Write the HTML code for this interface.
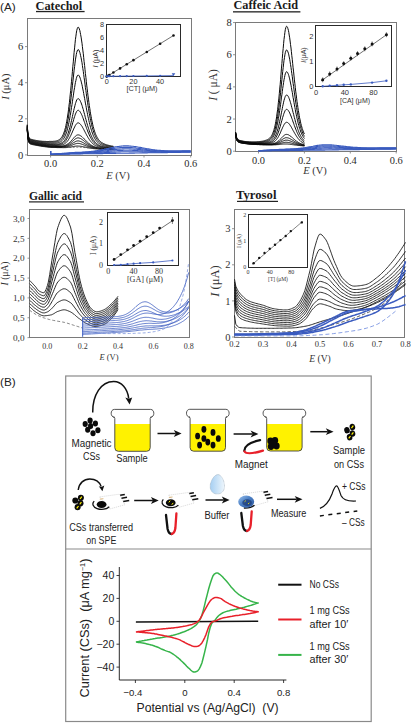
<!DOCTYPE html>
<html><head><meta charset="utf-8"><style>
html,body{margin:0;padding:0;background:#fff;}
body{width:411px;height:723px;overflow:hidden;}
svg{display:block;} text{white-space:pre;}
</style></head><body>
<svg width="411" height="723" viewBox="0 0 411 723">
<rect width="411" height="723" fill="#fff"/>
<text x="0" y="10.5" font-family="'Liberation Sans', sans-serif" font-size="11.8" text-anchor="start" font-weight="normal" font-style="normal" fill="#222" >(A)</text>
<rect x="27.5" y="18.5" width="164.0" height="137.0" fill="none" stroke="#7a7a7a" stroke-width="1"/>
<text x="35.5" y="9.5" font-family="'Liberation Serif', serif" font-size="12.4" text-anchor="start" font-weight="bold" font-style="normal" fill="#1a1a1a" textLength="46.7" lengthAdjust="spacingAndGlyphs">Catechol</text>
<rect x="36" y="10.9" width="48.6" height="1.3" fill="#222"/>
<text x="23.4" y="158.5" font-family="'Liberation Serif', serif" font-size="10.6" text-anchor="end" font-weight="normal" font-style="normal" fill="#2a2a2a" >0</text>
<line x1="25.0" y1="154.9" x2="27.5" y2="154.9" stroke="#7a7a7a" stroke-width="0.8"/>
<text x="23.4" y="122.4" font-family="'Liberation Serif', serif" font-size="10.6" text-anchor="end" font-weight="normal" font-style="normal" fill="#2a2a2a" >2</text>
<line x1="25.0" y1="118.80000000000001" x2="27.5" y2="118.80000000000001" stroke="#7a7a7a" stroke-width="0.8"/>
<text x="23.4" y="86.3" font-family="'Liberation Serif', serif" font-size="10.6" text-anchor="end" font-weight="normal" font-style="normal" fill="#2a2a2a" >4</text>
<line x1="25.0" y1="82.7" x2="27.5" y2="82.7" stroke="#7a7a7a" stroke-width="0.8"/>
<text x="23.4" y="50.199999999999996" font-family="'Liberation Serif', serif" font-size="10.6" text-anchor="end" font-weight="normal" font-style="normal" fill="#2a2a2a" >6</text>
<line x1="25.0" y1="46.599999999999994" x2="27.5" y2="46.599999999999994" stroke="#7a7a7a" stroke-width="0.8"/>
<text x="50.6" y="166.8" font-family="'Liberation Serif', serif" font-size="10.4" text-anchor="middle" font-weight="normal" font-style="normal" fill="#2a2a2a" >0.0</text>
<line x1="50.6" y1="155.5" x2="50.6" y2="157.5" stroke="#7a7a7a" stroke-width="0.8"/>
<text x="97.30000000000001" y="166.8" font-family="'Liberation Serif', serif" font-size="10.4" text-anchor="middle" font-weight="normal" font-style="normal" fill="#2a2a2a" >0.2</text>
<line x1="97.30000000000001" y1="155.5" x2="97.30000000000001" y2="157.5" stroke="#7a7a7a" stroke-width="0.8"/>
<text x="144.0" y="166.8" font-family="'Liberation Serif', serif" font-size="10.4" text-anchor="middle" font-weight="normal" font-style="normal" fill="#2a2a2a" >0.4</text>
<line x1="144.0" y1="155.5" x2="144.0" y2="157.5" stroke="#7a7a7a" stroke-width="0.8"/>
<text x="190.7" y="166.8" font-family="'Liberation Serif', serif" font-size="10.4" text-anchor="middle" font-weight="normal" font-style="normal" fill="#2a2a2a" >0.6</text>
<line x1="190.7" y1="155.5" x2="190.7" y2="157.5" stroke="#7a7a7a" stroke-width="0.8"/>
<text x="118" y="178.5" font-family="'Liberation Serif', serif" font-size="10.5" text-anchor="middle" font-weight="normal" font-style="normal" fill="#333" ><tspan font-style="italic">E</tspan> (V)</text>
<text x="0" y="0" font-family="'Liberation Serif', serif" font-size="10.5" text-anchor="middle" font-weight="normal" font-style="normal" fill="#333" transform="translate(9.4,86.6) rotate(-90)"><tspan font-style="italic">I</tspan> (μA)</text>
<path d="M27.2,124.6 L27.7,131.0 L28.1,134.5 L28.6,136.5 L29.0,137.6 L29.4,138.2 L29.9,138.6 L30.3,138.9 L30.7,139.1 L31.2,139.3 L31.6,139.4 L32.0,139.5 L32.5,139.7 L32.9,139.8 L33.3,139.9 L33.8,140.0 L34.2,140.1 L34.6,140.1 L35.1,140.2 L35.5,140.3 L35.9,140.4 L36.4,140.5 L36.8,140.5 L37.2,140.6 L37.7,140.7 L38.1,140.8 L38.5,140.8 L39.0,140.9 L39.4,140.9 L39.8,141.0 L40.3,141.0 L40.7,141.1 L41.1,141.1 L41.6,141.2 L42.0,141.2 L42.4,141.3 L42.9,141.3 L43.3,141.3 L43.7,141.4 L44.2,141.4 L44.6,141.4 L45.0,141.4 L45.5,141.4 L45.9,141.5 L46.4,141.5 L46.8,141.5 L47.2,141.5 L47.7,141.5 L48.1,141.5 L48.5,141.5 L49.0,141.5 L49.4,141.4 L49.8,141.4 L50.3,141.4 L50.7,141.4 L51.1,141.4 L51.6,141.4 L52.0,141.4 L52.4,141.4 L52.9,141.4 L53.3,141.3 L53.7,141.3 L54.2,141.3 L54.6,141.2 L55.0,141.1 L55.5,141.1 L55.9,141.0 L56.3,140.9 L56.8,140.8 L57.2,140.6 L57.6,140.5 L58.1,140.3 L58.5,140.1 L58.9,139.8 L59.4,139.5 L59.8,139.2 L60.2,138.9 L60.7,138.4 L61.1,137.9 L61.5,137.4 L62.0,136.8 L62.4,136.0 L62.8,135.2 L63.3,134.3 L63.7,133.2 L64.2,132.0 L64.6,130.7 L65.0,129.1 L65.5,127.5 L65.9,125.6 L66.3,123.5 L66.8,121.2 L67.2,118.7 L67.6,116.0 L68.1,113.0 L68.5,109.8 L68.9,106.4 L69.4,102.7 L69.8,98.8 L70.2,94.7 L70.7,90.4 L71.1,85.9 L71.5,81.3 L72.0,76.5 L72.4,71.7 L72.8,66.8 L73.3,61.9 L73.7,57.1 L74.1,52.4 L74.6,47.9 L75.0,43.7 L75.4,39.7 L75.9,36.2 L76.3,33.2 L76.7,30.7 L77.2,28.8 L77.6,27.6 L78.0,27.1 L78.5,27.3 L78.9,27.9 L79.3,28.9 L79.8,30.4 L80.2,32.3 L80.6,34.5 L81.1,37.1 L81.5,40.0 L82.0,43.2 L82.4,46.6 L82.8,50.1 L83.3,53.8 L83.7,57.7 L84.1,61.6 L84.6,65.5 L85.0,69.5 L85.4,73.5 L85.9,77.4 L86.3,81.3 L86.7,85.1 L87.2,88.8 L87.6,92.4 L88.0,95.9 L88.5,99.2 L88.9,102.5 L89.3,105.6 L89.8,108.5 L90.2,111.3 L90.6,113.9 L91.1,116.4 L91.5,118.7 L91.9,120.9 L92.4,123.0 L92.8,124.9 L93.2,126.6 L93.7,128.3 L94.1,129.8 L94.5,131.2 L95.0,132.4 L95.4,133.6 L95.8,134.7 L96.3,135.6 L96.7,136.5 L97.1,137.3 L97.6,138.1 L98.0,138.8 L98.4,139.4 L98.9,139.9 L99.3,140.4 L99.8,140.9 L100.2,141.3 L100.6,141.7 L101.1,142.1 L101.5,142.4 L101.9,142.7 L102.4,142.9 L102.8,143.2 L103.2,143.4 L103.7,143.6 L104.1,143.8 L104.5,144.0 L105.0,144.2 L105.4,144.4 L105.8,144.5 L106.3,144.7 L106.7,144.8 L107.1,144.9 L107.6,145.1 L108.0,145.2 L108.4,145.3 L108.9,145.4 L109.3,145.5 L109.7,145.6 L110.2,145.7 L110.6,145.8 L111.0,145.9 L111.5,146.0 L111.9,146.1 L112.3,146.1 L112.8,146.2 L113.2,146.3 L113.6,146.4" fill="none" stroke="#0a0a0a" stroke-width="1.0" stroke-linejoin="round" />
<path d="M27.2,125.2 L27.7,131.6 L28.1,135.1 L28.6,137.0 L29.0,138.2 L29.4,138.8 L29.9,139.2 L30.3,139.5 L30.7,139.7 L31.2,139.9 L31.6,140.0 L32.0,140.1 L32.5,140.2 L32.9,140.3 L33.3,140.4 L33.8,140.5 L34.2,140.6 L34.6,140.7 L35.1,140.8 L35.5,140.9 L35.9,141.0 L36.4,141.1 L36.8,141.1 L37.2,141.2 L37.7,141.3 L38.1,141.4 L38.5,141.4 L39.0,141.5 L39.4,141.5 L39.8,141.6 L40.3,141.7 L40.7,141.7 L41.1,141.8 L41.6,141.8 L42.0,141.9 L42.4,141.9 L42.9,142.0 L43.3,142.0 L43.7,142.0 L44.2,142.1 L44.6,142.1 L45.0,142.1 L45.5,142.1 L45.9,142.2 L46.4,142.2 L46.8,142.2 L47.2,142.2 L47.7,142.2 L48.1,142.2 L48.5,142.2 L49.0,142.2 L49.4,142.2 L49.8,142.2 L50.3,142.2 L50.7,142.2 L51.1,142.2 L51.6,142.2 L52.0,142.3 L52.4,142.2 L52.9,142.2 L53.3,142.2 L53.7,142.2 L54.2,142.2 L54.6,142.1 L55.0,142.1 L55.5,142.0 L55.9,142.0 L56.3,141.9 L56.8,141.8 L57.2,141.7 L57.6,141.6 L58.1,141.4 L58.5,141.3 L58.9,141.1 L59.4,140.9 L59.8,140.6 L60.2,140.3 L60.7,140.0 L61.1,139.6 L61.5,139.1 L62.0,138.6 L62.4,138.1 L62.8,137.4 L63.3,136.6 L63.7,135.8 L64.2,134.8 L64.6,133.7 L65.0,132.5 L65.5,131.1 L65.9,129.6 L66.3,127.9 L66.8,126.1 L67.2,124.0 L67.6,121.8 L68.1,119.4 L68.5,116.8 L68.9,114.0 L69.4,111.0 L69.8,107.9 L70.2,104.5 L70.7,101.0 L71.1,97.4 L71.5,93.6 L72.0,89.8 L72.4,85.8 L72.8,81.9 L73.3,77.9 L73.7,74.0 L74.1,70.2 L74.6,66.5 L75.0,63.1 L75.4,59.9 L75.9,57.0 L76.3,54.5 L76.7,52.5 L77.2,51.0 L77.6,50.0 L78.0,49.6 L78.5,49.7 L78.9,50.2 L79.3,51.1 L79.8,52.3 L80.2,53.8 L80.6,55.7 L81.1,57.8 L81.5,60.1 L82.0,62.7 L82.4,65.5 L82.8,68.4 L83.3,71.4 L83.7,74.5 L84.1,77.7 L84.6,80.9 L85.0,84.2 L85.4,87.4 L85.9,90.6 L86.3,93.7 L86.7,96.8 L87.2,99.9 L87.6,102.8 L88.0,105.6 L88.5,108.4 L88.9,111.0 L89.3,113.5 L89.8,115.9 L90.2,118.2 L90.6,120.3 L91.1,122.4 L91.5,124.3 L91.9,126.1 L92.4,127.7 L92.8,129.3 L93.2,130.7 L93.7,132.0 L94.1,133.3 L94.5,134.4 L95.0,135.4 L95.4,136.4 L95.8,137.3 L96.3,138.1 L96.7,138.8 L97.1,139.5 L97.6,140.1 L98.0,140.6 L98.4,141.1 L98.9,141.6 L99.3,142.0 L99.8,142.4 L100.2,142.7 L100.6,143.0 L101.1,143.3 L101.5,143.6 L101.9,143.8 L102.4,144.1 L102.8,144.3 L103.2,144.5 L103.7,144.6 L104.1,144.8 L104.5,144.9 L105.0,145.1 L105.4,145.2 L105.8,145.4 L106.3,145.5 L106.7,145.6 L107.1,145.7 L107.6,145.8 L108.0,145.9 L108.4,146.0 L108.9,146.1 L109.3,146.2 L109.7,146.3 L110.2,146.4 L110.6,146.4 L111.0,146.5 L111.5,146.6 L111.9,146.7 L112.3,146.7 L112.8,146.8 L113.2,146.9 L113.6,146.9" fill="none" stroke="#0a0a0a" stroke-width="1.0" stroke-linejoin="round" />
<path d="M27.2,125.8 L27.7,132.2 L28.1,135.7 L28.6,137.7 L29.0,138.8 L29.4,139.4 L29.9,139.8 L30.3,140.1 L30.7,140.3 L31.2,140.5 L31.6,140.6 L32.0,140.7 L32.5,140.8 L32.9,140.9 L33.3,141.0 L33.8,141.1 L34.2,141.2 L34.6,141.3 L35.1,141.4 L35.5,141.5 L35.9,141.6 L36.4,141.7 L36.8,141.8 L37.2,141.8 L37.7,141.9 L38.1,142.0 L38.5,142.1 L39.0,142.1 L39.4,142.2 L39.8,142.3 L40.3,142.3 L40.7,142.4 L41.1,142.4 L41.6,142.5 L42.0,142.6 L42.4,142.6 L42.9,142.7 L43.3,142.7 L43.7,142.7 L44.2,142.8 L44.6,142.8 L45.0,142.9 L45.5,142.9 L45.9,142.9 L46.4,143.0 L46.8,143.0 L47.2,143.0 L47.7,143.0 L48.1,143.1 L48.5,143.1 L49.0,143.1 L49.4,143.1 L49.8,143.1 L50.3,143.1 L50.7,143.1 L51.1,143.2 L51.6,143.2 L52.0,143.2 L52.4,143.2 L52.9,143.2 L53.3,143.2 L53.7,143.2 L54.2,143.2 L54.6,143.2 L55.0,143.2 L55.5,143.1 L55.9,143.1 L56.3,143.0 L56.8,143.0 L57.2,142.9 L57.6,142.8 L58.1,142.7 L58.5,142.6 L58.9,142.5 L59.4,142.3 L59.8,142.2 L60.2,142.0 L60.7,141.7 L61.1,141.4 L61.5,141.1 L62.0,140.7 L62.4,140.3 L62.8,139.8 L63.3,139.3 L63.7,138.6 L64.2,137.9 L64.6,137.1 L65.0,136.2 L65.5,135.2 L65.9,134.1 L66.3,132.9 L66.8,131.5 L67.2,130.0 L67.6,128.4 L68.1,126.6 L68.5,124.7 L68.9,122.6 L69.4,120.4 L69.8,118.1 L70.2,115.6 L70.7,113.0 L71.1,110.3 L71.5,107.5 L72.0,104.7 L72.4,101.8 L72.8,98.8 L73.3,95.9 L73.7,93.0 L74.1,90.2 L74.6,87.5 L75.0,84.9 L75.4,82.6 L75.9,80.5 L76.3,78.6 L76.7,77.2 L77.2,76.0 L77.6,75.3 L78.0,75.0 L78.5,75.1 L78.9,75.5 L79.3,76.1 L79.8,77.0 L80.2,78.2 L80.6,79.5 L81.1,81.1 L81.5,82.9 L82.0,84.8 L82.4,86.8 L82.8,89.0 L83.3,91.2 L83.7,93.5 L84.1,95.9 L84.6,98.3 L85.0,100.7 L85.4,103.1 L85.9,105.5 L86.3,107.8 L86.7,110.1 L87.2,112.4 L87.6,114.6 L88.0,116.7 L88.5,118.7 L88.9,120.7 L89.3,122.5 L89.8,124.3 L90.2,126.0 L90.6,127.6 L91.1,129.1 L91.5,130.5 L91.9,131.8 L92.4,133.1 L92.8,134.2 L93.2,135.3 L93.7,136.3 L94.1,137.2 L94.5,138.0 L95.0,138.8 L95.4,139.5 L95.8,140.2 L96.3,140.8 L96.7,141.3 L97.1,141.8 L97.6,142.3 L98.0,142.7 L98.4,143.1 L98.9,143.4 L99.3,143.7 L99.8,144.0 L100.2,144.3 L100.6,144.5 L101.1,144.7 L101.5,144.9 L101.9,145.1 L102.4,145.3 L102.8,145.5 L103.2,145.6 L103.7,145.7 L104.1,145.9 L104.5,146.0 L105.0,146.1 L105.4,146.2 L105.8,146.3 L106.3,146.4 L106.7,146.5 L107.1,146.6 L107.6,146.7 L108.0,146.7 L108.4,146.8 L108.9,146.9 L109.3,146.9 L109.7,147.0 L110.2,147.1 L110.6,147.1 L111.0,147.2 L111.5,147.3 L111.9,147.3 L112.3,147.4 L112.8,147.4 L113.2,147.5 L113.6,147.5" fill="none" stroke="#0a0a0a" stroke-width="1.0" stroke-linejoin="round" />
<path d="M27.2,126.4 L27.7,132.8 L28.1,136.3 L28.6,138.3 L29.0,139.4 L29.4,140.0 L29.9,140.4 L30.3,140.7 L30.7,140.9 L31.2,141.1 L31.6,141.2 L32.0,141.3 L32.5,141.4 L32.9,141.5 L33.3,141.6 L33.8,141.7 L34.2,141.8 L34.6,141.9 L35.1,142.0 L35.5,142.1 L35.9,142.2 L36.4,142.3 L36.8,142.4 L37.2,142.5 L37.7,142.5 L38.1,142.6 L38.5,142.7 L39.0,142.8 L39.4,142.8 L39.8,142.9 L40.3,143.0 L40.7,143.0 L41.1,143.1 L41.6,143.2 L42.0,143.2 L42.4,143.3 L42.9,143.3 L43.3,143.4 L43.7,143.4 L44.2,143.5 L44.6,143.5 L45.0,143.6 L45.5,143.6 L45.9,143.7 L46.4,143.7 L46.8,143.7 L47.2,143.8 L47.7,143.8 L48.1,143.8 L48.5,143.9 L49.0,143.9 L49.4,143.9 L49.8,143.9 L50.3,144.0 L50.7,144.0 L51.1,144.0 L51.6,144.1 L52.0,144.1 L52.4,144.1 L52.9,144.1 L53.3,144.1 L53.7,144.1 L54.2,144.2 L54.6,144.2 L55.0,144.2 L55.5,144.1 L55.9,144.1 L56.3,144.1 L56.8,144.1 L57.2,144.1 L57.6,144.0 L58.1,144.0 L58.5,143.9 L58.9,143.8 L59.4,143.7 L59.8,143.6 L60.2,143.5 L60.7,143.3 L61.1,143.2 L61.5,142.9 L62.0,142.7 L62.4,142.4 L62.8,142.1 L63.3,141.7 L63.7,141.3 L64.2,140.9 L64.6,140.3 L65.0,139.7 L65.5,139.1 L65.9,138.3 L66.3,137.5 L66.8,136.6 L67.2,135.6 L67.6,134.5 L68.1,133.3 L68.5,132.0 L68.9,130.6 L69.4,129.1 L69.8,127.5 L70.2,125.9 L70.7,124.2 L71.1,122.3 L71.5,120.5 L72.0,118.5 L72.4,116.6 L72.8,114.6 L73.3,112.6 L73.7,110.7 L74.1,108.8 L74.6,107.0 L75.0,105.3 L75.4,103.7 L75.9,102.3 L76.3,101.0 L76.7,100.0 L77.2,99.3 L77.6,98.8 L78.0,98.6 L78.5,98.7 L78.9,98.9 L79.3,99.4 L79.8,100.0 L80.2,100.8 L80.6,101.7 L81.1,102.8 L81.5,104.0 L82.0,105.3 L82.4,106.7 L82.8,108.1 L83.3,109.6 L83.7,111.2 L84.1,112.8 L84.6,114.4 L85.0,116.1 L85.4,117.7 L85.9,119.3 L86.3,120.9 L86.7,122.5 L87.2,124.0 L87.6,125.5 L88.0,126.9 L88.5,128.3 L88.9,129.6 L89.3,130.9 L89.8,132.1 L90.2,133.2 L90.6,134.3 L91.1,135.3 L91.5,136.3 L91.9,137.2 L92.4,138.1 L92.8,138.8 L93.2,139.6 L93.7,140.2 L94.1,140.9 L94.5,141.4 L95.0,142.0 L95.4,142.5 L95.8,142.9 L96.3,143.3 L96.7,143.7 L97.1,144.0 L97.6,144.3 L98.0,144.6 L98.4,144.9 L98.9,145.1 L99.3,145.4 L99.8,145.6 L100.2,145.7 L100.6,145.9 L101.1,146.1 L101.5,146.2 L101.9,146.3 L102.4,146.5 L102.8,146.6 L103.2,146.7 L103.7,146.8 L104.1,146.9 L104.5,146.9 L105.0,147.0 L105.4,147.1 L105.8,147.2 L106.3,147.2 L106.7,147.3 L107.1,147.4 L107.6,147.4 L108.0,147.5 L108.4,147.6 L108.9,147.6 L109.3,147.7 L109.7,147.7 L110.2,147.8 L110.6,147.8 L111.0,147.9 L111.5,147.9 L111.9,147.9 L112.3,148.0 L112.8,148.0 L113.2,148.1 L113.6,148.1" fill="none" stroke="#0a0a0a" stroke-width="1.0" stroke-linejoin="round" />
<path d="M27.2,126.9 L27.7,133.3 L28.1,136.8 L28.6,138.8 L29.0,139.9 L29.4,140.5 L29.9,140.9 L30.3,141.2 L30.7,141.4 L31.2,141.5 L31.6,141.7 L32.0,141.8 L32.5,141.9 L32.9,142.0 L33.3,142.1 L33.8,142.2 L34.2,142.3 L34.6,142.4 L35.1,142.5 L35.5,142.6 L35.9,142.7 L36.4,142.8 L36.8,142.9 L37.2,142.9 L37.7,143.0 L38.1,143.1 L38.5,143.2 L39.0,143.3 L39.4,143.3 L39.8,143.4 L40.3,143.5 L40.7,143.5 L41.1,143.6 L41.6,143.7 L42.0,143.7 L42.4,143.8 L42.9,143.8 L43.3,143.9 L43.7,144.0 L44.2,144.0 L44.6,144.1 L45.0,144.1 L45.5,144.2 L45.9,144.2 L46.4,144.2 L46.8,144.3 L47.2,144.3 L47.7,144.4 L48.1,144.4 L48.5,144.4 L49.0,144.5 L49.4,144.5 L49.8,144.5 L50.3,144.6 L50.7,144.6 L51.1,144.6 L51.6,144.7 L52.0,144.7 L52.4,144.7 L52.9,144.7 L53.3,144.7 L53.7,144.8 L54.2,144.8 L54.6,144.8 L55.0,144.8 L55.5,144.8 L55.9,144.8 L56.3,144.8 L56.8,144.8 L57.2,144.7 L57.6,144.7 L58.1,144.7 L58.5,144.6 L58.9,144.6 L59.4,144.5 L59.8,144.4 L60.2,144.3 L60.7,144.2 L61.1,144.1 L61.5,144.0 L62.0,143.8 L62.4,143.6 L62.8,143.3 L63.3,143.1 L63.7,142.7 L64.2,142.4 L64.6,142.0 L65.0,141.5 L65.5,141.0 L65.9,140.5 L66.3,139.8 L66.8,139.1 L67.2,138.4 L67.6,137.6 L68.1,136.6 L68.5,135.7 L68.9,134.6 L69.4,133.5 L69.8,132.3 L70.2,131.0 L70.7,129.7 L71.1,128.3 L71.5,126.9 L72.0,125.4 L72.4,124.0 L72.8,122.5 L73.3,121.0 L73.7,119.5 L74.1,118.0 L74.6,116.6 L75.0,115.3 L75.4,114.1 L75.9,113.1 L76.3,112.1 L76.7,111.4 L77.2,110.8 L77.6,110.4 L78.0,110.3 L78.5,110.3 L78.9,110.5 L79.3,110.9 L79.8,111.4 L80.2,112.0 L80.6,112.7 L81.1,113.5 L81.5,114.4 L82.0,115.4 L82.4,116.5 L82.8,117.6 L83.3,118.8 L83.7,120.0 L84.1,121.2 L84.6,122.5 L85.0,123.7 L85.4,124.9 L85.9,126.2 L86.3,127.4 L86.7,128.6 L87.2,129.8 L87.6,130.9 L88.0,132.0 L88.5,133.1 L88.9,134.1 L89.3,135.0 L89.8,136.0 L90.2,136.9 L90.6,137.7 L91.1,138.5 L91.5,139.2 L91.9,139.9 L92.4,140.6 L92.8,141.2 L93.2,141.7 L93.7,142.2 L94.1,142.7 L94.5,143.2 L95.0,143.6 L95.4,144.0 L95.8,144.3 L96.3,144.6 L96.7,144.9 L97.1,145.2 L97.6,145.4 L98.0,145.6 L98.4,145.8 L98.9,146.0 L99.3,146.2 L99.8,146.4 L100.2,146.5 L100.6,146.6 L101.1,146.8 L101.5,146.9 L101.9,147.0 L102.4,147.1 L102.8,147.2 L103.2,147.2 L103.7,147.3 L104.1,147.4 L104.5,147.5 L105.0,147.5 L105.4,147.6 L105.8,147.7 L106.3,147.7 L106.7,147.8 L107.1,147.8 L107.6,147.9 L108.0,147.9 L108.4,148.0 L108.9,148.0 L109.3,148.1 L109.7,148.1 L110.2,148.1 L110.6,148.2 L111.0,148.2 L111.5,148.3 L111.9,148.3 L112.3,148.3 L112.8,148.4 L113.2,148.4 L113.6,148.4" fill="none" stroke="#0a0a0a" stroke-width="1.0" stroke-linejoin="round" />
<path d="M27.2,127.5 L27.7,133.9 L28.1,137.4 L28.6,139.3 L29.0,140.4 L29.4,141.0 L29.9,141.4 L30.3,141.7 L30.7,141.9 L31.2,142.0 L31.6,142.2 L32.0,142.3 L32.5,142.4 L32.9,142.5 L33.3,142.6 L33.8,142.7 L34.2,142.8 L34.6,142.9 L35.1,143.0 L35.5,143.1 L35.9,143.2 L36.4,143.3 L36.8,143.4 L37.2,143.4 L37.7,143.5 L38.1,143.6 L38.5,143.7 L39.0,143.8 L39.4,143.8 L39.8,143.9 L40.3,144.0 L40.7,144.0 L41.1,144.1 L41.6,144.2 L42.0,144.2 L42.4,144.3 L42.9,144.4 L43.3,144.4 L43.7,144.5 L44.2,144.5 L44.6,144.6 L45.0,144.7 L45.5,144.7 L45.9,144.8 L46.4,144.8 L46.8,144.9 L47.2,144.9 L47.7,144.9 L48.1,145.0 L48.5,145.0 L49.0,145.1 L49.4,145.1 L49.8,145.1 L50.3,145.2 L50.7,145.2 L51.1,145.2 L51.6,145.3 L52.0,145.3 L52.4,145.3 L52.9,145.4 L53.3,145.4 L53.7,145.4 L54.2,145.4 L54.6,145.4 L55.0,145.4 L55.5,145.5 L55.9,145.5 L56.3,145.5 L56.8,145.5 L57.2,145.5 L57.6,145.5 L58.1,145.4 L58.5,145.4 L58.9,145.4 L59.4,145.4 L59.8,145.3 L60.2,145.3 L60.7,145.2 L61.1,145.1 L61.5,145.0 L62.0,144.9 L62.4,144.8 L62.8,144.6 L63.3,144.5 L63.7,144.3 L64.2,144.0 L64.6,143.8 L65.0,143.5 L65.5,143.1 L65.9,142.8 L66.3,142.4 L66.8,141.9 L67.2,141.4 L67.6,140.9 L68.1,140.3 L68.5,139.6 L68.9,138.9 L69.4,138.2 L69.8,137.4 L70.2,136.6 L70.7,135.7 L71.1,134.8 L71.5,133.8 L72.0,132.9 L72.4,131.9 L72.8,130.9 L73.3,129.9 L73.7,128.9 L74.1,128.0 L74.6,127.1 L75.0,126.2 L75.4,125.4 L75.9,124.7 L76.3,124.1 L76.7,123.6 L77.2,123.2 L77.6,123.0 L78.0,122.9 L78.5,122.9 L78.9,123.0 L79.3,123.3 L79.8,123.6 L80.2,124.0 L80.6,124.5 L81.1,125.1 L81.5,125.7 L82.0,126.3 L82.4,127.1 L82.8,127.8 L83.3,128.6 L83.7,129.4 L84.1,130.2 L84.6,131.1 L85.0,131.9 L85.4,132.7 L85.9,133.6 L86.3,134.4 L86.7,135.2 L87.2,136.0 L87.6,136.7 L88.0,137.5 L88.5,138.2 L88.9,138.9 L89.3,139.5 L89.8,140.2 L90.2,140.8 L90.6,141.3 L91.1,141.8 L91.5,142.3 L91.9,142.8 L92.4,143.2 L92.8,143.7 L93.2,144.0 L93.7,144.4 L94.1,144.7 L94.5,145.0 L95.0,145.3 L95.4,145.6 L95.8,145.8 L96.3,146.0 L96.7,146.2 L97.1,146.4 L97.6,146.6 L98.0,146.7 L98.4,146.9 L98.9,147.0 L99.3,147.1 L99.8,147.2 L100.2,147.3 L100.6,147.4 L101.1,147.5 L101.5,147.6 L101.9,147.7 L102.4,147.7 L102.8,147.8 L103.2,147.9 L103.7,147.9 L104.1,148.0 L104.5,148.0 L105.0,148.1 L105.4,148.1 L105.8,148.2 L106.3,148.2 L106.7,148.3 L107.1,148.3 L107.6,148.3 L108.0,148.4 L108.4,148.4 L108.9,148.4 L109.3,148.5 L109.7,148.5 L110.2,148.6 L110.6,148.6 L111.0,148.6 L111.5,148.6 L111.9,148.7 L112.3,148.7 L112.8,148.7 L113.2,148.8 L113.6,148.8" fill="none" stroke="#0a0a0a" stroke-width="1.0" stroke-linejoin="round" />
<path d="M27.2,128.0 L27.7,134.4 L28.1,137.9 L28.6,139.8 L29.0,140.9 L29.4,141.5 L29.9,141.9 L30.3,142.2 L30.7,142.4 L31.2,142.5 L31.6,142.7 L32.0,142.8 L32.5,142.9 L32.9,143.0 L33.3,143.1 L33.8,143.2 L34.2,143.3 L34.6,143.4 L35.1,143.5 L35.5,143.6 L35.9,143.7 L36.4,143.8 L36.8,143.8 L37.2,143.9 L37.7,144.0 L38.1,144.1 L38.5,144.2 L39.0,144.3 L39.4,144.3 L39.8,144.4 L40.3,144.5 L40.7,144.5 L41.1,144.6 L41.6,144.7 L42.0,144.8 L42.4,144.8 L42.9,144.9 L43.3,144.9 L43.7,145.0 L44.2,145.1 L44.6,145.1 L45.0,145.2 L45.5,145.2 L45.9,145.3 L46.4,145.4 L46.8,145.4 L47.2,145.5 L47.7,145.5 L48.1,145.6 L48.5,145.6 L49.0,145.6 L49.4,145.7 L49.8,145.7 L50.3,145.8 L50.7,145.8 L51.1,145.9 L51.6,145.9 L52.0,145.9 L52.4,145.9 L52.9,146.0 L53.3,146.0 L53.7,146.0 L54.2,146.0 L54.6,146.1 L55.0,146.1 L55.5,146.1 L55.9,146.1 L56.3,146.1 L56.8,146.2 L57.2,146.2 L57.6,146.2 L58.1,146.2 L58.5,146.2 L58.9,146.2 L59.4,146.2 L59.8,146.2 L60.2,146.1 L60.7,146.1 L61.1,146.1 L61.5,146.1 L62.0,146.0 L62.4,146.0 L62.8,145.9 L63.3,145.8 L63.7,145.7 L64.2,145.6 L64.6,145.5 L65.0,145.3 L65.5,145.2 L65.9,145.0 L66.3,144.8 L66.8,144.6 L67.2,144.3 L67.6,144.0 L68.1,143.7 L68.5,143.4 L68.9,143.1 L69.4,142.7 L69.8,142.3 L70.2,141.9 L70.7,141.4 L71.1,141.0 L71.5,140.5 L72.0,140.0 L72.4,139.5 L72.8,139.0 L73.3,138.5 L73.7,138.0 L74.1,137.5 L74.6,137.0 L75.0,136.6 L75.4,136.2 L75.9,135.8 L76.3,135.5 L76.7,135.2 L77.2,135.1 L77.6,134.9 L78.0,134.9 L78.5,134.9 L78.9,135.0 L79.3,135.1 L79.8,135.3 L80.2,135.5 L80.6,135.8 L81.1,136.1 L81.5,136.4 L82.0,136.8 L82.4,137.2 L82.8,137.6 L83.3,138.0 L83.7,138.4 L84.1,138.9 L84.6,139.3 L85.0,139.8 L85.4,140.2 L85.9,140.7 L86.3,141.1 L86.7,141.5 L87.2,141.9 L87.6,142.3 L88.0,142.7 L88.5,143.1 L88.9,143.5 L89.3,143.8 L89.8,144.2 L90.2,144.5 L90.6,144.8 L91.1,145.1 L91.5,145.3 L91.9,145.6 L92.4,145.8 L92.8,146.0 L93.2,146.3 L93.7,146.4 L94.1,146.6 L94.5,146.8 L95.0,146.9 L95.4,147.1 L95.8,147.2 L96.3,147.3 L96.7,147.5 L97.1,147.6 L97.6,147.7 L98.0,147.7 L98.4,147.8 L98.9,147.9 L99.3,148.0 L99.8,148.0 L100.2,148.1 L100.6,148.2 L101.1,148.2 L101.5,148.3 L101.9,148.3 L102.4,148.4 L102.8,148.4 L103.2,148.4 L103.7,148.5 L104.1,148.5 L104.5,148.6 L105.0,148.6 L105.4,148.6 L105.8,148.7 L106.3,148.7 L106.7,148.7 L107.1,148.8 L107.6,148.8 L108.0,148.8 L108.4,148.8 L108.9,148.9 L109.3,148.9 L109.7,148.9 L110.2,148.9 L110.6,149.0 L111.0,149.0 L111.5,149.0 L111.9,149.0 L112.3,149.1 L112.8,149.1 L113.2,149.1 L113.6,149.1" fill="none" stroke="#0a0a0a" stroke-width="1.0" stroke-linejoin="round" />
<path d="M27.2,128.5 L27.7,134.9 L28.1,138.3 L28.6,140.3 L29.0,141.3 L29.4,142.0 L29.9,142.4 L30.3,142.6 L30.7,142.8 L31.2,143.0 L31.6,143.1 L32.0,143.2 L32.5,143.3 L32.9,143.4 L33.3,143.5 L33.8,143.6 L34.2,143.7 L34.6,143.8 L35.1,143.9 L35.5,144.0 L35.9,144.1 L36.4,144.2 L36.8,144.2 L37.2,144.3 L37.7,144.4 L38.1,144.5 L38.5,144.6 L39.0,144.6 L39.4,144.7 L39.8,144.8 L40.3,144.9 L40.7,144.9 L41.1,145.0 L41.6,145.1 L42.0,145.1 L42.4,145.2 L42.9,145.3 L43.3,145.3 L43.7,145.4 L44.2,145.5 L44.6,145.5 L45.0,145.6 L45.5,145.6 L45.9,145.7 L46.4,145.8 L46.8,145.8 L47.2,145.9 L47.7,145.9 L48.1,146.0 L48.5,146.0 L49.0,146.1 L49.4,146.1 L49.8,146.1 L50.3,146.2 L50.7,146.2 L51.1,146.3 L51.6,146.3 L52.0,146.3 L52.4,146.3 L52.9,146.4 L53.3,146.4 L53.7,146.4 L54.2,146.4 L54.6,146.4 L55.0,146.5 L55.5,146.5 L55.9,146.5 L56.3,146.5 L56.8,146.5 L57.2,146.5 L57.6,146.5 L58.1,146.5 L58.5,146.5 L58.9,146.5 L59.4,146.5 L59.8,146.5 L60.2,146.5 L60.7,146.5 L61.1,146.5 L61.5,146.5 L62.0,146.4 L62.4,146.4 L62.8,146.3 L63.3,146.3 L63.7,146.2 L64.2,146.1 L64.6,146.0 L65.0,145.9 L65.5,145.8 L65.9,145.7 L66.3,145.5 L66.8,145.3 L67.2,145.2 L67.6,144.9 L68.1,144.7 L68.5,144.5 L68.9,144.2 L69.4,143.9 L69.8,143.6 L70.2,143.3 L70.7,142.9 L71.1,142.6 L71.5,142.2 L72.0,141.8 L72.4,141.4 L72.8,141.0 L73.3,140.7 L73.7,140.3 L74.1,139.9 L74.6,139.5 L75.0,139.2 L75.4,138.9 L75.9,138.6 L76.3,138.4 L76.7,138.2 L77.2,138.0 L77.6,137.9 L78.0,137.9 L78.5,137.9 L78.9,138.0 L79.3,138.1 L79.8,138.3 L80.2,138.4 L80.6,138.6 L81.1,138.9 L81.5,139.1 L82.0,139.4 L82.4,139.7 L82.8,140.0 L83.3,140.4 L83.7,140.7 L84.1,141.1 L84.6,141.4 L85.0,141.8 L85.4,142.1 L85.9,142.5 L86.3,142.8 L86.7,143.1 L87.2,143.5 L87.6,143.8 L88.0,144.1 L88.5,144.4 L88.9,144.7 L89.3,144.9 L89.8,145.2 L90.2,145.5 L90.6,145.7 L91.1,145.9 L91.5,146.1 L91.9,146.3 L92.4,146.5 L92.8,146.7 L93.2,146.9 L93.7,147.0 L94.1,147.2 L94.5,147.3 L95.0,147.4 L95.4,147.5 L95.8,147.6 L96.3,147.7 L96.7,147.8 L97.1,147.9 L97.6,148.0 L98.0,148.1 L98.4,148.1 L98.9,148.2 L99.3,148.3 L99.8,148.3 L100.2,148.4 L100.6,148.4 L101.1,148.5 L101.5,148.5 L101.9,148.6 L102.4,148.6 L102.8,148.6 L103.2,148.7 L103.7,148.7 L104.1,148.7 L104.5,148.8 L105.0,148.8 L105.4,148.8 L105.8,148.9 L106.3,148.9 L106.7,148.9 L107.1,148.9 L107.6,149.0 L108.0,149.0 L108.4,149.0 L108.9,149.0 L109.3,149.1 L109.7,149.1 L110.2,149.1 L110.6,149.1 L111.0,149.2 L111.5,149.2 L111.9,149.2 L112.3,149.2 L112.8,149.2 L113.2,149.3 L113.6,149.3" fill="none" stroke="#0a0a0a" stroke-width="1.0" stroke-linejoin="round" />
<path d="M27.2,129.0 L27.7,135.3 L28.1,138.8 L28.6,140.7 L29.0,141.8 L29.4,142.4 L29.9,142.8 L30.3,143.1 L30.7,143.3 L31.2,143.4 L31.6,143.5 L32.0,143.6 L32.5,143.7 L32.9,143.8 L33.3,143.9 L33.8,144.0 L34.2,144.1 L34.6,144.2 L35.1,144.3 L35.5,144.4 L35.9,144.5 L36.4,144.6 L36.8,144.6 L37.2,144.7 L37.7,144.8 L38.1,144.9 L38.5,145.0 L39.0,145.0 L39.4,145.1 L39.8,145.2 L40.3,145.3 L40.7,145.3 L41.1,145.4 L41.6,145.5 L42.0,145.5 L42.4,145.6 L42.9,145.7 L43.3,145.7 L43.7,145.8 L44.2,145.9 L44.6,145.9 L45.0,146.0 L45.5,146.0 L45.9,146.1 L46.4,146.1 L46.8,146.2 L47.2,146.3 L47.7,146.3 L48.1,146.4 L48.5,146.4 L49.0,146.5 L49.4,146.5 L49.8,146.6 L50.3,146.6 L50.7,146.6 L51.1,146.7 L51.6,146.7 L52.0,146.7 L52.4,146.7 L52.9,146.7 L53.3,146.8 L53.7,146.8 L54.2,146.8 L54.6,146.8 L55.0,146.8 L55.5,146.8 L55.9,146.8 L56.3,146.9 L56.8,146.9 L57.2,146.9 L57.6,146.9 L58.1,146.9 L58.5,146.9 L58.9,146.9 L59.4,146.9 L59.8,146.9 L60.2,146.9 L60.7,146.9 L61.1,146.9 L61.5,146.9 L62.0,146.9 L62.4,146.8 L62.8,146.8 L63.3,146.8 L63.7,146.7 L64.2,146.7 L64.6,146.6 L65.0,146.5 L65.5,146.4 L65.9,146.3 L66.3,146.2 L66.8,146.1 L67.2,146.0 L67.6,145.8 L68.1,145.7 L68.5,145.5 L68.9,145.3 L69.4,145.1 L69.8,144.9 L70.2,144.7 L70.7,144.4 L71.1,144.2 L71.5,143.9 L72.0,143.7 L72.4,143.4 L72.8,143.1 L73.3,142.8 L73.7,142.6 L74.1,142.3 L74.6,142.1 L75.0,141.8 L75.4,141.6 L75.9,141.4 L76.3,141.2 L76.7,141.1 L77.2,141.0 L77.6,140.9 L78.0,140.9 L78.5,140.9 L78.9,141.0 L79.3,141.1 L79.8,141.2 L80.2,141.3 L80.6,141.5 L81.1,141.7 L81.5,141.8 L82.0,142.1 L82.4,142.3 L82.8,142.5 L83.3,142.7 L83.7,143.0 L84.1,143.2 L84.6,143.5 L85.0,143.7 L85.4,144.0 L85.9,144.3 L86.3,144.5 L86.7,144.7 L87.2,145.0 L87.6,145.2 L88.0,145.4 L88.5,145.7 L88.9,145.9 L89.3,146.1 L89.8,146.3 L90.2,146.4 L90.6,146.6 L91.1,146.8 L91.5,146.9 L91.9,147.1 L92.4,147.2 L92.8,147.4 L93.2,147.5 L93.7,147.6 L94.1,147.7 L94.5,147.8 L95.0,147.9 L95.4,148.0 L95.8,148.1 L96.3,148.1 L96.7,148.2 L97.1,148.3 L97.6,148.3 L98.0,148.4 L98.4,148.5 L98.9,148.5 L99.3,148.5 L99.8,148.6 L100.2,148.6 L100.6,148.7 L101.1,148.7 L101.5,148.8 L101.9,148.8 L102.4,148.8 L102.8,148.8 L103.2,148.9 L103.7,148.9 L104.1,148.9 L104.5,149.0 L105.0,149.0 L105.4,149.0 L105.8,149.0 L106.3,149.1 L106.7,149.1 L107.1,149.1 L107.6,149.1 L108.0,149.2 L108.4,149.2 L108.9,149.2 L109.3,149.2 L109.7,149.3 L110.2,149.3 L110.6,149.3 L111.0,149.3 L111.5,149.3 L111.9,149.4 L112.3,149.4 L112.8,149.4 L113.2,149.4 L113.6,149.4" fill="none" stroke="#0a0a0a" stroke-width="1.0" stroke-linejoin="round" />
<path d="M27.2,129.4 L27.7,135.8 L28.1,139.2 L28.6,141.2 L29.0,142.2 L29.4,142.9 L29.9,143.3 L30.3,143.5 L30.7,143.7 L31.2,143.8 L31.6,143.9 L32.0,144.1 L32.5,144.2 L32.9,144.3 L33.3,144.3 L33.8,144.4 L34.2,144.5 L34.6,144.6 L35.1,144.7 L35.5,144.8 L35.9,144.9 L36.4,145.0 L36.8,145.0 L37.2,145.1 L37.7,145.2 L38.1,145.3 L38.5,145.4 L39.0,145.4 L39.4,145.5 L39.8,145.6 L40.3,145.7 L40.7,145.7 L41.1,145.8 L41.6,145.9 L42.0,145.9 L42.4,146.0 L42.9,146.1 L43.3,146.1 L43.7,146.2 L44.2,146.2 L44.6,146.3 L45.0,146.4 L45.5,146.4 L45.9,146.5 L46.4,146.5 L46.8,146.6 L47.2,146.6 L47.7,146.7 L48.1,146.8 L48.5,146.8 L49.0,146.9 L49.4,146.9 L49.8,146.9 L50.3,147.0 L50.7,147.0 L51.1,147.0 L51.6,147.1 L52.0,147.1 L52.4,147.1 L52.9,147.1 L53.3,147.1 L53.7,147.1 L54.2,147.1 L54.6,147.2 L55.0,147.2 L55.5,147.2 L55.9,147.2 L56.3,147.2 L56.8,147.2 L57.2,147.2 L57.6,147.2 L58.1,147.2 L58.5,147.2 L58.9,147.2 L59.4,147.3 L59.8,147.3 L60.2,147.3 L60.7,147.3 L61.1,147.2 L61.5,147.2 L62.0,147.2 L62.4,147.2 L62.8,147.2 L63.3,147.2 L63.7,147.1 L64.2,147.1 L64.6,147.1 L65.0,147.0 L65.5,147.0 L65.9,146.9 L66.3,146.9 L66.8,146.8 L67.2,146.7 L67.6,146.6 L68.1,146.5 L68.5,146.4 L68.9,146.3 L69.4,146.1 L69.8,146.0 L70.2,145.8 L70.7,145.7 L71.1,145.5 L71.5,145.3 L72.0,145.2 L72.4,145.0 L72.8,144.8 L73.3,144.6 L73.7,144.5 L74.1,144.3 L74.6,144.1 L75.0,144.0 L75.4,143.8 L75.9,143.7 L76.3,143.6 L76.7,143.5 L77.2,143.4 L77.6,143.4 L78.0,143.4 L78.5,143.4 L78.9,143.5 L79.3,143.5 L79.8,143.6 L80.2,143.7 L80.6,143.8 L81.1,143.9 L81.5,144.1 L82.0,144.2 L82.4,144.4 L82.8,144.5 L83.3,144.7 L83.7,144.9 L84.1,145.0 L84.6,145.2 L85.0,145.4 L85.4,145.6 L85.9,145.7 L86.3,145.9 L86.7,146.1 L87.2,146.2 L87.6,146.4 L88.0,146.6 L88.5,146.7 L88.9,146.9 L89.3,147.0 L89.8,147.1 L90.2,147.3 L90.6,147.4 L91.1,147.5 L91.5,147.6 L91.9,147.7 L92.4,147.8 L92.8,147.9 L93.2,148.0 L93.7,148.1 L94.1,148.2 L94.5,148.2 L95.0,148.3 L95.4,148.4 L95.8,148.4 L96.3,148.5 L96.7,148.5 L97.1,148.6 L97.6,148.6 L98.0,148.7 L98.4,148.7 L98.9,148.8 L99.3,148.8 L99.8,148.8 L100.2,148.9 L100.6,148.9 L101.1,148.9 L101.5,149.0 L101.9,149.0 L102.4,149.0 L102.8,149.0 L103.2,149.1 L103.7,149.1 L104.1,149.1 L104.5,149.1 L105.0,149.2 L105.4,149.2 L105.8,149.2 L106.3,149.2 L106.7,149.3 L107.1,149.3 L107.6,149.3 L108.0,149.3 L108.4,149.3 L108.9,149.4 L109.3,149.4 L109.7,149.4 L110.2,149.4 L110.6,149.4 L111.0,149.5 L111.5,149.5 L111.9,149.5 L112.3,149.5 L112.8,149.5 L113.2,149.6 L113.6,149.6" fill="none" stroke="#0a0a0a" stroke-width="1.0" stroke-linejoin="round" />
<path d="M27.2,129.9 L27.7,136.2 L28.1,139.7 L28.6,141.6 L29.0,142.7 L29.4,143.3 L29.9,143.7 L30.3,143.9 L30.7,144.1 L31.2,144.3 L31.6,144.4 L32.0,144.5 L32.5,144.6 L32.9,144.7 L33.3,144.8 L33.8,144.8 L34.2,144.9 L34.6,145.0 L35.1,145.1 L35.5,145.2 L35.9,145.3 L36.4,145.4 L36.8,145.4 L37.2,145.5 L37.7,145.6 L38.1,145.7 L38.5,145.7 L39.0,145.8 L39.4,145.9 L39.8,146.0 L40.3,146.0 L40.7,146.1 L41.1,146.2 L41.6,146.3 L42.0,146.3 L42.4,146.4 L42.9,146.4 L43.3,146.5 L43.7,146.6 L44.2,146.6 L44.6,146.7 L45.0,146.8 L45.5,146.8 L45.9,146.9 L46.4,146.9 L46.8,147.0 L47.2,147.0 L47.7,147.1 L48.1,147.1 L48.5,147.2 L49.0,147.2 L49.4,147.3 L49.8,147.3 L50.3,147.4 L50.7,147.4 L51.1,147.4 L51.6,147.5 L52.0,147.5 L52.4,147.5 L52.9,147.5 L53.3,147.5 L53.7,147.5 L54.2,147.5 L54.6,147.5 L55.0,147.5 L55.5,147.5 L55.9,147.5 L56.3,147.5 L56.8,147.6 L57.2,147.6 L57.6,147.6 L58.1,147.6 L58.5,147.6 L58.9,147.6 L59.4,147.6 L59.8,147.6 L60.2,147.6 L60.7,147.6 L61.1,147.6 L61.5,147.6 L62.0,147.6 L62.4,147.6 L62.8,147.6 L63.3,147.6 L63.7,147.6 L64.2,147.6 L64.6,147.6 L65.0,147.6 L65.5,147.6 L65.9,147.5 L66.3,147.5 L66.8,147.5 L67.2,147.4 L67.6,147.4 L68.1,147.4 L68.5,147.3 L68.9,147.3 L69.4,147.2 L69.8,147.1 L70.2,147.1 L70.7,147.0 L71.1,146.9 L71.5,146.9 L72.0,146.8 L72.4,146.7 L72.8,146.6 L73.3,146.6 L73.7,146.5 L74.1,146.4 L74.6,146.3 L75.0,146.3 L75.4,146.2 L75.9,146.2 L76.3,146.1 L76.7,146.1 L77.2,146.1 L77.6,146.0 L78.0,146.0 L78.5,146.1 L78.9,146.1 L79.3,146.1 L79.8,146.2 L80.2,146.2 L80.6,146.3 L81.1,146.4 L81.5,146.4 L82.0,146.5 L82.4,146.6 L82.8,146.7 L83.3,146.8 L83.7,146.9 L84.1,147.0 L84.6,147.0 L85.0,147.1 L85.4,147.2 L85.9,147.3 L86.3,147.4 L86.7,147.5 L87.2,147.6 L87.6,147.7 L88.0,147.8 L88.5,147.8 L88.9,147.9 L89.3,148.0 L89.8,148.1 L90.2,148.1 L90.6,148.2 L91.1,148.3 L91.5,148.3 L91.9,148.4 L92.4,148.4 L92.8,148.5 L93.2,148.6 L93.7,148.6 L94.1,148.6 L94.5,148.7 L95.0,148.7 L95.4,148.8 L95.8,148.8 L96.3,148.8 L96.7,148.9 L97.1,148.9 L97.6,148.9 L98.0,149.0 L98.4,149.0 L98.9,149.0 L99.3,149.1 L99.8,149.1 L100.2,149.1 L100.6,149.1 L101.1,149.2 L101.5,149.2 L101.9,149.2 L102.4,149.2 L102.8,149.3 L103.2,149.3 L103.7,149.3 L104.1,149.3 L104.5,149.3 L105.0,149.4 L105.4,149.4 L105.8,149.4 L106.3,149.4 L106.7,149.4 L107.1,149.5 L107.6,149.5 L108.0,149.5 L108.4,149.5 L108.9,149.5 L109.3,149.5 L109.7,149.6 L110.2,149.6 L110.6,149.6 L111.0,149.6 L111.5,149.6 L111.9,149.7 L112.3,149.7 L112.8,149.7 L113.2,149.7 L113.6,149.7" fill="none" stroke="#0a0a0a" stroke-width="1.0" stroke-linejoin="round" />
<path d="M62.3,147.6 L63.5,147.6 L64.7,147.6 L65.9,147.6 L67.1,147.5 L68.3,147.5 L69.5,147.4 L70.7,147.4 L71.9,147.3 L73.1,147.3 L74.2,147.2 L75.4,147.2 L76.6,147.2 L77.8,147.2 L79.0,147.3 L80.2,147.3 L81.4,147.4 L82.6,147.4 L83.8,147.5 L85.0,147.6 L86.2,147.7 L87.4,147.8 L88.6,147.8 L89.8,147.9 L91.0,148.0 L92.2,148.0 L93.4,148.1 L94.6,148.1 L95.8,148.2 L97.0,148.2 L98.2,148.2 L99.4,148.3 L100.6,148.3 L101.8,148.3 L103.0,148.4 L104.2,148.4 L105.4,148.4 L106.6,148.4 L107.8,148.5 L109.0,148.5" fill="none" stroke="#444" stroke-width="0.7" stroke-linejoin="round" stroke-dasharray="2,1.5"/>
<path d="M50.6,150.9 L50.6,154.4 L51.8,154.3 L53.0,154.3 L54.1,154.3 L55.3,154.3 L56.5,154.3 L57.7,154.2 L58.8,154.2 L60.0,154.2 L61.2,154.2 L62.4,154.2 L63.6,154.2 L64.7,154.1 L65.9,154.1 L67.1,154.1 L68.3,154.1 L69.4,154.1 L70.6,154.0 L71.8,154.0 L73.0,154.0 L74.1,154.0 L75.3,154.0 L76.5,154.0 L77.7,153.9 L78.9,153.9 L80.0,153.9 L81.2,153.9 L82.4,153.9 L83.6,153.8 L84.7,153.8 L85.9,153.8 L87.1,153.8 L88.3,153.8 L89.5,153.8 L90.6,153.7 L91.8,153.7 L93.0,153.7 L94.2,153.7 L95.3,153.7 L96.5,153.6 L97.7,153.6 L98.9,153.6 L100.0,153.6 L101.2,153.6 L102.4,153.6 L103.6,153.5 L104.8,153.5 L105.9,153.5 L107.1,153.5 L108.3,153.5 L109.5,153.4 L110.6,153.4 L111.8,153.4 L113.0,153.4 L114.2,153.4 L115.4,153.4 L116.5,153.3 L117.7,153.3 L118.9,153.3 L120.1,153.3 L121.2,153.3 L122.4,153.2 L123.6,153.2 L124.8,153.2 L125.9,153.2 L127.1,153.2 L128.3,153.2 L129.5,153.1 L130.7,153.1 L131.8,153.1 L133.0,153.1 L134.2,153.1 L135.4,153.0 L136.5,153.0 L137.7,153.0 L138.9,153.0 L140.1,153.0 L141.3,153.0 L142.4,152.9 L143.6,152.9 L144.8,152.9 L146.0,152.9 L147.1,152.9 L148.3,152.8 L149.5,152.8 L150.7,152.8 L151.8,152.8 L153.0,152.8 L154.2,152.8 L155.4,152.7 L156.6,152.7 L157.7,152.7 L158.9,152.7 L160.1,152.7 L161.3,152.6 L162.4,152.6 L163.6,152.6 L164.8,152.6 L166.0,152.6 L167.2,152.6 L168.3,152.5 L169.5,152.5 L170.7,152.5 L171.9,152.5 L173.0,152.5 L174.2,152.4 L175.4,152.4 L176.6,152.4 L177.7,152.4 L178.9,152.4 L180.1,152.4 L181.3,152.3 L182.5,152.3 L183.6,152.3 L184.8,152.3 L186.0,152.3 L187.2,152.2 L188.3,152.2 L189.5,152.2 L190.7,152.2" fill="none" stroke="#3a5bbf" stroke-width="1.1" stroke-linejoin="round" />
<path d="M50.6,150.9 L50.6,154.4 L51.8,154.3 L53.0,154.3 L54.1,154.3 L55.3,154.2 L56.5,154.2 L57.7,154.2 L58.8,154.1 L60.0,154.1 L61.2,154.1 L62.4,154.0 L63.6,154.0 L64.7,154.0 L65.9,153.9 L67.1,153.9 L68.3,153.9 L69.4,153.8 L70.6,153.8 L71.8,153.8 L73.0,153.7 L74.1,153.7 L75.3,153.7 L76.5,153.6 L77.7,153.6 L78.9,153.6 L80.0,153.6 L81.2,153.5 L82.4,153.5 L83.6,153.5 L84.7,153.5 L85.9,153.4 L87.1,153.4 L88.3,153.4 L89.5,153.3 L90.6,153.3 L91.8,153.2 L93.0,153.2 L94.2,153.2 L95.3,153.1 L96.5,153.1 L97.7,153.0 L98.9,152.9 L100.0,152.9 L101.2,152.8 L102.4,152.8 L103.6,152.7 L104.8,152.6 L105.9,152.6 L107.1,152.5 L108.3,152.4 L109.5,152.4 L110.6,152.3 L111.8,152.3 L113.0,152.2 L114.2,152.1 L115.4,152.1 L116.5,152.0 L117.7,152.0 L118.9,151.9 L120.1,151.9 L121.2,151.8 L122.4,151.8 L123.6,151.8 L124.8,151.8 L125.9,151.7 L127.1,151.7 L128.3,151.7 L129.5,151.7 L130.7,151.7 L131.8,151.7 L133.0,151.7 L134.2,151.7 L135.4,151.8 L136.5,151.8 L137.7,151.8 L138.9,151.8 L140.1,151.9 L141.3,151.9 L142.4,151.9 L143.6,152.0 L144.8,152.0 L146.0,152.0 L147.1,152.0 L148.3,152.1 L149.5,152.1 L150.7,152.1 L151.8,152.1 L153.0,152.2 L154.2,152.2 L155.4,152.2 L156.6,152.2 L157.7,152.2 L158.9,152.2 L160.1,152.2 L161.3,152.2 L162.4,152.2 L163.6,152.2 L164.8,152.2 L166.0,152.2 L167.2,152.2 L168.3,152.2 L169.5,152.2 L170.7,152.2 L171.9,152.2 L173.0,152.1 L174.2,152.1 L175.4,152.1 L176.6,152.1 L177.7,152.1 L178.9,152.1 L180.1,152.1 L181.3,152.0 L182.5,152.0 L183.6,152.0 L184.8,152.0 L186.0,152.0 L187.2,152.0 L188.3,151.9 L189.5,151.9 L190.7,151.9" fill="none" stroke="#3a5bbf" stroke-width="1.1" stroke-linejoin="round" />
<path d="M50.6,150.9 L50.6,154.4 L51.8,154.3 L53.0,154.3 L54.1,154.2 L55.3,154.2 L56.5,154.1 L57.7,154.1 L58.8,154.0 L60.0,154.0 L61.2,153.9 L62.4,153.9 L63.6,153.8 L64.7,153.8 L65.9,153.7 L67.1,153.7 L68.3,153.6 L69.4,153.6 L70.6,153.5 L71.8,153.5 L73.0,153.4 L74.1,153.4 L75.3,153.4 L76.5,153.3 L77.7,153.3 L78.9,153.3 L80.0,153.2 L81.2,153.2 L82.4,153.2 L83.6,153.1 L84.7,153.1 L85.9,153.0 L87.1,153.0 L88.3,152.9 L89.5,152.9 L90.6,152.8 L91.8,152.8 L93.0,152.7 L94.2,152.6 L95.3,152.5 L96.5,152.5 L97.7,152.4 L98.9,152.3 L100.0,152.2 L101.2,152.1 L102.4,152.0 L103.6,151.9 L104.8,151.8 L105.9,151.7 L107.1,151.5 L108.3,151.4 L109.5,151.3 L110.6,151.2 L111.8,151.1 L113.0,151.0 L114.2,150.9 L115.4,150.8 L116.5,150.7 L117.7,150.6 L118.9,150.5 L120.1,150.5 L121.2,150.4 L122.4,150.4 L123.6,150.3 L124.8,150.3 L125.9,150.3 L127.1,150.3 L128.3,150.3 L129.5,150.3 L130.7,150.3 L131.8,150.3 L133.0,150.4 L134.2,150.4 L135.4,150.5 L136.5,150.5 L137.7,150.6 L138.9,150.7 L140.1,150.8 L141.3,150.8 L142.4,150.9 L143.6,151.0 L144.8,151.1 L146.0,151.1 L147.1,151.2 L148.3,151.3 L149.5,151.3 L150.7,151.4 L151.8,151.5 L153.0,151.5 L154.2,151.6 L155.4,151.6 L156.6,151.7 L157.7,151.7 L158.9,151.7 L160.1,151.8 L161.3,151.8 L162.4,151.8 L163.6,151.8 L164.8,151.8 L166.0,151.8 L167.2,151.8 L168.3,151.8 L169.5,151.8 L170.7,151.8 L171.9,151.8 L173.0,151.8 L174.2,151.8 L175.4,151.8 L176.6,151.8 L177.7,151.8 L178.9,151.8 L180.1,151.8 L181.3,151.7 L182.5,151.7 L183.6,151.7 L184.8,151.7 L186.0,151.7 L187.2,151.7 L188.3,151.6 L189.5,151.6 L190.7,151.6" fill="none" stroke="#3a5bbf" stroke-width="1.1" stroke-linejoin="round" />
<path d="M50.6,150.9 L50.6,154.4 L51.8,154.3 L53.0,154.2 L54.1,154.2 L55.3,154.1 L56.5,154.0 L57.7,154.0 L58.8,153.9 L60.0,153.9 L61.2,153.8 L62.4,153.7 L63.6,153.7 L64.7,153.6 L65.9,153.5 L67.1,153.5 L68.3,153.4 L69.4,153.3 L70.6,153.3 L71.8,153.2 L73.0,153.1 L74.1,153.1 L75.3,153.1 L76.5,153.0 L77.7,153.0 L78.9,153.0 L80.0,152.9 L81.2,152.9 L82.4,152.8 L83.6,152.8 L84.7,152.7 L85.9,152.7 L87.1,152.6 L88.3,152.5 L89.5,152.5 L90.6,152.4 L91.8,152.3 L93.0,152.2 L94.2,152.1 L95.3,152.0 L96.5,151.9 L97.7,151.7 L98.9,151.6 L100.0,151.5 L101.2,151.3 L102.4,151.2 L103.6,151.0 L104.8,150.9 L105.9,150.7 L107.1,150.6 L108.3,150.4 L109.5,150.2 L110.6,150.1 L111.8,149.9 L113.0,149.8 L114.2,149.6 L115.4,149.5 L116.5,149.4 L117.7,149.3 L118.9,149.1 L120.1,149.1 L121.2,149.0 L122.4,148.9 L123.6,148.9 L124.8,148.8 L125.9,148.8 L127.1,148.8 L128.3,148.8 L129.5,148.9 L130.7,148.9 L131.8,149.0 L133.0,149.0 L134.2,149.1 L135.4,149.2 L136.5,149.3 L137.7,149.4 L138.9,149.5 L140.1,149.6 L141.3,149.8 L142.4,149.9 L143.6,150.0 L144.8,150.1 L146.0,150.3 L147.1,150.4 L148.3,150.5 L149.5,150.6 L150.7,150.7 L151.8,150.8 L153.0,150.9 L154.2,151.0 L155.4,151.1 L156.6,151.1 L157.7,151.2 L158.9,151.3 L160.1,151.3 L161.3,151.4 L162.4,151.4 L163.6,151.4 L164.8,151.4 L166.0,151.5 L167.2,151.5 L168.3,151.5 L169.5,151.5 L170.7,151.5 L171.9,151.5 L173.0,151.5 L174.2,151.5 L175.4,151.5 L176.6,151.5 L177.7,151.5 L178.9,151.5 L180.1,151.5 L181.3,151.5 L182.5,151.4 L183.6,151.4 L184.8,151.4 L186.0,151.4 L187.2,151.4 L188.3,151.4 L189.5,151.3 L190.7,151.3" fill="none" stroke="#3a5bbf" stroke-width="1.1" stroke-linejoin="round" />
<path d="M50.6,150.9 L50.6,154.4 L51.8,154.3 L53.0,154.2 L54.1,154.1 L55.3,154.1 L56.5,154.0 L57.7,153.9 L58.8,153.8 L60.0,153.7 L61.2,153.7 L62.4,153.6 L63.6,153.5 L64.7,153.4 L65.9,153.3 L67.1,153.3 L68.3,153.2 L69.4,153.1 L70.6,153.0 L71.8,152.9 L73.0,152.9 L74.1,152.8 L75.3,152.7 L76.5,152.7 L77.7,152.7 L78.9,152.6 L80.0,152.6 L81.2,152.5 L82.4,152.5 L83.6,152.4 L84.7,152.4 L85.9,152.3 L87.1,152.2 L88.3,152.1 L89.5,152.0 L90.6,151.9 L91.8,151.8 L93.0,151.7 L94.2,151.6 L95.3,151.4 L96.5,151.3 L97.7,151.1 L98.9,151.0 L100.0,150.8 L101.2,150.6 L102.4,150.4 L103.6,150.2 L104.8,150.0 L105.9,149.8 L107.1,149.6 L108.3,149.4 L109.5,149.2 L110.6,149.0 L111.8,148.8 L113.0,148.6 L114.2,148.4 L115.4,148.2 L116.5,148.0 L117.7,147.9 L118.9,147.8 L120.1,147.6 L121.2,147.5 L122.4,147.5 L123.6,147.4 L124.8,147.4 L125.9,147.3 L127.1,147.4 L128.3,147.4 L129.5,147.4 L130.7,147.5 L131.8,147.6 L133.0,147.7 L134.2,147.8 L135.4,147.9 L136.5,148.1 L137.7,148.2 L138.9,148.4 L140.1,148.5 L141.3,148.7 L142.4,148.9 L143.6,149.0 L144.8,149.2 L146.0,149.4 L147.1,149.6 L148.3,149.7 L149.5,149.9 L150.7,150.0 L151.8,150.1 L153.0,150.3 L154.2,150.4 L155.4,150.5 L156.6,150.6 L157.7,150.7 L158.9,150.8 L160.1,150.9 L161.3,150.9 L162.4,151.0 L163.6,151.0 L164.8,151.1 L166.0,151.1 L167.2,151.1 L168.3,151.2 L169.5,151.2 L170.7,151.2 L171.9,151.2 L173.0,151.2 L174.2,151.2 L175.4,151.2 L176.6,151.2 L177.7,151.2 L178.9,151.2 L180.1,151.2 L181.3,151.2 L182.5,151.1 L183.6,151.1 L184.8,151.1 L186.0,151.1 L187.2,151.1 L188.3,151.1 L189.5,151.0 L190.7,151.0" fill="none" stroke="#3a5bbf" stroke-width="1.1" stroke-linejoin="round" />
<path d="M50.6,150.9 L50.6,154.4 L51.8,154.3 L53.0,154.2 L54.1,154.1 L55.3,154.0 L56.5,153.9 L57.7,153.8 L58.8,153.7 L60.0,153.6 L61.2,153.5 L62.4,153.4 L63.6,153.3 L64.7,153.3 L65.9,153.2 L67.1,153.1 L68.3,153.0 L69.4,152.9 L70.6,152.8 L71.8,152.7 L73.0,152.6 L74.1,152.5 L75.3,152.4 L76.5,152.4 L77.7,152.4 L78.9,152.3 L80.0,152.3 L81.2,152.2 L82.4,152.1 L83.6,152.1 L84.7,152.0 L85.9,151.9 L87.1,151.8 L88.3,151.7 L89.5,151.6 L90.6,151.5 L91.8,151.3 L93.0,151.2 L94.2,151.0 L95.3,150.9 L96.5,150.7 L97.7,150.5 L98.9,150.3 L100.0,150.1 L101.2,149.9 L102.4,149.6 L103.6,149.4 L104.8,149.1 L105.9,148.9 L107.1,148.6 L108.3,148.4 L109.5,148.1 L110.6,147.9 L111.8,147.6 L113.0,147.4 L114.2,147.1 L115.4,146.9 L116.5,146.7 L117.7,146.5 L118.9,146.4 L120.1,146.2 L121.2,146.1 L122.4,146.0 L123.6,145.9 L124.8,145.9 L125.9,145.9 L127.1,145.9 L128.3,145.9 L129.5,146.0 L130.7,146.1 L131.8,146.2 L133.0,146.3 L134.2,146.5 L135.4,146.6 L136.5,146.8 L137.7,147.0 L138.9,147.2 L140.1,147.4 L141.3,147.6 L142.4,147.9 L143.6,148.1 L144.8,148.3 L146.0,148.5 L147.1,148.7 L148.3,148.9 L149.5,149.1 L150.7,149.3 L151.8,149.5 L153.0,149.7 L154.2,149.8 L155.4,150.0 L156.6,150.1 L157.7,150.2 L158.9,150.3 L160.1,150.4 L161.3,150.5 L162.4,150.6 L163.6,150.6 L164.8,150.7 L166.0,150.7 L167.2,150.8 L168.3,150.8 L169.5,150.8 L170.7,150.9 L171.9,150.9 L173.0,150.9 L174.2,150.9 L175.4,150.9 L176.6,150.9 L177.7,150.9 L178.9,150.9 L180.1,150.9 L181.3,150.9 L182.5,150.8 L183.6,150.8 L184.8,150.8 L186.0,150.8 L187.2,150.8 L188.3,150.8 L189.5,150.8 L190.7,150.7" fill="none" stroke="#3a5bbf" stroke-width="1.1" stroke-linejoin="round" />
<rect x="106.5" y="24.5" width="74.0" height="52.0" fill="#fff" stroke="#2a2a2a" stroke-width="1"/>
<text x="104" y="79.19999999999999" font-family="'Liberation Sans', sans-serif" font-size="7.3" text-anchor="end" font-weight="normal" font-style="normal" fill="#333" >0</text>
<text x="104" y="66.05" font-family="'Liberation Sans', sans-serif" font-size="7.3" text-anchor="end" font-weight="normal" font-style="normal" fill="#333" >2</text>
<text x="104" y="52.9" font-family="'Liberation Sans', sans-serif" font-size="7.3" text-anchor="end" font-weight="normal" font-style="normal" fill="#333" >4</text>
<text x="104" y="39.74999999999999" font-family="'Liberation Sans', sans-serif" font-size="7.3" text-anchor="end" font-weight="normal" font-style="normal" fill="#333" >6</text>
<text x="104" y="26.599999999999994" font-family="'Liberation Sans', sans-serif" font-size="7.3" text-anchor="end" font-weight="normal" font-style="normal" fill="#333" >8</text>
<text x="106.7" y="84" font-family="'Liberation Sans', sans-serif" font-size="7.3" text-anchor="middle" font-weight="normal" font-style="normal" fill="#333" >0</text>
<text x="133.42000000000002" y="84" font-family="'Liberation Sans', sans-serif" font-size="7.3" text-anchor="middle" font-weight="normal" font-style="normal" fill="#333" >20</text>
<text x="160.14000000000001" y="84" font-family="'Liberation Sans', sans-serif" font-size="7.3" text-anchor="middle" font-weight="normal" font-style="normal" fill="#333" >40</text>
<text x="142" y="90.8" font-family="'Liberation Sans', sans-serif" font-size="7.3" text-anchor="middle" font-weight="normal" font-style="normal" fill="#333" >[CT] (μM)</text>
<text x="0" y="0" font-family="'Liberation Sans', sans-serif" font-size="7.3" text-anchor="middle" font-weight="normal" font-style="normal" fill="#333" transform="translate(98.3,58.5) rotate(-90)"><tspan font-style="italic">I</tspan> (μA)</text>
<path d="M106.7,76.6 L173.5,35.5" fill="none" stroke="#333" stroke-width="0.7" stroke-linejoin="round" />
<circle cx="106.70" cy="76.60" r="1.3" fill="#111"/>
<circle cx="108.04" cy="75.78" r="1.3" fill="#111"/>
<circle cx="109.37" cy="74.96" r="1.3" fill="#111"/>
<circle cx="113.38" cy="72.49" r="1.3" fill="#111"/>
<circle cx="120.06" cy="68.38" r="1.3" fill="#111"/>
<circle cx="126.74" cy="64.27" r="1.3" fill="#111"/>
<circle cx="133.42" cy="60.16" r="1.3" fill="#111"/>
<circle cx="146.78" cy="51.94" r="1.3" fill="#111"/>
<circle cx="160.14" cy="43.72" r="1.3" fill="#111"/>
<circle cx="173.50" cy="35.51" r="1.3" fill="#111"/>
<path d="M106.7,76.3 L173.5,75.6" fill="none" stroke="#3a5bbf" stroke-width="0.8" stroke-linejoin="round" />
<circle cx="106.70" cy="76.27" r="1.1" fill="#3a5bbf"/>
<circle cx="108.04" cy="76.26" r="1.1" fill="#3a5bbf"/>
<circle cx="109.37" cy="76.24" r="1.1" fill="#3a5bbf"/>
<circle cx="113.38" cy="76.21" r="1.1" fill="#3a5bbf"/>
<circle cx="120.06" cy="76.14" r="1.1" fill="#3a5bbf"/>
<circle cx="126.74" cy="76.07" r="1.1" fill="#3a5bbf"/>
<circle cx="133.42" cy="76.01" r="1.1" fill="#3a5bbf"/>
<circle cx="146.78" cy="75.88" r="1.1" fill="#3a5bbf"/>
<circle cx="160.14" cy="75.75" r="1.1" fill="#3a5bbf"/>
<path d="M171.7,73.22749999999999 L175.3,73.22749999999999 L173.5,76.0275 Z" fill="#3a5bbf"/>
<rect x="235.5" y="22.5" width="161.0" height="129.0" fill="none" stroke="#7a7a7a" stroke-width="1"/>
<text x="233.5" y="9.3" font-family="'Liberation Serif', serif" font-size="12.4" text-anchor="start" font-weight="bold" font-style="normal" fill="#1a1a1a" textLength="64.5" lengthAdjust="spacingAndGlyphs">Caffeic Acid</text>
<rect x="233" y="11.2" width="67.4" height="1.3" fill="#222"/>
<text x="231.8" y="154.79999999999998" font-family="'Liberation Serif', serif" font-size="10.6" text-anchor="end" font-weight="normal" font-style="normal" fill="#2a2a2a" >0</text>
<line x1="233.0" y1="151.2" x2="235.5" y2="151.2" stroke="#7a7a7a" stroke-width="0.8"/>
<text x="231.8" y="122.63999999999999" font-family="'Liberation Serif', serif" font-size="10.6" text-anchor="end" font-weight="normal" font-style="normal" fill="#2a2a2a" >2</text>
<line x1="233.0" y1="119.03999999999999" x2="235.5" y2="119.03999999999999" stroke="#7a7a7a" stroke-width="0.8"/>
<text x="231.8" y="90.47999999999999" font-family="'Liberation Serif', serif" font-size="10.6" text-anchor="end" font-weight="normal" font-style="normal" fill="#2a2a2a" >4</text>
<line x1="233.0" y1="86.88" x2="235.5" y2="86.88" stroke="#7a7a7a" stroke-width="0.8"/>
<text x="231.8" y="58.32" font-family="'Liberation Serif', serif" font-size="10.6" text-anchor="end" font-weight="normal" font-style="normal" fill="#2a2a2a" >6</text>
<line x1="233.0" y1="54.72" x2="235.5" y2="54.72" stroke="#7a7a7a" stroke-width="0.8"/>
<text x="231.8" y="26.160000000000004" font-family="'Liberation Serif', serif" font-size="10.6" text-anchor="end" font-weight="normal" font-style="normal" fill="#2a2a2a" >8</text>
<line x1="233.0" y1="22.560000000000002" x2="235.5" y2="22.560000000000002" stroke="#7a7a7a" stroke-width="0.8"/>
<text x="258.5" y="164.4" font-family="'Liberation Serif', serif" font-size="10.4" text-anchor="middle" font-weight="normal" font-style="normal" fill="#2a2a2a" >0.0</text>
<line x1="258.5" y1="151.5" x2="258.5" y2="153.5" stroke="#7a7a7a" stroke-width="0.8"/>
<text x="304.4" y="164.4" font-family="'Liberation Serif', serif" font-size="10.4" text-anchor="middle" font-weight="normal" font-style="normal" fill="#2a2a2a" >0.2</text>
<line x1="304.4" y1="151.5" x2="304.4" y2="153.5" stroke="#7a7a7a" stroke-width="0.8"/>
<text x="350.3" y="164.4" font-family="'Liberation Serif', serif" font-size="10.4" text-anchor="middle" font-weight="normal" font-style="normal" fill="#2a2a2a" >0.4</text>
<line x1="350.3" y1="151.5" x2="350.3" y2="153.5" stroke="#7a7a7a" stroke-width="0.8"/>
<text x="396.2" y="164.4" font-family="'Liberation Serif', serif" font-size="10.4" text-anchor="middle" font-weight="normal" font-style="normal" fill="#2a2a2a" >0.6</text>
<line x1="396.2" y1="151.5" x2="396.2" y2="153.5" stroke="#7a7a7a" stroke-width="0.8"/>
<text x="315" y="174" font-family="'Liberation Serif', serif" font-size="10.5" text-anchor="middle" font-weight="normal" font-style="normal" fill="#333" ><tspan font-style="italic">E</tspan> (V)</text>
<text x="0" y="0" font-family="'Liberation Serif', serif" font-size="11.5" text-anchor="middle" font-weight="normal" font-style="normal" fill="#333" transform="translate(217.3,85) rotate(-90)"><tspan font-style="italic">I</tspan> ( μA)</text>
<path d="M235.6,132.0 L236.0,134.8 L236.4,136.7 L236.8,137.9 L237.3,138.7 L237.7,139.2 L238.1,139.6 L238.6,139.9 L239.0,140.1 L239.4,140.3 L239.9,140.4 L240.3,140.5 L240.7,140.7 L241.2,140.8 L241.6,140.8 L242.0,140.9 L242.5,141.0 L242.9,141.1 L243.3,141.2 L243.8,141.2 L244.2,141.3 L244.6,141.4 L245.1,141.4 L245.5,141.5 L245.9,141.5 L246.4,141.6 L246.8,141.6 L247.2,141.6 L247.7,141.7 L248.1,141.7 L248.5,141.7 L249.0,141.8 L249.4,141.8 L249.8,141.8 L250.3,141.8 L250.7,141.9 L251.1,141.9 L251.6,141.9 L252.0,141.9 L252.4,141.9 L252.9,141.9 L253.3,141.9 L253.7,141.9 L254.2,141.9 L254.6,141.9 L255.0,141.9 L255.5,141.9 L255.9,141.8 L256.3,141.8 L256.8,141.8 L257.2,141.8 L257.6,141.7 L258.1,141.7 L258.5,141.7 L258.9,141.6 L259.4,141.6 L259.8,141.5 L260.2,141.5 L260.7,141.4 L261.1,141.4 L261.5,141.3 L262.0,141.2 L262.4,141.2 L262.8,141.1 L263.3,141.0 L263.7,140.9 L264.1,140.8 L264.6,140.7 L265.0,140.6 L265.4,140.4 L265.9,140.3 L266.3,140.1 L266.7,140.0 L267.2,139.8 L267.6,139.5 L268.0,139.3 L268.5,139.0 L268.9,138.7 L269.3,138.4 L269.8,138.0 L270.2,137.6 L270.6,137.1 L271.1,136.5 L271.5,135.8 L271.9,135.1 L272.4,134.2 L272.8,133.2 L273.2,132.1 L273.7,130.8 L274.1,129.3 L274.5,127.7 L275.0,125.9 L275.4,123.8 L275.8,121.5 L276.3,119.0 L276.7,116.2 L277.1,113.1 L277.6,109.8 L278.0,106.2 L278.4,102.3 L278.9,98.1 L279.3,93.7 L279.7,89.1 L280.2,84.3 L280.6,79.3 L281.0,74.1 L281.4,68.9 L281.9,63.6 L282.3,58.4 L282.7,53.3 L283.2,48.4 L283.6,43.7 L284.0,39.4 L284.5,35.6 L284.9,32.3 L285.3,29.7 L285.8,27.7 L286.2,26.6 L286.6,26.3 L287.1,26.6 L287.5,27.3 L287.9,28.6 L288.4,30.3 L288.8,32.4 L289.2,35.0 L289.7,37.8 L290.1,41.0 L290.5,44.4 L291.0,48.0 L291.4,51.7 L291.8,55.7 L292.3,59.7 L292.7,63.7 L293.1,67.8 L293.6,71.9 L294.0,75.9 L294.4,79.9 L294.9,83.8 L295.3,87.6 L295.7,91.2 L296.2,94.8 L296.6,98.2 L297.0,101.5 L297.5,104.6 L297.9,107.6 L298.3,110.4 L298.8,113.0 L299.2,115.5 L299.6,117.8 L300.1,119.9 L300.5,121.9 L300.9,123.8 L301.4,125.5 L301.8,127.0 L302.2,128.5 L302.7,129.8 L303.1,131.0 L303.5,132.1 L304.0,133.1 L304.4,134.0" fill="none" stroke="#0a0a0a" stroke-width="1.0" stroke-linejoin="round" />
<path d="M235.6,132.3 L236.0,135.1 L236.4,137.0 L236.8,138.2 L237.3,139.0 L237.7,139.5 L238.1,139.9 L238.6,140.2 L239.0,140.4 L239.4,140.6 L239.9,140.7 L240.3,140.8 L240.7,141.0 L241.2,141.1 L241.6,141.2 L242.0,141.2 L242.5,141.3 L242.9,141.4 L243.3,141.5 L243.8,141.5 L244.2,141.6 L244.6,141.7 L245.1,141.7 L245.5,141.8 L245.9,141.8 L246.4,141.9 L246.8,141.9 L247.2,142.0 L247.7,142.0 L248.1,142.1 L248.5,142.1 L249.0,142.1 L249.4,142.2 L249.8,142.2 L250.3,142.2 L250.7,142.2 L251.1,142.2 L251.6,142.3 L252.0,142.3 L252.4,142.3 L252.9,142.3 L253.3,142.3 L253.7,142.3 L254.2,142.3 L254.6,142.3 L255.0,142.3 L255.5,142.3 L255.9,142.3 L256.3,142.3 L256.8,142.3 L257.2,142.2 L257.6,142.2 L258.1,142.2 L258.5,142.2 L258.9,142.2 L259.4,142.1 L259.8,142.1 L260.2,142.0 L260.7,142.0 L261.1,142.0 L261.5,141.9 L262.0,141.9 L262.4,141.8 L262.8,141.7 L263.3,141.7 L263.7,141.6 L264.1,141.5 L264.6,141.4 L265.0,141.3 L265.4,141.2 L265.9,141.1 L266.3,141.0 L266.7,140.9 L267.2,140.7 L267.6,140.5 L268.0,140.3 L268.5,140.1 L268.9,139.9 L269.3,139.6 L269.8,139.3 L270.2,139.0 L270.6,138.6 L271.1,138.1 L271.5,137.6 L271.9,137.0 L272.4,136.3 L272.8,135.5 L273.2,134.6 L273.7,133.6 L274.1,132.4 L274.5,131.1 L275.0,129.6 L275.4,128.0 L275.8,126.1 L276.3,124.1 L276.7,121.9 L277.1,119.4 L277.6,116.7 L278.0,113.9 L278.4,110.8 L278.9,107.4 L279.3,103.9 L279.7,100.2 L280.2,96.3 L280.6,92.3 L281.0,88.2 L281.4,84.0 L281.9,79.8 L282.3,75.7 L282.7,71.6 L283.2,67.6 L283.6,63.9 L284.0,60.5 L284.5,57.4 L284.9,54.8 L285.3,52.7 L285.8,51.1 L286.2,50.2 L286.6,50.0 L287.1,50.2 L287.5,50.8 L287.9,51.9 L288.4,53.2 L288.8,54.9 L289.2,56.9 L289.7,59.2 L290.1,61.8 L290.5,64.5 L291.0,67.4 L291.4,70.4 L291.8,73.5 L292.3,76.7 L292.7,80.0 L293.1,83.3 L293.6,86.5 L294.0,89.8 L294.4,92.9 L294.9,96.1 L295.3,99.1 L295.7,102.1 L296.2,104.9 L296.6,107.6 L297.0,110.3 L297.5,112.8 L297.9,115.1 L298.3,117.4 L298.8,119.5 L299.2,121.5 L299.6,123.3 L300.1,125.0 L300.5,126.6 L300.9,128.1 L301.4,129.5 L301.8,130.7 L302.2,131.9 L302.7,133.0 L303.1,133.9 L303.5,134.8 L304.0,135.6 L304.4,136.4" fill="none" stroke="#0a0a0a" stroke-width="1.0" stroke-linejoin="round" />
<path d="M235.6,132.6 L236.0,135.4 L236.4,137.3 L236.8,138.5 L237.3,139.3 L237.7,139.8 L238.1,140.2 L238.6,140.5 L239.0,140.7 L239.4,140.9 L239.9,141.0 L240.3,141.1 L240.7,141.3 L241.2,141.4 L241.6,141.4 L242.0,141.5 L242.5,141.6 L242.9,141.7 L243.3,141.8 L243.8,141.8 L244.2,141.9 L244.6,142.0 L245.1,142.0 L245.5,142.1 L245.9,142.1 L246.4,142.2 L246.8,142.2 L247.2,142.3 L247.7,142.3 L248.1,142.4 L248.5,142.4 L249.0,142.5 L249.4,142.5 L249.8,142.5 L250.3,142.5 L250.7,142.6 L251.1,142.6 L251.6,142.6 L252.0,142.6 L252.4,142.7 L252.9,142.7 L253.3,142.7 L253.7,142.7 L254.2,142.7 L254.6,142.7 L255.0,142.7 L255.5,142.7 L255.9,142.7 L256.3,142.7 L256.8,142.7 L257.2,142.7 L257.6,142.7 L258.1,142.7 L258.5,142.7 L258.9,142.6 L259.4,142.6 L259.8,142.6 L260.2,142.6 L260.7,142.5 L261.1,142.5 L261.5,142.5 L262.0,142.4 L262.4,142.4 L262.8,142.4 L263.3,142.3 L263.7,142.3 L264.1,142.2 L264.6,142.1 L265.0,142.1 L265.4,142.0 L265.9,141.9 L266.3,141.8 L266.7,141.7 L267.2,141.6 L267.6,141.5 L268.0,141.3 L268.5,141.2 L268.9,141.0 L269.3,140.8 L269.8,140.5 L270.2,140.3 L270.6,139.9 L271.1,139.6 L271.5,139.2 L271.9,138.7 L272.4,138.2 L272.8,137.6 L273.2,136.9 L273.7,136.1 L274.1,135.2 L274.5,134.2 L275.0,133.1 L275.4,131.8 L275.8,130.4 L276.3,128.8 L276.7,127.1 L277.1,125.2 L277.6,123.2 L278.0,120.9 L278.4,118.5 L278.9,116.0 L279.3,113.3 L279.7,110.4 L280.2,107.4 L280.6,104.3 L281.0,101.2 L281.4,97.9 L281.9,94.7 L282.3,91.5 L282.7,88.4 L283.2,85.3 L283.6,82.5 L284.0,79.8 L284.5,77.5 L284.9,75.4 L285.3,73.8 L285.8,72.6 L286.2,71.9 L286.6,71.7 L287.1,71.9 L287.5,72.4 L287.9,73.2 L288.4,74.3 L288.8,75.6 L289.2,77.1 L289.7,78.9 L290.1,80.9 L290.5,83.0 L291.0,85.2 L291.4,87.5 L291.8,90.0 L292.3,92.4 L292.7,94.9 L293.1,97.5 L293.6,100.0 L294.0,102.5 L294.4,104.9 L294.9,107.4 L295.3,109.7 L295.7,112.0 L296.2,114.2 L296.6,116.3 L297.0,118.3 L297.5,120.2 L297.9,122.1 L298.3,123.8 L298.8,125.4 L299.2,127.0 L299.6,128.4 L300.1,129.7 L300.5,131.0 L300.9,132.1 L301.4,133.2 L301.8,134.2 L302.2,135.1 L302.7,135.9 L303.1,136.6 L303.5,137.3 L304.0,137.9 L304.4,138.5" fill="none" stroke="#0a0a0a" stroke-width="1.0" stroke-linejoin="round" />
<path d="M235.6,132.9 L236.0,135.7 L236.4,137.6 L236.8,138.8 L237.3,139.6 L237.7,140.1 L238.1,140.5 L238.6,140.8 L239.0,141.0 L239.4,141.2 L239.9,141.3 L240.3,141.4 L240.7,141.6 L241.2,141.7 L241.6,141.8 L242.0,141.8 L242.5,141.9 L242.9,142.0 L243.3,142.1 L243.8,142.2 L244.2,142.2 L244.6,142.3 L245.1,142.4 L245.5,142.4 L245.9,142.5 L246.4,142.5 L246.8,142.6 L247.2,142.6 L247.7,142.7 L248.1,142.7 L248.5,142.8 L249.0,142.8 L249.4,142.8 L249.8,142.9 L250.3,142.9 L250.7,142.9 L251.1,143.0 L251.6,143.0 L252.0,143.0 L252.4,143.0 L252.9,143.1 L253.3,143.1 L253.7,143.1 L254.2,143.1 L254.6,143.1 L255.0,143.1 L255.5,143.1 L255.9,143.1 L256.3,143.2 L256.8,143.2 L257.2,143.2 L257.6,143.2 L258.1,143.2 L258.5,143.2 L258.9,143.2 L259.4,143.1 L259.8,143.1 L260.2,143.1 L260.7,143.1 L261.1,143.1 L261.5,143.1 L262.0,143.1 L262.4,143.0 L262.8,143.0 L263.3,143.0 L263.7,142.9 L264.1,142.9 L264.6,142.9 L265.0,142.8 L265.4,142.8 L265.9,142.7 L266.3,142.7 L266.7,142.6 L267.2,142.5 L267.6,142.4 L268.0,142.3 L268.5,142.2 L268.9,142.1 L269.3,142.0 L269.8,141.8 L270.2,141.6 L270.6,141.4 L271.1,141.2 L271.5,140.9 L271.9,140.6 L272.4,140.2 L272.8,139.8 L273.2,139.3 L273.7,138.8 L274.1,138.2 L274.5,137.5 L275.0,136.7 L275.4,135.9 L275.8,134.9 L276.3,133.8 L276.7,132.7 L277.1,131.4 L277.6,130.0 L278.0,128.5 L278.4,126.8 L278.9,125.1 L279.3,123.2 L279.7,121.3 L280.2,119.2 L280.6,117.1 L281.0,115.0 L281.4,112.8 L281.9,110.6 L282.3,108.4 L282.7,106.3 L283.2,104.2 L283.6,102.2 L284.0,100.4 L284.5,98.8 L284.9,97.5 L285.3,96.4 L285.8,95.6 L286.2,95.1 L286.6,95.0 L287.1,95.1 L287.5,95.4 L287.9,96.0 L288.4,96.7 L288.8,97.6 L289.2,98.7 L289.7,99.9 L290.1,101.2 L290.5,102.7 L291.0,104.2 L291.4,105.8 L291.8,107.5 L292.3,109.2 L292.7,110.9 L293.1,112.6 L293.6,114.3 L294.0,116.1 L294.4,117.7 L294.9,119.4 L295.3,121.0 L295.7,122.6 L296.2,124.1 L296.6,125.5 L297.0,126.9 L297.5,128.2 L297.9,129.5 L298.3,130.7 L298.8,131.8 L299.2,132.9 L299.6,133.8 L300.1,134.8 L300.5,135.6 L300.9,136.4 L301.4,137.1 L301.8,137.8 L302.2,138.4 L302.7,139.0 L303.1,139.5 L303.5,140.0 L304.0,140.4 L304.4,140.8" fill="none" stroke="#0a0a0a" stroke-width="1.0" stroke-linejoin="round" />
<path d="M235.6,133.1 L236.0,136.0 L236.4,137.8 L236.8,139.0 L237.3,139.8 L237.7,140.4 L238.1,140.8 L238.6,141.0 L239.0,141.2 L239.4,141.4 L239.9,141.6 L240.3,141.7 L240.7,141.8 L241.2,141.9 L241.6,142.0 L242.0,142.1 L242.5,142.2 L242.9,142.2 L243.3,142.3 L243.8,142.4 L244.2,142.5 L244.6,142.5 L245.1,142.6 L245.5,142.7 L245.9,142.7 L246.4,142.8 L246.8,142.8 L247.2,142.9 L247.7,142.9 L248.1,143.0 L248.5,143.0 L249.0,143.0 L249.4,143.1 L249.8,143.1 L250.3,143.2 L250.7,143.2 L251.1,143.2 L251.6,143.3 L252.0,143.3 L252.4,143.3 L252.9,143.3 L253.3,143.4 L253.7,143.4 L254.2,143.4 L254.6,143.4 L255.0,143.4 L255.5,143.4 L255.9,143.5 L256.3,143.5 L256.8,143.5 L257.2,143.5 L257.6,143.5 L258.1,143.5 L258.5,143.5 L258.9,143.5 L259.4,143.5 L259.8,143.5 L260.2,143.5 L260.7,143.5 L261.1,143.5 L261.5,143.5 L262.0,143.5 L262.4,143.5 L262.8,143.4 L263.3,143.4 L263.7,143.4 L264.1,143.4 L264.6,143.4 L265.0,143.3 L265.4,143.3 L265.9,143.3 L266.3,143.2 L266.7,143.2 L267.2,143.1 L267.6,143.1 L268.0,143.0 L268.5,142.9 L268.9,142.8 L269.3,142.7 L269.8,142.6 L270.2,142.5 L270.6,142.4 L271.1,142.2 L271.5,142.0 L271.9,141.8 L272.4,141.5 L272.8,141.2 L273.2,140.9 L273.7,140.5 L274.1,140.1 L274.5,139.6 L275.0,139.0 L275.4,138.4 L275.8,137.7 L276.3,137.0 L276.7,136.1 L277.1,135.2 L277.6,134.2 L278.0,133.1 L278.4,132.0 L278.9,130.7 L279.3,129.4 L279.7,128.0 L280.2,126.6 L280.6,125.1 L281.0,123.5 L281.4,122.0 L281.9,120.4 L282.3,118.9 L282.7,117.3 L283.2,115.9 L283.6,114.5 L284.0,113.2 L284.5,112.1 L284.9,111.1 L285.3,110.3 L285.8,109.8 L286.2,109.4 L286.6,109.3 L287.1,109.4 L287.5,109.7 L287.9,110.1 L288.4,110.6 L288.8,111.3 L289.2,112.0 L289.7,112.9 L290.1,113.9 L290.5,114.9 L291.0,116.0 L291.4,117.1 L291.8,118.3 L292.3,119.5 L292.7,120.8 L293.1,122.0 L293.6,123.2 L294.0,124.5 L294.4,125.7 L294.9,126.9 L295.3,128.0 L295.7,129.1 L296.2,130.2 L296.6,131.3 L297.0,132.3 L297.5,133.2 L297.9,134.1 L298.3,135.0 L298.8,135.8 L299.2,136.5 L299.6,137.2 L300.1,137.9 L300.5,138.5 L300.9,139.1 L301.4,139.6 L301.8,140.1 L302.2,140.5 L302.7,140.9 L303.1,141.3 L303.5,141.6 L304.0,142.0 L304.4,142.2" fill="none" stroke="#0a0a0a" stroke-width="1.0" stroke-linejoin="round" />
<path d="M235.6,133.4 L236.0,136.3 L236.4,138.1 L236.8,139.3 L237.3,140.1 L237.7,140.6 L238.1,141.0 L238.6,141.3 L239.0,141.5 L239.4,141.7 L239.9,141.8 L240.3,141.9 L240.7,142.0 L241.2,142.1 L241.6,142.2 L242.0,142.3 L242.5,142.4 L242.9,142.5 L243.3,142.6 L243.8,142.6 L244.2,142.7 L244.6,142.8 L245.1,142.8 L245.5,142.9 L245.9,142.9 L246.4,143.0 L246.8,143.1 L247.2,143.1 L247.7,143.2 L248.1,143.2 L248.5,143.2 L249.0,143.3 L249.4,143.3 L249.8,143.4 L250.3,143.4 L250.7,143.4 L251.1,143.5 L251.6,143.5 L252.0,143.5 L252.4,143.6 L252.9,143.6 L253.3,143.6 L253.7,143.6 L254.2,143.7 L254.6,143.7 L255.0,143.7 L255.5,143.7 L255.9,143.7 L256.3,143.8 L256.8,143.8 L257.2,143.8 L257.6,143.8 L258.1,143.8 L258.5,143.8 L258.9,143.8 L259.4,143.8 L259.8,143.8 L260.2,143.8 L260.7,143.8 L261.1,143.8 L261.5,143.8 L262.0,143.8 L262.4,143.8 L262.8,143.8 L263.3,143.8 L263.7,143.8 L264.1,143.8 L264.6,143.8 L265.0,143.8 L265.4,143.8 L265.9,143.8 L266.3,143.7 L266.7,143.7 L267.2,143.7 L267.6,143.6 L268.0,143.6 L268.5,143.6 L268.9,143.5 L269.3,143.4 L269.8,143.4 L270.2,143.3 L270.6,143.2 L271.1,143.1 L271.5,143.0 L271.9,142.8 L272.4,142.7 L272.8,142.5 L273.2,142.3 L273.7,142.0 L274.1,141.8 L274.5,141.5 L275.0,141.1 L275.4,140.7 L275.8,140.3 L276.3,139.8 L276.7,139.3 L277.1,138.7 L277.6,138.0 L278.0,137.4 L278.4,136.6 L278.9,135.8 L279.3,135.0 L279.7,134.1 L280.2,133.2 L280.6,132.2 L281.0,131.2 L281.4,130.2 L281.9,129.2 L282.3,128.3 L282.7,127.3 L283.2,126.4 L283.6,125.5 L284.0,124.7 L284.5,124.0 L284.9,123.4 L285.3,122.9 L285.8,122.5 L286.2,122.3 L286.6,122.3 L287.1,122.3 L287.5,122.5 L287.9,122.8 L288.4,123.1 L288.8,123.5 L289.2,124.0 L289.7,124.6 L290.1,125.2 L290.5,125.9 L291.0,126.6 L291.4,127.3 L291.8,128.1 L292.3,128.9 L292.7,129.7 L293.1,130.5 L293.6,131.3 L294.0,132.0 L294.4,132.8 L294.9,133.6 L295.3,134.3 L295.7,135.0 L296.2,135.7 L296.6,136.4 L297.0,137.1 L297.5,137.7 L297.9,138.2 L298.3,138.8 L298.8,139.3 L299.2,139.8 L299.6,140.3 L300.1,140.7 L300.5,141.1 L300.9,141.5 L301.4,141.8 L301.8,142.1 L302.2,142.4 L302.7,142.7 L303.1,142.9 L303.5,143.1 L304.0,143.4 L304.4,143.5" fill="none" stroke="#0a0a0a" stroke-width="1.0" stroke-linejoin="round" />
<path d="M235.6,133.6 L236.0,136.5 L236.4,138.3 L236.8,139.5 L237.3,140.3 L237.7,140.9 L238.1,141.2 L238.6,141.5 L239.0,141.7 L239.4,141.9 L239.9,142.0 L240.3,142.1 L240.7,142.3 L241.2,142.4 L241.6,142.4 L242.0,142.5 L242.5,142.6 L242.9,142.7 L243.3,142.8 L243.8,142.8 L244.2,142.9 L244.6,143.0 L245.1,143.0 L245.5,143.1 L245.9,143.2 L246.4,143.2 L246.8,143.3 L247.2,143.3 L247.7,143.4 L248.1,143.4 L248.5,143.5 L249.0,143.5 L249.4,143.6 L249.8,143.6 L250.3,143.6 L250.7,143.7 L251.1,143.7 L251.6,143.7 L252.0,143.8 L252.4,143.8 L252.9,143.8 L253.3,143.9 L253.7,143.9 L254.2,143.9 L254.6,143.9 L255.0,144.0 L255.5,144.0 L255.9,144.0 L256.3,144.0 L256.8,144.1 L257.2,144.1 L257.6,144.1 L258.1,144.1 L258.5,144.1 L258.9,144.1 L259.4,144.1 L259.8,144.2 L260.2,144.2 L260.7,144.2 L261.1,144.2 L261.5,144.2 L262.0,144.2 L262.4,144.2 L262.8,144.2 L263.3,144.2 L263.7,144.2 L264.1,144.2 L264.6,144.2 L265.0,144.2 L265.4,144.2 L265.9,144.2 L266.3,144.2 L266.7,144.2 L267.2,144.2 L267.6,144.2 L268.0,144.2 L268.5,144.2 L268.9,144.1 L269.3,144.1 L269.8,144.1 L270.2,144.0 L270.6,144.0 L271.1,144.0 L271.5,143.9 L271.9,143.8 L272.4,143.8 L272.8,143.7 L273.2,143.6 L273.7,143.5 L274.1,143.4 L274.5,143.2 L275.0,143.1 L275.4,142.9 L275.8,142.7 L276.3,142.5 L276.7,142.2 L277.1,141.9 L277.6,141.6 L278.0,141.3 L278.4,141.0 L278.9,140.6 L279.3,140.2 L279.7,139.8 L280.2,139.4 L280.6,138.9 L281.0,138.5 L281.4,138.0 L281.9,137.5 L282.3,137.1 L282.7,136.7 L283.2,136.2 L283.6,135.8 L284.0,135.5 L284.5,135.1 L284.9,134.9 L285.3,134.6 L285.8,134.5 L286.2,134.4 L286.6,134.4 L287.1,134.4 L287.5,134.5 L287.9,134.7 L288.4,134.8 L288.8,135.0 L289.2,135.3 L289.7,135.6 L290.1,135.9 L290.5,136.2 L291.0,136.5 L291.4,136.9 L291.8,137.2 L292.3,137.6 L292.7,138.0 L293.1,138.4 L293.6,138.8 L294.0,139.1 L294.4,139.5 L294.9,139.9 L295.3,140.2 L295.7,140.6 L296.2,140.9 L296.6,141.3 L297.0,141.6 L297.5,141.9 L297.9,142.1 L298.3,142.4 L298.8,142.7 L299.2,142.9 L299.6,143.1 L300.1,143.3 L300.5,143.5 L300.9,143.7 L301.4,143.9 L301.8,144.0 L302.2,144.2 L302.7,144.3 L303.1,144.4 L303.5,144.6 L304.0,144.7 L304.4,144.8" fill="none" stroke="#0a0a0a" stroke-width="1.0" stroke-linejoin="round" />
<path d="M235.6,133.8 L236.0,136.7 L236.4,138.5 L236.8,139.7 L237.3,140.5 L237.7,141.0 L238.1,141.4 L238.6,141.7 L239.0,141.9 L239.4,142.1 L239.9,142.2 L240.3,142.3 L240.7,142.4 L241.2,142.5 L241.6,142.6 L242.0,142.7 L242.5,142.8 L242.9,142.9 L243.3,142.9 L243.8,143.0 L244.2,143.1 L244.6,143.1 L245.1,143.2 L245.5,143.3 L245.9,143.3 L246.4,143.4 L246.8,143.4 L247.2,143.5 L247.7,143.5 L248.1,143.6 L248.5,143.6 L249.0,143.7 L249.4,143.7 L249.8,143.7 L250.3,143.8 L250.7,143.8 L251.1,143.9 L251.6,143.9 L252.0,143.9 L252.4,143.9 L252.9,144.0 L253.3,144.0 L253.7,144.0 L254.2,144.1 L254.6,144.1 L255.0,144.1 L255.5,144.1 L255.9,144.2 L256.3,144.2 L256.8,144.2 L257.2,144.2 L257.6,144.2 L258.1,144.2 L258.5,144.3 L258.9,144.3 L259.4,144.3 L259.8,144.3 L260.2,144.3 L260.7,144.3 L261.1,144.3 L261.5,144.3 L262.0,144.4 L262.4,144.4 L262.8,144.4 L263.3,144.4 L263.7,144.4 L264.1,144.4 L264.6,144.4 L265.0,144.4 L265.4,144.4 L265.9,144.4 L266.3,144.4 L266.7,144.4 L267.2,144.4 L267.6,144.4 L268.0,144.4 L268.5,144.4 L268.9,144.4 L269.3,144.3 L269.8,144.3 L270.2,144.3 L270.6,144.3 L271.1,144.2 L271.5,144.2 L271.9,144.2 L272.4,144.1 L272.8,144.1 L273.2,144.0 L273.7,143.9 L274.1,143.8 L274.5,143.7 L275.0,143.6 L275.4,143.5 L275.8,143.4 L276.3,143.2 L276.7,143.0 L277.1,142.9 L277.6,142.6 L278.0,142.4 L278.4,142.2 L278.9,141.9 L279.3,141.7 L279.7,141.4 L280.2,141.1 L280.6,140.8 L281.0,140.4 L281.4,140.1 L281.9,139.8 L282.3,139.5 L282.7,139.2 L283.2,138.9 L283.6,138.6 L284.0,138.4 L284.5,138.2 L284.9,138.0 L285.3,137.8 L285.8,137.7 L286.2,137.7 L286.6,137.7 L287.1,137.7 L287.5,137.8 L287.9,137.9 L288.4,138.0 L288.8,138.2 L289.2,138.3 L289.7,138.5 L290.1,138.7 L290.5,139.0 L291.0,139.2 L291.4,139.5 L291.8,139.7 L292.3,140.0 L292.7,140.3 L293.1,140.5 L293.6,140.8 L294.0,141.1 L294.4,141.4 L294.9,141.6 L295.3,141.9 L295.7,142.1 L296.2,142.4 L296.6,142.6 L297.0,142.8 L297.5,143.0 L297.9,143.2 L298.3,143.4 L298.8,143.6 L299.2,143.8 L299.6,143.9 L300.1,144.1 L300.5,144.2 L300.9,144.4 L301.4,144.5 L301.8,144.6 L302.2,144.7 L302.7,144.8 L303.1,144.9 L303.5,145.0 L304.0,145.1 L304.4,145.1" fill="none" stroke="#0a0a0a" stroke-width="1.0" stroke-linejoin="round" />
<path d="M235.6,134.0 L236.0,136.9 L236.4,138.7 L236.8,139.9 L237.3,140.7 L237.7,141.2 L238.1,141.6 L238.6,141.8 L239.0,142.1 L239.4,142.2 L239.9,142.4 L240.3,142.5 L240.7,142.6 L241.2,142.7 L241.6,142.8 L242.0,142.8 L242.5,142.9 L242.9,143.0 L243.3,143.1 L243.8,143.1 L244.2,143.2 L244.6,143.3 L245.1,143.3 L245.5,143.4 L245.9,143.5 L246.4,143.5 L246.8,143.6 L247.2,143.6 L247.7,143.7 L248.1,143.7 L248.5,143.7 L249.0,143.8 L249.4,143.8 L249.8,143.9 L250.3,143.9 L250.7,143.9 L251.1,144.0 L251.6,144.0 L252.0,144.0 L252.4,144.1 L252.9,144.1 L253.3,144.1 L253.7,144.2 L254.2,144.2 L254.6,144.2 L255.0,144.2 L255.5,144.3 L255.9,144.3 L256.3,144.3 L256.8,144.3 L257.2,144.3 L257.6,144.4 L258.1,144.4 L258.5,144.4 L258.9,144.4 L259.4,144.4 L259.8,144.4 L260.2,144.4 L260.7,144.5 L261.1,144.5 L261.5,144.5 L262.0,144.5 L262.4,144.5 L262.8,144.5 L263.3,144.5 L263.7,144.5 L264.1,144.5 L264.6,144.5 L265.0,144.5 L265.4,144.5 L265.9,144.6 L266.3,144.6 L266.7,144.6 L267.2,144.6 L267.6,144.6 L268.0,144.6 L268.5,144.5 L268.9,144.5 L269.3,144.5 L269.8,144.5 L270.2,144.5 L270.6,144.5 L271.1,144.5 L271.5,144.5 L271.9,144.4 L272.4,144.4 L272.8,144.4 L273.2,144.3 L273.7,144.3 L274.1,144.2 L274.5,144.1 L275.0,144.1 L275.4,144.0 L275.8,143.9 L276.3,143.8 L276.7,143.7 L277.1,143.6 L277.6,143.4 L278.0,143.3 L278.4,143.1 L278.9,142.9 L279.3,142.8 L279.7,142.6 L280.2,142.4 L280.6,142.2 L281.0,141.9 L281.4,141.7 L281.9,141.5 L282.3,141.3 L282.7,141.1 L283.2,140.9 L283.6,140.8 L284.0,140.6 L284.5,140.5 L284.9,140.3 L285.3,140.2 L285.8,140.2 L286.2,140.2 L286.6,140.2 L287.1,140.2 L287.5,140.2 L287.9,140.3 L288.4,140.4 L288.8,140.5 L289.2,140.6 L289.7,140.8 L290.1,140.9 L290.5,141.1 L291.0,141.3 L291.4,141.4 L291.8,141.6 L292.3,141.8 L292.7,142.0 L293.1,142.2 L293.6,142.4 L294.0,142.6 L294.4,142.7 L294.9,142.9 L295.3,143.1 L295.7,143.3 L296.2,143.4 L296.6,143.6 L297.0,143.8 L297.5,143.9 L297.9,144.1 L298.3,144.2 L298.8,144.3 L299.2,144.4 L299.6,144.6 L300.1,144.7 L300.5,144.8 L300.9,144.9 L301.4,145.0 L301.8,145.0 L302.2,145.1 L302.7,145.2 L303.1,145.3 L303.5,145.3 L304.0,145.4 L304.4,145.4" fill="none" stroke="#0a0a0a" stroke-width="1.0" stroke-linejoin="round" />
<path d="M235.6,134.2 L236.0,137.1 L236.4,138.9 L236.8,140.1 L237.3,140.9 L237.7,141.4 L238.1,141.7 L238.6,142.0 L239.0,142.2 L239.4,142.4 L239.9,142.5 L240.3,142.6 L240.7,142.7 L241.2,142.8 L241.6,142.9 L242.0,143.0 L242.5,143.1 L242.9,143.1 L243.3,143.2 L243.8,143.3 L244.2,143.4 L244.6,143.4 L245.1,143.5 L245.5,143.5 L245.9,143.6 L246.4,143.6 L246.8,143.7 L247.2,143.7 L247.7,143.8 L248.1,143.8 L248.5,143.9 L249.0,143.9 L249.4,144.0 L249.8,144.0 L250.3,144.0 L250.7,144.1 L251.1,144.1 L251.6,144.1 L252.0,144.2 L252.4,144.2 L252.9,144.2 L253.3,144.3 L253.7,144.3 L254.2,144.3 L254.6,144.3 L255.0,144.4 L255.5,144.4 L255.9,144.4 L256.3,144.4 L256.8,144.4 L257.2,144.5 L257.6,144.5 L258.1,144.5 L258.5,144.5 L258.9,144.5 L259.4,144.5 L259.8,144.6 L260.2,144.6 L260.7,144.6 L261.1,144.6 L261.5,144.6 L262.0,144.6 L262.4,144.6 L262.8,144.6 L263.3,144.7 L263.7,144.7 L264.1,144.7 L264.6,144.7 L265.0,144.7 L265.4,144.7 L265.9,144.7 L266.3,144.7 L266.7,144.7 L267.2,144.7 L267.6,144.7 L268.0,144.7 L268.5,144.7 L268.9,144.7 L269.3,144.7 L269.8,144.7 L270.2,144.7 L270.6,144.7 L271.1,144.7 L271.5,144.7 L271.9,144.7 L272.4,144.6 L272.8,144.6 L273.2,144.6 L273.7,144.6 L274.1,144.5 L274.5,144.5 L275.0,144.5 L275.4,144.4 L275.8,144.4 L276.3,144.3 L276.7,144.2 L277.1,144.2 L277.6,144.1 L278.0,144.0 L278.4,143.9 L278.9,143.8 L279.3,143.7 L279.7,143.6 L280.2,143.5 L280.6,143.4 L281.0,143.2 L281.4,143.1 L281.9,143.0 L282.3,142.9 L282.7,142.8 L283.2,142.7 L283.6,142.6 L284.0,142.5 L284.5,142.4 L284.9,142.4 L285.3,142.3 L285.8,142.3 L286.2,142.3 L286.6,142.3 L287.1,142.3 L287.5,142.4 L287.9,142.4 L288.4,142.5 L288.8,142.6 L289.2,142.6 L289.7,142.7 L290.1,142.8 L290.5,142.9 L291.0,143.0 L291.4,143.1 L291.8,143.3 L292.3,143.4 L292.7,143.5 L293.1,143.6 L293.6,143.7 L294.0,143.8 L294.4,144.0 L294.9,144.1 L295.3,144.2 L295.7,144.3 L296.2,144.4 L296.6,144.5 L297.0,144.6 L297.5,144.7 L297.9,144.8 L298.3,144.9 L298.8,145.0 L299.2,145.0 L299.6,145.1 L300.1,145.2 L300.5,145.2 L300.9,145.3 L301.4,145.4 L301.8,145.4 L302.2,145.5 L302.7,145.5 L303.1,145.6 L303.5,145.6 L304.0,145.7 L304.4,145.7" fill="none" stroke="#0a0a0a" stroke-width="1.0" stroke-linejoin="round" />
<path d="M235.6,134.4 L236.0,137.2 L236.4,139.1 L236.8,140.2 L237.3,141.0 L237.7,141.5 L238.1,141.9 L238.6,142.2 L239.0,142.4 L239.4,142.5 L239.9,142.7 L240.3,142.8 L240.7,142.9 L241.2,143.0 L241.6,143.1 L242.0,143.1 L242.5,143.2 L242.9,143.3 L243.3,143.4 L243.8,143.4 L244.2,143.5 L244.6,143.5 L245.1,143.6 L245.5,143.7 L245.9,143.7 L246.4,143.8 L246.8,143.8 L247.2,143.9 L247.7,143.9 L248.1,144.0 L248.5,144.0 L249.0,144.0 L249.4,144.1 L249.8,144.1 L250.3,144.2 L250.7,144.2 L251.1,144.2 L251.6,144.3 L252.0,144.3 L252.4,144.3 L252.9,144.3 L253.3,144.4 L253.7,144.4 L254.2,144.4 L254.6,144.4 L255.0,144.5 L255.5,144.5 L255.9,144.5 L256.3,144.5 L256.8,144.6 L257.2,144.6 L257.6,144.6 L258.1,144.6 L258.5,144.6 L258.9,144.6 L259.4,144.7 L259.8,144.7 L260.2,144.7 L260.7,144.7 L261.1,144.7 L261.5,144.7 L262.0,144.7 L262.4,144.8 L262.8,144.8 L263.3,144.8 L263.7,144.8 L264.1,144.8 L264.6,144.8 L265.0,144.8 L265.4,144.8 L265.9,144.8 L266.3,144.8 L266.7,144.8 L267.2,144.8 L267.6,144.8 L268.0,144.9 L268.5,144.9 L268.9,144.9 L269.3,144.9 L269.8,144.9 L270.2,144.9 L270.6,144.9 L271.1,144.9 L271.5,144.9 L271.9,144.9 L272.4,144.9 L272.8,144.9 L273.2,144.8 L273.7,144.8 L274.1,144.8 L274.5,144.8 L275.0,144.8 L275.4,144.8 L275.8,144.8 L276.3,144.7 L276.7,144.7 L277.1,144.7 L277.6,144.6 L278.0,144.6 L278.4,144.6 L278.9,144.5 L279.3,144.5 L279.7,144.4 L280.2,144.4 L280.6,144.3 L281.0,144.3 L281.4,144.2 L281.9,144.2 L282.3,144.1 L282.7,144.1 L283.2,144.1 L283.6,144.0 L284.0,144.0 L284.5,144.0 L284.9,144.0 L285.3,144.0 L285.8,144.0 L286.2,144.0 L286.6,144.0 L287.1,144.0 L287.5,144.0 L287.9,144.1 L288.4,144.1 L288.8,144.2 L289.2,144.2 L289.7,144.2 L290.1,144.3 L290.5,144.4 L291.0,144.4 L291.4,144.5 L291.8,144.5 L292.3,144.6 L292.7,144.7 L293.1,144.7 L293.6,144.8 L294.0,144.9 L294.4,144.9 L294.9,145.0 L295.3,145.0 L295.7,145.1 L296.2,145.1 L296.6,145.2 L297.0,145.3 L297.5,145.3 L297.9,145.4 L298.3,145.4 L298.8,145.5 L299.2,145.5 L299.6,145.5 L300.1,145.6 L300.5,145.6 L300.9,145.7 L301.4,145.7 L301.8,145.7 L302.2,145.8 L302.7,145.8 L303.1,145.8 L303.5,145.9 L304.0,145.9 L304.4,145.9" fill="none" stroke="#0a0a0a" stroke-width="1.0" stroke-linejoin="round" />
<path d="M258.5,150.7 L259.7,150.7 L260.8,150.7 L262.0,150.7 L263.1,150.7 L264.3,150.7 L265.4,150.7 L266.6,150.7 L267.8,150.7 L268.9,150.7 L270.1,150.7 L271.2,150.7 L272.4,150.7 L273.5,150.7 L274.7,150.7 L275.9,150.7 L277.0,150.7 L278.2,150.7 L279.3,150.7 L280.5,150.7 L281.6,150.7 L282.8,150.6 L284.0,150.6 L285.1,150.6 L286.3,150.6 L287.4,150.6 L288.6,150.6 L289.7,150.5 L290.9,150.5 L292.1,150.5 L293.2,150.5 L294.4,150.5 L295.5,150.5 L296.7,150.4 L297.8,150.4 L299.0,150.4 L300.2,150.4 L301.3,150.4 L302.5,150.4 L303.6,150.3 L304.8,150.3 L305.9,150.3 L307.1,150.3 L308.3,150.3 L309.4,150.3 L310.6,150.2 L311.7,150.2 L312.9,150.2 L314.0,150.2 L315.2,150.2 L316.4,150.2 L317.5,150.1 L318.7,150.1 L319.8,150.1 L321.0,150.1 L322.1,150.1 L323.3,150.1 L324.5,150.1 L325.6,150.0 L326.8,150.0 L327.9,150.0 L329.1,150.0 L330.2,150.0 L331.4,150.0 L332.6,149.9 L333.7,149.9 L334.9,149.9 L336.0,149.9 L337.2,149.9 L338.3,149.9 L339.5,149.8 L340.7,149.8 L341.8,149.8 L343.0,149.8 L344.1,149.8 L345.3,149.8 L346.4,149.7 L347.6,149.7 L348.8,149.7 L349.9,149.7 L351.1,149.7 L352.2,149.7 L353.4,149.6 L354.5,149.6 L355.7,149.6 L356.9,149.6 L358.0,149.6 L359.2,149.6 L360.3,149.5 L361.5,149.5 L362.6,149.5 L363.8,149.5 L365.0,149.5 L366.1,149.5 L367.3,149.5 L368.4,149.4 L369.6,149.4 L370.7,149.4 L371.9,149.4 L373.1,149.4 L374.2,149.4 L375.4,149.3 L376.5,149.3 L377.7,149.3 L378.8,149.3 L380.0,149.3 L381.2,149.3 L382.3,149.2 L383.5,149.2 L384.6,149.2 L385.8,149.2 L386.9,149.2 L388.1,149.2 L389.3,149.1 L390.4,149.1 L391.6,149.1 L392.7,149.1 L393.9,149.1 L395.0,149.1 L396.2,149.0" fill="none" stroke="#3a5bbf" stroke-width="1.1" stroke-linejoin="round" />
<path d="M258.5,150.7 L259.7,150.7 L260.8,150.7 L262.0,150.7 L263.1,150.7 L264.3,150.6 L265.4,150.6 L266.6,150.6 L267.8,150.6 L268.9,150.6 L270.1,150.6 L271.2,150.6 L272.4,150.5 L273.5,150.5 L274.7,150.5 L275.9,150.5 L277.0,150.5 L278.2,150.5 L279.3,150.4 L280.5,150.4 L281.6,150.4 L282.8,150.4 L284.0,150.3 L285.1,150.3 L286.3,150.3 L287.4,150.3 L288.6,150.3 L289.7,150.2 L290.9,150.2 L292.1,150.2 L293.2,150.2 L294.4,150.1 L295.5,150.1 L296.7,150.1 L297.8,150.0 L299.0,150.0 L300.2,150.0 L301.3,149.9 L302.5,149.9 L303.6,149.8 L304.8,149.8 L305.9,149.7 L307.1,149.7 L308.3,149.6 L309.4,149.6 L310.6,149.5 L311.7,149.5 L312.9,149.4 L314.0,149.4 L315.2,149.3 L316.4,149.3 L317.5,149.2 L318.7,149.2 L319.8,149.1 L321.0,149.1 L322.1,149.0 L323.3,149.0 L324.5,149.0 L325.6,149.0 L326.8,149.0 L327.9,149.0 L329.1,148.9 L330.2,148.9 L331.4,148.9 L332.6,149.0 L333.7,149.0 L334.9,149.0 L336.0,149.0 L337.2,149.0 L338.3,149.0 L339.5,149.0 L340.7,149.0 L341.8,149.0 L343.0,149.1 L344.1,149.1 L345.3,149.1 L346.4,149.1 L347.6,149.1 L348.8,149.1 L349.9,149.1 L351.1,149.1 L352.2,149.2 L353.4,149.2 L354.5,149.2 L355.7,149.2 L356.9,149.2 L358.0,149.2 L359.2,149.2 L360.3,149.2 L361.5,149.2 L362.6,149.2 L363.8,149.2 L365.0,149.1 L366.1,149.1 L367.3,149.1 L368.4,149.1 L369.6,149.1 L370.7,149.1 L371.9,149.1 L373.1,149.1 L374.2,149.1 L375.4,149.0 L376.5,149.0 L377.7,149.0 L378.8,149.0 L380.0,149.0 L381.2,149.0 L382.3,149.0 L383.5,148.9 L384.6,148.9 L385.8,148.9 L386.9,148.9 L388.1,148.9 L389.3,148.9 L390.4,148.9 L391.6,148.8 L392.7,148.8 L393.9,148.8 L395.0,148.8 L396.2,148.8" fill="none" stroke="#3a5bbf" stroke-width="1.1" stroke-linejoin="round" />
<path d="M258.5,150.7 L259.7,150.7 L260.8,150.6 L262.0,150.6 L263.1,150.6 L264.3,150.6 L265.4,150.5 L266.6,150.5 L267.8,150.5 L268.9,150.5 L270.1,150.4 L271.2,150.4 L272.4,150.4 L273.5,150.4 L274.7,150.3 L275.9,150.3 L277.0,150.3 L278.2,150.2 L279.3,150.2 L280.5,150.1 L281.6,150.1 L282.8,150.1 L284.0,150.0 L285.1,150.0 L286.3,150.0 L287.4,150.0 L288.6,150.0 L289.7,149.9 L290.9,149.9 L292.1,149.9 L293.2,149.8 L294.4,149.8 L295.5,149.7 L296.7,149.7 L297.8,149.6 L299.0,149.6 L300.2,149.5 L301.3,149.5 L302.5,149.4 L303.6,149.3 L304.8,149.3 L305.9,149.2 L307.1,149.1 L308.3,149.0 L309.4,148.9 L310.6,148.8 L311.7,148.7 L312.9,148.6 L314.0,148.5 L315.2,148.4 L316.4,148.4 L317.5,148.3 L318.7,148.2 L319.8,148.1 L321.0,148.1 L322.1,148.0 L323.3,148.0 L324.5,147.9 L325.6,147.9 L326.8,147.9 L327.9,147.9 L329.1,147.9 L330.2,147.9 L331.4,147.9 L332.6,148.0 L333.7,148.0 L334.9,148.0 L336.0,148.1 L337.2,148.1 L338.3,148.1 L339.5,148.2 L340.7,148.2 L341.8,148.3 L343.0,148.3 L344.1,148.4 L345.3,148.4 L346.4,148.5 L347.6,148.5 L348.8,148.5 L349.9,148.6 L351.1,148.6 L352.2,148.6 L353.4,148.7 L354.5,148.7 L355.7,148.7 L356.9,148.7 L358.0,148.8 L359.2,148.8 L360.3,148.8 L361.5,148.8 L362.6,148.8 L363.8,148.8 L365.0,148.8 L366.1,148.8 L367.3,148.8 L368.4,148.8 L369.6,148.8 L370.7,148.8 L371.9,148.8 L373.1,148.8 L374.2,148.8 L375.4,148.8 L376.5,148.7 L377.7,148.7 L378.8,148.7 L380.0,148.7 L381.2,148.7 L382.3,148.7 L383.5,148.7 L384.6,148.7 L385.8,148.6 L386.9,148.6 L388.1,148.6 L389.3,148.6 L390.4,148.6 L391.6,148.6 L392.7,148.6 L393.9,148.5 L395.0,148.5 L396.2,148.5" fill="none" stroke="#3a5bbf" stroke-width="1.1" stroke-linejoin="round" />
<path d="M258.5,150.7 L259.7,150.7 L260.8,150.6 L262.0,150.6 L263.1,150.5 L264.3,150.5 L265.4,150.5 L266.6,150.4 L267.8,150.4 L268.9,150.3 L270.1,150.3 L271.2,150.2 L272.4,150.2 L273.5,150.2 L274.7,150.1 L275.9,150.1 L277.0,150.0 L278.2,150.0 L279.3,149.9 L280.5,149.9 L281.6,149.8 L282.8,149.8 L284.0,149.8 L285.1,149.7 L286.3,149.7 L287.4,149.7 L288.6,149.6 L289.7,149.6 L290.9,149.6 L292.1,149.5 L293.2,149.5 L294.4,149.4 L295.5,149.4 L296.7,149.3 L297.8,149.3 L299.0,149.2 L300.2,149.1 L301.3,149.0 L302.5,148.9 L303.6,148.8 L304.8,148.7 L305.9,148.6 L307.1,148.5 L308.3,148.4 L309.4,148.2 L310.6,148.1 L311.7,148.0 L312.9,147.8 L314.0,147.7 L315.2,147.6 L316.4,147.4 L317.5,147.3 L318.7,147.2 L319.8,147.1 L321.0,147.0 L322.1,147.0 L323.3,146.9 L324.5,146.9 L325.6,146.9 L326.8,146.8 L327.9,146.9 L329.1,146.9 L330.2,146.9 L331.4,146.9 L332.6,147.0 L333.7,147.0 L334.9,147.1 L336.0,147.2 L337.2,147.2 L338.3,147.3 L339.5,147.4 L340.7,147.4 L341.8,147.5 L343.0,147.6 L344.1,147.7 L345.3,147.7 L346.4,147.8 L347.6,147.9 L348.8,148.0 L349.9,148.0 L351.1,148.1 L352.2,148.1 L353.4,148.2 L354.5,148.2 L355.7,148.3 L356.9,148.3 L358.0,148.3 L359.2,148.4 L360.3,148.4 L361.5,148.4 L362.6,148.4 L363.8,148.5 L365.0,148.5 L366.1,148.5 L367.3,148.5 L368.4,148.5 L369.6,148.5 L370.7,148.5 L371.9,148.5 L373.1,148.5 L374.2,148.5 L375.4,148.5 L376.5,148.5 L377.7,148.4 L378.8,148.4 L380.0,148.4 L381.2,148.4 L382.3,148.4 L383.5,148.4 L384.6,148.4 L385.8,148.4 L386.9,148.4 L388.1,148.3 L389.3,148.3 L390.4,148.3 L391.6,148.3 L392.7,148.3 L393.9,148.3 L395.0,148.3 L396.2,148.2" fill="none" stroke="#3a5bbf" stroke-width="1.1" stroke-linejoin="round" />
<path d="M258.5,150.7 L259.7,150.6 L260.8,150.6 L262.0,150.5 L263.1,150.5 L264.3,150.4 L265.4,150.4 L266.6,150.3 L267.8,150.3 L268.9,150.2 L270.1,150.1 L271.2,150.1 L272.4,150.0 L273.5,150.0 L274.7,149.9 L275.9,149.9 L277.0,149.8 L278.2,149.7 L279.3,149.7 L280.5,149.6 L281.6,149.5 L282.8,149.5 L284.0,149.5 L285.1,149.4 L286.3,149.4 L287.4,149.4 L288.6,149.3 L289.7,149.3 L290.9,149.3 L292.1,149.2 L293.2,149.2 L294.4,149.1 L295.5,149.0 L296.7,149.0 L297.8,148.9 L299.0,148.8 L300.2,148.7 L301.3,148.6 L302.5,148.5 L303.6,148.3 L304.8,148.2 L305.9,148.0 L307.1,147.9 L308.3,147.7 L309.4,147.6 L310.6,147.4 L311.7,147.2 L312.9,147.0 L314.0,146.9 L315.2,146.7 L316.4,146.5 L317.5,146.4 L318.7,146.2 L319.8,146.1 L321.0,146.0 L322.1,145.9 L323.3,145.9 L324.5,145.8 L325.6,145.8 L326.8,145.8 L327.9,145.8 L329.1,145.8 L330.2,145.9 L331.4,145.9 L332.6,146.0 L333.7,146.1 L334.9,146.2 L336.0,146.2 L337.2,146.3 L338.3,146.4 L339.5,146.5 L340.7,146.7 L341.8,146.8 L343.0,146.9 L344.1,147.0 L345.3,147.1 L346.4,147.2 L347.6,147.3 L348.8,147.4 L349.9,147.5 L351.1,147.5 L352.2,147.6 L353.4,147.7 L354.5,147.8 L355.7,147.8 L356.9,147.9 L358.0,147.9 L359.2,148.0 L360.3,148.0 L361.5,148.0 L362.6,148.1 L363.8,148.1 L365.0,148.1 L366.1,148.1 L367.3,148.2 L368.4,148.2 L369.6,148.2 L370.7,148.2 L371.9,148.2 L373.1,148.2 L374.2,148.2 L375.4,148.2 L376.5,148.2 L377.7,148.2 L378.8,148.2 L380.0,148.1 L381.2,148.1 L382.3,148.1 L383.5,148.1 L384.6,148.1 L385.8,148.1 L386.9,148.1 L388.1,148.1 L389.3,148.0 L390.4,148.0 L391.6,148.0 L392.7,148.0 L393.9,148.0 L395.0,148.0 L396.2,148.0" fill="none" stroke="#3a5bbf" stroke-width="1.1" stroke-linejoin="round" />
<path d="M258.5,150.7 L259.7,150.6 L260.8,150.5 L262.0,150.5 L263.1,150.4 L264.3,150.3 L265.4,150.3 L266.6,150.2 L267.8,150.1 L268.9,150.1 L270.1,150.0 L271.2,149.9 L272.4,149.9 L273.5,149.8 L274.7,149.7 L275.9,149.7 L277.0,149.6 L278.2,149.5 L279.3,149.4 L280.5,149.3 L281.6,149.2 L282.8,149.2 L284.0,149.2 L285.1,149.2 L286.3,149.1 L287.4,149.1 L288.6,149.0 L289.7,149.0 L290.9,148.9 L292.1,148.9 L293.2,148.8 L294.4,148.8 L295.5,148.7 L296.7,148.6 L297.8,148.5 L299.0,148.4 L300.2,148.3 L301.3,148.1 L302.5,148.0 L303.6,147.8 L304.8,147.7 L305.9,147.5 L307.1,147.3 L308.3,147.1 L309.4,146.9 L310.6,146.7 L311.7,146.5 L312.9,146.3 L314.0,146.0 L315.2,145.8 L316.4,145.6 L317.5,145.4 L318.7,145.3 L319.8,145.1 L321.0,145.0 L322.1,144.9 L323.3,144.8 L324.5,144.7 L325.6,144.7 L326.8,144.7 L327.9,144.8 L329.1,144.8 L330.2,144.8 L331.4,144.9 L332.6,145.0 L333.7,145.1 L334.9,145.2 L336.0,145.3 L337.2,145.5 L338.3,145.6 L339.5,145.7 L340.7,145.9 L341.8,146.0 L343.0,146.1 L344.1,146.3 L345.3,146.4 L346.4,146.5 L347.6,146.7 L348.8,146.8 L349.9,146.9 L351.1,147.0 L352.2,147.1 L353.4,147.2 L354.5,147.3 L355.7,147.4 L356.9,147.4 L358.0,147.5 L359.2,147.6 L360.3,147.6 L361.5,147.7 L362.6,147.7 L363.8,147.8 L365.0,147.8 L366.1,147.8 L367.3,147.8 L368.4,147.8 L369.6,147.9 L370.7,147.9 L371.9,147.9 L373.1,147.9 L374.2,147.9 L375.4,147.9 L376.5,147.9 L377.7,147.9 L378.8,147.9 L380.0,147.9 L381.2,147.9 L382.3,147.8 L383.5,147.8 L384.6,147.8 L385.8,147.8 L386.9,147.8 L388.1,147.8 L389.3,147.8 L390.4,147.8 L391.6,147.8 L392.7,147.7 L393.9,147.7 L395.0,147.7 L396.2,147.7" fill="none" stroke="#3a5bbf" stroke-width="1.1" stroke-linejoin="round" />
<rect x="315.5" y="25.5" width="76.0" height="61.0" fill="#fff" stroke="#2a2a2a" stroke-width="1"/>
<text x="313.5" y="89.19999999999999" font-family="'Liberation Sans', sans-serif" font-size="7.5" text-anchor="end" font-weight="normal" font-style="normal" fill="#333" >0</text>
<text x="313.5" y="64.19999999999999" font-family="'Liberation Sans', sans-serif" font-size="7.5" text-anchor="end" font-weight="normal" font-style="normal" fill="#333" >1</text>
<text x="313.5" y="39.199999999999996" font-family="'Liberation Sans', sans-serif" font-size="7.5" text-anchor="end" font-weight="normal" font-style="normal" fill="#333" >2</text>
<text x="316.2" y="94.5" font-family="'Liberation Sans', sans-serif" font-size="7.5" text-anchor="middle" font-weight="normal" font-style="normal" fill="#333" >0</text>
<text x="344.84" y="94.5" font-family="'Liberation Sans', sans-serif" font-size="7.5" text-anchor="middle" font-weight="normal" font-style="normal" fill="#333" >40</text>
<text x="373.48" y="94.5" font-family="'Liberation Sans', sans-serif" font-size="7.5" text-anchor="middle" font-weight="normal" font-style="normal" fill="#333" >80</text>
<text x="355" y="103" font-family="'Liberation Sans', sans-serif" font-size="7" text-anchor="middle" font-weight="normal" font-style="normal" fill="#333" >[CA] (μM)</text>
<text x="0" y="0" font-family="'Liberation Sans', sans-serif" font-size="7" text-anchor="middle" font-weight="normal" font-style="normal" fill="#333" transform="translate(305.8,55) rotate(-90)"><tspan font-style="italic">I</tspan>(μA)</text>
<path d="M321.0,81.0 L387.5,34.0" fill="none" stroke="#333" stroke-width="0.7" stroke-linejoin="round" />
<line x1="322.7" y1="77.3" x2="322.7" y2="82.3" stroke="#333" stroke-width="0.6"/>
<circle cx="322.7" cy="79.8" r="1.5" fill="#111"/>
<line x1="329.7" y1="71.4" x2="329.7" y2="76.4" stroke="#333" stroke-width="0.6"/>
<circle cx="329.7" cy="73.9" r="1.5" fill="#111"/>
<line x1="337" y1="66.5" x2="337" y2="71.5" stroke="#333" stroke-width="0.6"/>
<circle cx="337" cy="69" r="1.5" fill="#111"/>
<line x1="343.7" y1="61.1" x2="343.7" y2="66.1" stroke="#333" stroke-width="0.6"/>
<circle cx="343.7" cy="63.6" r="1.5" fill="#111"/>
<line x1="350.8" y1="55.7" x2="350.8" y2="60.7" stroke="#333" stroke-width="0.6"/>
<circle cx="350.8" cy="58.2" r="1.5" fill="#111"/>
<line x1="357.5" y1="51.1" x2="357.5" y2="56.1" stroke="#333" stroke-width="0.6"/>
<circle cx="357.5" cy="53.6" r="1.5" fill="#111"/>
<line x1="364.8" y1="46.3" x2="364.8" y2="51.3" stroke="#333" stroke-width="0.6"/>
<circle cx="364.8" cy="48.8" r="1.5" fill="#111"/>
<line x1="372.1" y1="41.4" x2="372.1" y2="46.4" stroke="#333" stroke-width="0.6"/>
<circle cx="372.1" cy="43.9" r="1.5" fill="#111"/>
<line x1="386.4" y1="32.2" x2="386.4" y2="37.2" stroke="#333" stroke-width="0.6"/>
<circle cx="386.4" cy="34.7" r="1.5" fill="#111"/>
<path d="M322.7,86.3 L329.7,85.8 L337.0,85.3 L343.7,84.8 L350.8,84.4 L372.1,82.6 L386.4,80.8" fill="none" stroke="#3a5bbf" stroke-width="0.8" stroke-linejoin="round" />
<circle cx="322.7" cy="86.3" r="1.2" fill="#3a5bbf"/>
<circle cx="329.7" cy="85.8" r="1.2" fill="#3a5bbf"/>
<circle cx="337" cy="85.3" r="1.2" fill="#3a5bbf"/>
<circle cx="343.7" cy="84.8" r="1.2" fill="#3a5bbf"/>
<circle cx="350.8" cy="84.4" r="1.2" fill="#3a5bbf"/>
<circle cx="372.1" cy="82.6" r="1.2" fill="#3a5bbf"/>
<circle cx="386.4" cy="80.8" r="1.2" fill="#3a5bbf"/>
<rect x="29.5" y="209.5" width="160.0" height="128.0" fill="none" stroke="#7a7a7a" stroke-width="1"/>
<text x="29" y="199.9" font-family="'Liberation Serif', serif" font-size="12.4" text-anchor="start" font-weight="bold" font-style="normal" fill="#1a1a1a" textLength="53" lengthAdjust="spacingAndGlyphs">Gallic acid</text>
<rect x="29" y="201.3" width="55" height="1.2" fill="#222"/>
<text x="24.5" y="340.8" font-family="'Liberation Serif', serif" font-size="9" text-anchor="end" font-weight="normal" font-style="normal" fill="#333" textLength="11.5" lengthAdjust="spacingAndGlyphs">0,0</text>
<line x1="27.5" y1="337.6" x2="29.5" y2="337.6" stroke="#7a7a7a" stroke-width="0.8"/>
<text x="24.5" y="320.95" font-family="'Liberation Serif', serif" font-size="9" text-anchor="end" font-weight="normal" font-style="normal" fill="#333" textLength="11.5" lengthAdjust="spacingAndGlyphs">0,5</text>
<line x1="27.5" y1="317.75" x2="29.5" y2="317.75" stroke="#7a7a7a" stroke-width="0.8"/>
<text x="24.5" y="301.1" font-family="'Liberation Serif', serif" font-size="9" text-anchor="end" font-weight="normal" font-style="normal" fill="#333" textLength="11.5" lengthAdjust="spacingAndGlyphs">1,0</text>
<line x1="27.5" y1="297.90000000000003" x2="29.5" y2="297.90000000000003" stroke="#7a7a7a" stroke-width="0.8"/>
<text x="24.5" y="281.25" font-family="'Liberation Serif', serif" font-size="9" text-anchor="end" font-weight="normal" font-style="normal" fill="#333" textLength="11.5" lengthAdjust="spacingAndGlyphs">1,5</text>
<line x1="27.5" y1="278.05" x2="29.5" y2="278.05" stroke="#7a7a7a" stroke-width="0.8"/>
<text x="24.5" y="261.40000000000003" font-family="'Liberation Serif', serif" font-size="9" text-anchor="end" font-weight="normal" font-style="normal" fill="#333" textLength="11.5" lengthAdjust="spacingAndGlyphs">2,0</text>
<line x1="27.5" y1="258.20000000000005" x2="29.5" y2="258.20000000000005" stroke="#7a7a7a" stroke-width="0.8"/>
<text x="24.5" y="241.55" font-family="'Liberation Serif', serif" font-size="9" text-anchor="end" font-weight="normal" font-style="normal" fill="#333" textLength="11.5" lengthAdjust="spacingAndGlyphs">2,5</text>
<line x1="27.5" y1="238.35000000000002" x2="29.5" y2="238.35000000000002" stroke="#7a7a7a" stroke-width="0.8"/>
<text x="24.5" y="221.7" font-family="'Liberation Serif', serif" font-size="9" text-anchor="end" font-weight="normal" font-style="normal" fill="#333" textLength="11.5" lengthAdjust="spacingAndGlyphs">3,0</text>
<line x1="27.5" y1="218.5" x2="29.5" y2="218.5" stroke="#7a7a7a" stroke-width="0.8"/>
<text x="47.3" y="348.5" font-family="'Liberation Serif', serif" font-size="8" text-anchor="middle" font-weight="normal" font-style="normal" fill="#333" >0.0</text>
<text x="82.66" y="348.5" font-family="'Liberation Serif', serif" font-size="8" text-anchor="middle" font-weight="normal" font-style="normal" fill="#333" >0.2</text>
<text x="118.02000000000001" y="348.5" font-family="'Liberation Serif', serif" font-size="8" text-anchor="middle" font-weight="normal" font-style="normal" fill="#333" >0.4</text>
<text x="153.38" y="348.5" font-family="'Liberation Serif', serif" font-size="8" text-anchor="middle" font-weight="normal" font-style="normal" fill="#333" >0.6</text>
<text x="188.74" y="348.5" font-family="'Liberation Serif', serif" font-size="8" text-anchor="middle" font-weight="normal" font-style="normal" fill="#333" >0.8</text>
<text x="109" y="360" font-family="'Liberation Serif', serif" font-size="8.5" text-anchor="middle" font-weight="normal" font-style="normal" fill="#333" ><tspan font-style="italic">E</tspan> (V)</text>
<text x="0" y="0" font-family="'Liberation Serif', serif" font-size="9.5" text-anchor="middle" font-weight="normal" font-style="normal" fill="#333" transform="translate(7.6,273.5) rotate(-90)"><tspan font-style="italic">I</tspan> (μA)</text>
<path d="M29.6,280.4 L30.4,281.2 L31.1,281.9 L31.8,282.7 L32.6,283.5 L33.3,284.3 L34.1,285.1 L34.8,285.9 L35.6,286.8 L36.3,287.7 L37.0,288.8 L37.8,289.7 L38.5,290.5 L39.3,291.1 L40.0,291.5 L40.8,291.9 L41.5,292.2 L42.2,292.5 L43.0,292.7 L43.7,292.7 L44.5,292.3 L45.2,291.2 L46.0,289.6 L46.7,287.6 L47.4,285.6 L48.2,282.7 L48.9,279.0 L49.7,274.7 L50.4,269.9 L51.2,265.1 L51.9,260.3 L52.6,256.0 L53.4,251.6 L54.1,247.0 L54.9,242.3 L55.6,237.8 L56.4,233.6 L57.1,230.1 L57.8,227.4 L58.6,225.3 L59.3,223.2 L60.1,221.3 L60.8,219.5 L61.6,218.0 L62.3,216.8 L63.0,215.9 L63.8,215.4 L64.5,215.4 L65.3,215.8 L66.0,216.6 L66.8,217.8 L67.5,219.3 L68.2,221.0 L69.0,222.9 L69.7,224.9 L70.5,227.0 L71.2,229.9 L72.0,233.7 L72.7,238.1 L73.4,242.9 L74.2,247.8 L74.9,252.4 L75.7,256.7 L76.4,260.8 L77.2,265.1 L77.9,269.3 L78.6,273.4 L79.4,277.3 L80.1,280.8 L80.9,283.9 L81.6,286.7 L82.4,289.3 L83.1,291.7 L83.8,293.9 L84.6,296.0 L85.3,297.9 L86.1,299.6 L86.8,301.2 L87.6,302.8 L88.3,304.3 L89.0,305.7 L89.8,307.0 L90.5,308.0 L91.3,308.8 L92.0,309.4 L92.8,310.0 L93.5,310.5 L94.2,311.0 L95.0,311.4 L95.7,311.6 L96.5,311.8 L97.2,311.8 L98.0,311.7 L98.7,311.6 L99.4,311.4 L100.2,311.2 L100.9,311.0 L101.7,310.7 L102.4,310.4 L103.2,310.1 L103.9,309.8 L104.6,309.4 L105.4,309.0 L106.1,308.5 L106.9,307.9 L107.6,307.3 L108.4,306.7 L109.1,306.0 L109.8,305.3 L110.6,304.6 L111.3,303.9 L112.1,303.2 L112.8,302.4 L113.6,301.6 L114.3,300.8 L115.0,300.0 L115.8,299.1 L116.5,298.2 L117.3,297.3 L118.0,296.3" fill="none" stroke="#111" stroke-width="0.9" stroke-linejoin="round" />
<path d="M29.6,283.7 L30.4,284.5 L31.1,285.2 L31.8,286.0 L32.6,286.7 L33.3,287.5 L34.1,288.3 L34.8,289.1 L35.6,289.9 L36.3,290.9 L37.0,291.8 L37.8,292.7 L38.5,293.5 L39.3,294.1 L40.0,294.5 L40.8,294.9 L41.5,295.2 L42.2,295.5 L43.0,295.7 L43.7,295.8 L44.5,295.5 L45.2,294.5 L46.0,293.1 L46.7,291.5 L47.4,289.8 L48.2,287.4 L48.9,284.3 L49.7,280.6 L50.4,276.7 L51.2,272.7 L51.9,268.8 L52.6,265.2 L53.4,261.7 L54.1,257.9 L54.9,254.2 L55.6,250.6 L56.4,247.3 L57.1,244.6 L57.8,242.5 L58.6,241.0 L59.3,239.5 L60.1,238.1 L60.8,236.7 L61.6,235.6 L62.3,234.7 L63.0,234.0 L63.8,233.6 L64.5,233.6 L65.3,234.0 L66.0,234.6 L66.8,235.5 L67.5,236.6 L68.2,237.9 L69.0,239.3 L69.7,240.8 L70.5,242.3 L71.2,244.6 L72.0,247.5 L72.7,251.0 L73.4,254.8 L74.2,258.8 L74.9,262.6 L75.7,266.1 L76.4,269.5 L77.2,273.0 L77.9,276.6 L78.6,280.0 L79.4,283.3 L80.1,286.3 L80.9,289.0 L81.6,291.4 L82.4,293.6 L83.1,295.7 L83.8,297.7 L84.6,299.5 L85.3,301.2 L86.1,302.7 L86.8,304.1 L87.6,305.6 L88.3,306.9 L89.0,308.2 L89.8,309.3 L90.5,310.2 L91.3,311.0 L92.0,311.5 L92.8,312.0 L93.5,312.5 L94.2,312.9 L95.0,313.3 L95.7,313.5 L96.5,313.6 L97.2,313.6 L98.0,313.5 L98.7,313.4 L99.4,313.2 L100.2,313.0 L100.9,312.8 L101.7,312.5 L102.4,312.2 L103.2,311.9 L103.9,311.6 L104.6,311.3 L105.4,310.8 L106.1,310.3 L106.9,309.8 L107.6,309.2 L108.4,308.5 L109.1,307.8 L109.8,307.1 L110.6,306.4 L111.3,305.7 L112.1,305.0 L112.8,304.2 L113.6,303.4 L114.3,302.6 L115.0,301.7 L115.8,300.8 L116.5,299.9 L117.3,298.9 L118.0,298.0" fill="none" stroke="#111" stroke-width="0.9" stroke-linejoin="round" />
<path d="M29.6,287.0 L30.4,287.7 L31.1,288.5 L31.8,289.2 L32.6,290.0 L33.3,290.7 L34.1,291.5 L34.8,292.3 L35.6,293.1 L36.3,293.9 L37.0,294.8 L37.8,295.6 L38.5,296.4 L39.3,296.9 L40.0,297.3 L40.8,297.7 L41.5,298.1 L42.2,298.4 L43.0,298.5 L43.7,298.6 L44.5,298.4 L45.2,297.5 L46.0,296.3 L46.7,294.9 L47.4,293.4 L48.2,291.3 L48.9,288.6 L49.7,285.5 L50.4,282.1 L51.2,278.6 L51.9,275.2 L52.6,272.1 L53.4,269.0 L54.1,265.6 L54.9,262.3 L55.6,259.1 L56.4,256.2 L57.1,253.8 L57.8,252.0 L58.6,250.6 L59.3,249.2 L60.1,247.9 L60.8,246.8 L61.6,245.7 L62.3,244.9 L63.0,244.3 L63.8,244.0 L64.5,243.9 L65.3,244.2 L66.0,244.8 L66.8,245.6 L67.5,246.7 L68.2,247.8 L69.0,249.1 L69.7,250.4 L70.5,251.9 L71.2,253.8 L72.0,256.5 L72.7,259.6 L73.4,263.0 L74.2,266.5 L74.9,269.9 L75.7,273.0 L76.4,276.0 L77.2,279.2 L77.9,282.3 L78.6,285.4 L79.4,288.3 L80.1,291.0 L80.9,293.4 L81.6,295.5 L82.4,297.5 L83.1,299.4 L83.8,301.1 L84.6,302.8 L85.3,304.3 L86.1,305.6 L86.8,306.9 L87.6,308.2 L88.3,309.4 L89.0,310.5 L89.8,311.5 L90.5,312.4 L91.3,313.1 L92.0,313.6 L92.8,314.1 L93.5,314.5 L94.2,314.9 L95.0,315.2 L95.7,315.4 L96.5,315.4 L97.2,315.4 L98.0,315.3 L98.7,315.2 L99.4,315.0 L100.2,314.8 L100.9,314.6 L101.7,314.3 L102.4,314.1 L103.2,313.8 L103.9,313.5 L104.6,313.1 L105.4,312.7 L106.1,312.2 L106.9,311.6 L107.6,311.0 L108.4,310.3 L109.1,309.7 L109.8,309.0 L110.6,308.3 L111.3,307.6 L112.1,306.8 L112.8,306.0 L113.6,305.2 L114.3,304.4 L115.0,303.5 L115.8,302.6 L116.5,301.6 L117.3,300.6 L118.0,299.6" fill="none" stroke="#111" stroke-width="0.9" stroke-linejoin="round" />
<path d="M29.6,290.3 L30.4,291.0 L31.1,291.8 L31.8,292.5 L32.6,293.2 L33.3,294.0 L34.1,294.7 L34.8,295.4 L35.6,296.2 L36.3,297.0 L37.0,297.8 L37.8,298.6 L38.5,299.3 L39.3,299.8 L40.0,300.2 L40.8,300.6 L41.5,300.9 L42.2,301.2 L43.0,301.4 L43.7,301.5 L44.5,301.2 L45.2,300.6 L46.0,299.5 L46.7,298.3 L47.4,297.1 L48.2,295.3 L48.9,293.1 L49.7,290.4 L50.4,287.5 L51.2,284.6 L51.9,281.7 L52.6,279.0 L53.4,276.3 L54.1,273.5 L54.9,270.6 L55.6,267.9 L56.4,265.4 L57.1,263.3 L57.8,261.7 L58.6,260.5 L59.3,259.3 L60.1,258.2 L60.8,257.1 L61.6,256.2 L62.3,255.5 L63.0,255.0 L63.8,254.7 L64.5,254.7 L65.3,254.9 L66.0,255.4 L66.8,256.2 L67.5,257.1 L68.2,258.1 L69.0,259.2 L69.7,260.4 L70.5,261.7 L71.2,263.4 L72.0,265.7 L72.7,268.4 L73.4,271.3 L74.2,274.4 L74.9,277.3 L75.7,280.0 L76.4,282.7 L77.2,285.4 L77.9,288.2 L78.6,290.8 L79.4,293.3 L80.1,295.7 L80.9,297.7 L81.6,299.6 L82.4,301.4 L83.1,303.0 L83.8,304.6 L84.6,306.0 L85.3,307.4 L86.1,308.6 L86.8,309.7 L87.6,310.8 L88.3,311.9 L89.0,312.9 L89.8,313.8 L90.5,314.5 L91.3,315.2 L92.0,315.6 L92.8,316.1 L93.5,316.5 L94.2,316.8 L95.0,317.0 L95.7,317.2 L96.5,317.3 L97.2,317.2 L98.0,317.2 L98.7,317.0 L99.4,316.8 L100.2,316.6 L100.9,316.4 L101.7,316.2 L102.4,315.9 L103.2,315.6 L103.9,315.3 L104.6,315.0 L105.4,314.5 L106.1,314.0 L106.9,313.5 L107.6,312.9 L108.4,312.2 L109.1,311.5 L109.8,310.8 L110.6,310.1 L111.3,309.4 L112.1,308.6 L112.8,307.8 L113.6,307.0 L114.3,306.1 L115.0,305.2 L115.8,304.3 L116.5,303.3 L117.3,302.3 L118.0,301.3" fill="none" stroke="#111" stroke-width="0.9" stroke-linejoin="round" />
<path d="M29.6,293.5 L30.4,294.3 L31.1,295.0 L31.8,295.8 L32.6,296.5 L33.3,297.2 L34.1,297.9 L34.8,298.6 L35.6,299.3 L36.3,300.1 L37.0,300.8 L37.8,301.5 L38.5,302.1 L39.3,302.7 L40.0,303.1 L40.8,303.5 L41.5,303.8 L42.2,304.1 L43.0,304.3 L43.7,304.3 L44.5,304.1 L45.2,303.6 L46.0,302.8 L46.7,301.8 L47.4,300.8 L48.2,299.4 L48.9,297.5 L49.7,295.4 L50.4,293.0 L51.2,290.7 L51.9,288.3 L52.6,286.1 L53.4,283.9 L54.1,281.5 L54.9,279.1 L55.6,276.9 L56.4,274.8 L57.1,273.0 L57.8,271.7 L58.6,270.7 L59.3,269.7 L60.1,268.7 L60.8,267.9 L61.6,267.1 L62.3,266.5 L63.0,266.0 L63.8,265.8 L64.5,265.8 L65.3,266.0 L66.0,266.4 L66.8,267.1 L67.5,267.8 L68.2,268.7 L69.0,269.7 L69.7,270.7 L70.5,271.8 L71.2,273.2 L72.0,275.2 L72.7,277.4 L73.4,279.9 L74.2,282.4 L74.9,284.9 L75.7,287.2 L76.4,289.4 L77.2,291.8 L77.9,294.1 L78.6,296.3 L79.4,298.4 L80.1,300.4 L80.9,302.2 L81.6,303.8 L82.4,305.3 L83.1,306.7 L83.8,308.1 L84.6,309.3 L85.3,310.5 L86.1,311.5 L86.8,312.5 L87.6,313.4 L88.3,314.4 L89.0,315.2 L89.8,316.0 L90.5,316.7 L91.3,317.3 L92.0,317.7 L92.8,318.1 L93.5,318.4 L94.2,318.7 L95.0,318.9 L95.7,319.1 L96.5,319.1 L97.2,319.1 L98.0,319.0 L98.7,318.8 L99.4,318.7 L100.2,318.5 L100.9,318.2 L101.7,318.0 L102.4,317.7 L103.2,317.4 L103.9,317.1 L104.6,316.8 L105.4,316.4 L106.1,315.9 L106.9,315.3 L107.6,314.7 L108.4,314.0 L109.1,313.4 L109.8,312.7 L110.6,311.9 L111.3,311.2 L112.1,310.5 L112.8,309.7 L113.6,308.8 L114.3,307.9 L115.0,307.0 L115.8,306.0 L116.5,305.0 L117.3,304.0 L118.0,303.0" fill="none" stroke="#111" stroke-width="0.9" stroke-linejoin="round" />
<path d="M29.6,296.8 L30.4,297.6 L31.1,298.3 L31.8,299.0 L32.6,299.8 L33.3,300.5 L34.1,301.1 L34.8,301.8 L35.6,302.5 L36.3,303.1 L37.0,303.8 L37.8,304.4 L38.5,305.0 L39.3,305.5 L40.0,306.0 L40.8,306.4 L41.5,306.7 L42.2,307.0 L43.0,307.1 L43.7,307.2 L44.5,307.1 L45.2,306.6 L46.0,306.0 L46.7,305.3 L47.4,304.5 L48.2,303.4 L48.9,302.0 L49.7,300.4 L50.4,298.6 L51.2,296.8 L51.9,295.0 L52.6,293.3 L53.4,291.6 L54.1,289.7 L54.9,287.8 L55.6,286.0 L56.4,284.4 L57.1,283.0 L57.8,282.0 L58.6,281.2 L59.3,280.4 L60.1,279.6 L60.8,278.9 L61.6,278.3 L62.3,277.8 L63.0,277.5 L63.8,277.3 L64.5,277.3 L65.3,277.5 L66.0,277.8 L66.8,278.3 L67.5,279.0 L68.2,279.7 L69.0,280.5 L69.7,281.3 L70.5,282.2 L71.2,283.3 L72.0,284.9 L72.7,286.6 L73.4,288.6 L74.2,290.6 L74.9,292.6 L75.7,294.5 L76.4,296.3 L77.2,298.2 L77.9,300.0 L78.6,301.9 L79.4,303.6 L80.1,305.2 L80.9,306.6 L81.6,308.0 L82.4,309.2 L83.1,310.4 L83.8,311.6 L84.6,312.6 L85.3,313.6 L86.1,314.4 L86.8,315.3 L87.6,316.1 L88.3,316.9 L89.0,317.6 L89.8,318.3 L90.5,318.9 L91.3,319.4 L92.0,319.8 L92.8,320.1 L93.5,320.4 L94.2,320.7 L95.0,320.8 L95.7,320.9 L96.5,320.9 L97.2,320.9 L98.0,320.8 L98.7,320.6 L99.4,320.5 L100.2,320.3 L100.9,320.0 L101.7,319.8 L102.4,319.5 L103.2,319.3 L103.9,319.0 L104.6,318.6 L105.4,318.2 L106.1,317.7 L106.9,317.2 L107.6,316.6 L108.4,315.9 L109.1,315.2 L109.8,314.5 L110.6,313.8 L111.3,313.1 L112.1,312.3 L112.8,311.5 L113.6,310.6 L114.3,309.7 L115.0,308.8 L115.8,307.8 L116.5,306.8 L117.3,305.7 L118.0,304.6" fill="none" stroke="#111" stroke-width="0.9" stroke-linejoin="round" />
<path d="M29.6,300.1 L30.4,300.8 L31.1,301.6 L31.8,302.3 L32.6,303.0 L33.3,303.7 L34.1,304.4 L34.8,305.0 L35.6,305.6 L36.3,306.2 L37.0,306.8 L37.8,307.4 L38.5,307.9 L39.3,308.4 L40.0,308.8 L40.8,309.2 L41.5,309.6 L42.2,309.8 L43.0,310.0 L43.7,310.1 L44.5,310.0 L45.2,309.7 L46.0,309.3 L46.7,308.8 L47.4,308.2 L48.2,307.5 L48.9,306.5 L49.7,305.4 L50.4,304.2 L51.2,303.0 L51.9,301.7 L52.6,300.5 L53.4,299.3 L54.1,297.9 L54.9,296.5 L55.6,295.2 L56.4,294.0 L57.1,293.0 L57.8,292.3 L58.6,291.7 L59.3,291.1 L60.1,290.5 L60.8,290.0 L61.6,289.6 L62.3,289.2 L63.0,288.9 L63.8,288.8 L64.5,288.8 L65.3,288.9 L66.0,289.2 L66.8,289.6 L67.5,290.1 L68.2,290.7 L69.0,291.3 L69.7,291.9 L70.5,292.5 L71.2,293.4 L72.0,294.6 L72.7,295.9 L73.4,297.3 L74.2,298.8 L74.9,300.3 L75.7,301.8 L76.4,303.2 L77.2,304.6 L77.9,306.0 L78.6,307.4 L79.4,308.7 L80.1,309.9 L80.9,311.1 L81.6,312.1 L82.4,313.2 L83.1,314.1 L83.8,315.0 L84.6,315.9 L85.3,316.7 L86.1,317.4 L86.8,318.1 L87.6,318.7 L88.3,319.4 L89.0,320.0 L89.8,320.6 L90.5,321.1 L91.3,321.5 L92.0,321.8 L92.8,322.1 L93.5,322.4 L94.2,322.6 L95.0,322.7 L95.7,322.8 L96.5,322.8 L97.2,322.7 L98.0,322.6 L98.7,322.4 L99.4,322.3 L100.2,322.1 L100.9,321.9 L101.7,321.6 L102.4,321.4 L103.2,321.1 L103.9,320.8 L104.6,320.5 L105.4,320.1 L106.1,319.6 L106.9,319.0 L107.6,318.4 L108.4,317.7 L109.1,317.0 L109.8,316.3 L110.6,315.6 L111.3,314.9 L112.1,314.1 L112.8,313.3 L113.6,312.4 L114.3,311.5 L115.0,310.5 L115.8,309.5 L116.5,308.5 L117.3,307.4 L118.0,306.3" fill="none" stroke="#111" stroke-width="0.9" stroke-linejoin="round" />
<path d="M29.6,303.4 L30.4,304.1 L31.1,304.9 L31.8,305.6 L32.6,306.3 L33.3,306.9 L34.1,307.6 L34.8,308.2 L35.6,308.7 L36.3,309.3 L37.0,309.8 L37.8,310.3 L38.5,310.8 L39.3,311.3 L40.0,311.7 L40.8,312.1 L41.5,312.4 L42.2,312.7 L43.0,312.9 L43.7,312.9 L44.5,312.9 L45.2,312.7 L46.0,312.5 L46.7,312.2 L47.4,311.9 L48.2,311.5 L48.9,311.0 L49.7,310.4 L50.4,309.7 L51.2,309.1 L51.9,308.4 L52.6,307.6 L53.4,306.8 L54.1,305.9 L54.9,305.1 L55.6,304.2 L56.4,303.4 L57.1,302.8 L57.8,302.3 L58.6,301.9 L59.3,301.5 L60.1,301.1 L60.8,300.8 L61.6,300.4 L62.3,300.2 L63.0,300.0 L63.8,299.9 L64.5,299.9 L65.3,300.0 L66.0,300.2 L66.8,300.5 L67.5,300.9 L68.2,301.3 L69.0,301.7 L69.7,302.2 L70.5,302.7 L71.2,303.2 L72.0,304.0 L72.7,304.9 L73.4,305.9 L74.2,306.9 L74.9,307.9 L75.7,308.9 L76.4,309.9 L77.2,310.9 L77.9,311.9 L78.6,312.9 L79.4,313.8 L80.1,314.7 L80.9,315.5 L81.6,316.3 L82.4,317.1 L83.1,317.8 L83.8,318.5 L84.6,319.2 L85.3,319.8 L86.1,320.3 L86.8,320.8 L87.6,321.4 L88.3,321.9 L89.0,322.3 L89.8,322.8 L90.5,323.2 L91.3,323.6 L92.0,323.9 L92.8,324.2 L93.5,324.4 L94.2,324.5 L95.0,324.6 L95.7,324.6 L96.5,324.6 L97.2,324.5 L98.0,324.4 L98.7,324.3 L99.4,324.1 L100.2,323.9 L100.9,323.7 L101.7,323.4 L102.4,323.2 L103.2,322.9 L103.9,322.7 L104.6,322.3 L105.4,321.9 L106.1,321.4 L106.9,320.9 L107.6,320.2 L108.4,319.6 L109.1,318.9 L109.8,318.2 L110.6,317.5 L111.3,316.7 L112.1,315.9 L112.8,315.1 L113.6,314.2 L114.3,313.3 L115.0,312.3 L115.8,311.3 L116.5,310.2 L117.3,309.1 L118.0,307.9" fill="none" stroke="#111" stroke-width="0.9" stroke-linejoin="round" />
<path d="M29.6,306.6 L30.4,307.4 L31.1,308.1 L31.8,308.8 L32.6,309.5 L33.3,310.2 L34.1,310.8 L34.8,311.3 L35.6,311.9 L36.3,312.4 L37.0,312.8 L37.8,313.3 L38.5,313.7 L39.3,314.2 L40.0,314.6 L40.8,315.0 L41.5,315.3 L42.2,315.5 L43.0,315.7 L43.7,315.8 L44.5,315.8 L45.2,315.7 L46.0,315.7 L46.7,315.6 L47.4,315.5 L48.2,315.4 L48.9,315.3 L49.7,315.2 L50.4,315.0 L51.2,314.9 L51.9,314.7 L52.6,314.3 L53.4,313.9 L54.1,313.5 L54.9,313.0 L55.6,312.5 L56.4,312.1 L57.1,311.7 L57.8,311.4 L58.6,311.2 L59.3,310.9 L60.1,310.7 L60.8,310.4 L61.6,310.2 L62.3,310.0 L63.0,309.9 L63.8,309.8 L64.5,309.8 L65.3,309.9 L66.0,310.1 L66.8,310.3 L67.5,310.6 L68.2,310.9 L69.0,311.2 L69.7,311.5 L70.5,311.9 L71.2,312.3 L72.0,312.7 L72.7,313.3 L73.4,313.8 L74.2,314.4 L74.9,315.1 L75.7,315.7 L76.4,316.4 L77.2,317.0 L77.9,317.6 L78.6,318.2 L79.4,318.7 L80.1,319.3 L80.9,319.8 L81.6,320.4 L82.4,320.9 L83.1,321.5 L83.8,322.0 L84.6,322.4 L85.3,322.9 L86.1,323.3 L86.8,323.6 L87.6,324.0 L88.3,324.3 L89.0,324.7 L89.8,325.1 L90.5,325.4 L91.3,325.7 L92.0,325.9 L92.8,326.2 L93.5,326.3 L94.2,326.4 L95.0,326.5 L95.7,326.5 L96.5,326.4 L97.2,326.3 L98.0,326.2 L98.7,326.1 L99.4,325.9 L100.2,325.7 L100.9,325.5 L101.7,325.2 L102.4,325.0 L103.2,324.8 L103.9,324.5 L104.6,324.2 L105.4,323.8 L106.1,323.3 L106.9,322.7 L107.6,322.1 L108.4,321.4 L109.1,320.7 L109.8,320.0 L110.6,319.3 L111.3,318.6 L112.1,317.8 L112.8,316.9 L113.6,316.0 L114.3,315.0 L115.0,314.0 L115.8,313.0 L116.5,311.9 L117.3,310.8 L118.0,309.6" fill="none" stroke="#111" stroke-width="0.9" stroke-linejoin="round" />
<path d="M29.6,310.2 L31.4,311.6 L33.3,312.8 L35.1,314.0 L36.9,315.0 L38.8,315.9 L40.6,316.7 L42.4,317.4 L44.3,318.0 L46.1,318.6 L47.9,319.1 L49.7,319.6 L51.6,320.0 L53.4,320.4 L55.2,320.7 L57.1,321.1 L58.9,321.4 L60.7,321.7 L62.5,322.0 L64.4,322.4 L66.2,322.8 L68.0,323.4 L69.9,324.0 L71.7,324.6 L73.5,325.2 L75.3,325.8 L77.2,326.3 L79.0,326.9 L80.8,327.5 L82.7,328.1" fill="none" stroke="#555" stroke-width="0.7" stroke-linejoin="round" stroke-dasharray="3,2"/>
<path d="M82.7,317.7 L83.6,317.7 L84.4,317.7 L85.3,317.7 L86.2,317.6 L87.1,317.6 L88.0,317.6 L88.9,317.6 L89.8,317.6 L90.7,317.5 L91.6,317.5 L92.5,317.5 L93.4,317.5 L94.2,317.4 L95.1,317.4 L96.0,317.4 L96.9,317.4 L97.8,317.3 L98.7,317.3 L99.6,317.3 L100.5,317.3 L101.4,317.2 L102.3,317.2 L103.2,317.2 L104.1,317.1 L104.9,317.1 L105.8,317.1 L106.7,317.1 L107.6,317.0 L108.5,317.0 L109.4,317.0 L110.3,316.9 L111.2,316.9 L112.1,316.9 L113.0,316.8 L113.9,316.8 L114.8,316.7 L115.6,316.6 L116.5,316.6 L117.4,316.5 L118.3,316.4 L119.2,316.2 L120.1,316.1 L121.0,315.9 L121.9,315.7 L122.8,315.5 L123.7,315.2 L124.6,314.8 L125.4,314.5 L126.3,314.1 L127.2,313.6 L128.1,313.1 L129.0,312.5 L129.9,311.9 L130.8,311.2 L131.7,310.5 L132.6,309.7 L133.5,308.9 L134.4,308.1 L135.3,307.3 L136.1,306.5 L137.0,305.7 L137.9,305.0 L138.8,304.3 L139.7,303.6 L140.6,303.1 L141.5,302.6 L142.4,302.2 L143.3,302.0 L144.2,301.8 L145.1,301.8 L146.0,301.8 L146.8,302.0 L147.7,302.3 L148.6,302.7 L149.5,303.2 L150.4,303.7 L151.3,304.3 L152.2,304.9 L153.1,305.6 L154.0,306.3 L154.9,307.0 L155.8,307.6 L156.6,308.3 L157.5,308.9 L158.4,309.5 L159.3,310.0 L160.2,310.5 L161.1,310.9 L162.0,311.2 L162.9,311.5 L163.8,311.7 L164.7,311.9 L165.6,312.0 L166.5,312.1 L167.3,312.1 L168.2,312.1 L169.1,312.0 L170.0,311.9 L170.9,311.7 L171.8,311.5 L172.7,311.3 L173.6,311.0 L174.5,310.7 L175.4,310.4 L176.3,310.1 L177.2,309.7 L178.0,309.3 L178.9,308.8 L179.8,308.3 L180.7,307.8 L181.6,307.2 L182.5,306.6 L183.4,306.0 L184.3,305.3 L185.2,304.5 L186.1,303.7 L187.0,302.9 L187.8,302.0 L188.7,301.0" fill="none" stroke="#3a5bbf" stroke-width="0.8" stroke-linejoin="round" />
<path d="M82.7,319.7 L83.6,319.7 L84.4,319.7 L85.3,319.6 L86.2,319.6 L87.1,319.6 L88.0,319.6 L88.9,319.5 L89.8,319.5 L90.7,319.5 L91.6,319.5 L92.5,319.4 L93.4,319.4 L94.2,319.4 L95.1,319.3 L96.0,319.3 L96.9,319.3 L97.8,319.3 L98.7,319.2 L99.6,319.2 L100.5,319.2 L101.4,319.1 L102.3,319.1 L103.2,319.1 L104.1,319.1 L104.9,319.0 L105.8,319.0 L106.7,319.0 L107.6,318.9 L108.5,318.9 L109.4,318.9 L110.3,318.8 L111.2,318.8 L112.1,318.7 L113.0,318.7 L113.9,318.7 L114.8,318.6 L115.6,318.5 L116.5,318.5 L117.4,318.4 L118.3,318.3 L119.2,318.2 L120.1,318.0 L121.0,317.9 L121.9,317.7 L122.8,317.5 L123.7,317.3 L124.6,317.0 L125.4,316.7 L126.3,316.3 L127.2,316.0 L128.1,315.5 L129.0,315.1 L129.9,314.5 L130.8,314.0 L131.7,313.4 L132.6,312.8 L133.5,312.1 L134.4,311.5 L135.3,310.8 L136.1,310.2 L137.0,309.5 L137.9,308.9 L138.8,308.3 L139.7,307.8 L140.6,307.3 L141.5,306.9 L142.4,306.6 L143.3,306.4 L144.2,306.2 L145.1,306.2 L146.0,306.2 L146.8,306.3 L147.7,306.5 L148.6,306.8 L149.5,307.2 L150.4,307.6 L151.3,308.0 L152.2,308.5 L153.1,309.0 L154.0,309.5 L154.9,310.0 L155.8,310.5 L156.6,311.0 L157.5,311.4 L158.4,311.8 L159.3,312.2 L160.2,312.5 L161.1,312.8 L162.0,313.0 L162.9,313.2 L163.8,313.3 L164.7,313.3 L165.6,313.4 L166.5,313.3 L167.3,313.2 L168.2,313.1 L169.1,313.0 L170.0,312.7 L170.9,312.5 L171.8,312.2 L172.7,311.9 L173.6,311.6 L174.5,311.2 L175.4,310.7 L176.3,310.3 L177.2,309.8 L178.0,309.2 L178.9,308.7 L179.8,308.0 L180.7,307.4 L181.6,306.6 L182.5,305.9 L183.4,305.0 L184.3,304.1 L185.2,303.2 L186.1,302.2 L187.0,301.1 L187.8,299.9 L188.7,298.6" fill="none" stroke="#3a5bbf" stroke-width="0.8" stroke-linejoin="round" />
<path d="M82.7,321.7 L83.6,321.7 L84.4,321.7 L85.3,321.6 L86.2,321.6 L87.1,321.6 L88.0,321.5 L88.9,321.5 L89.8,321.5 L90.7,321.4 L91.6,321.4 L92.5,321.4 L93.4,321.3 L94.2,321.3 L95.1,321.3 L96.0,321.3 L96.9,321.2 L97.8,321.2 L98.7,321.2 L99.6,321.1 L100.5,321.1 L101.4,321.1 L102.3,321.0 L103.2,321.0 L104.1,321.0 L104.9,320.9 L105.8,320.9 L106.7,320.9 L107.6,320.8 L108.5,320.8 L109.4,320.8 L110.3,320.7 L111.2,320.7 L112.1,320.7 L113.0,320.6 L113.9,320.6 L114.8,320.5 L115.6,320.4 L116.5,320.4 L117.4,320.3 L118.3,320.2 L119.2,320.1 L120.1,320.0 L121.0,319.9 L121.9,319.7 L122.8,319.6 L123.7,319.4 L124.6,319.2 L125.4,318.9 L126.3,318.6 L127.2,318.3 L128.1,318.0 L129.0,317.6 L129.9,317.2 L130.8,316.7 L131.7,316.3 L132.6,315.8 L133.5,315.3 L134.4,314.7 L135.3,314.2 L136.1,313.7 L137.0,313.2 L137.9,312.7 L138.8,312.2 L139.7,311.8 L140.6,311.4 L141.5,311.1 L142.4,310.9 L143.3,310.7 L144.2,310.6 L145.1,310.5 L146.0,310.5 L146.8,310.6 L147.7,310.8 L148.6,311.0 L149.5,311.3 L150.4,311.6 L151.3,311.9 L152.2,312.3 L153.1,312.7 L154.0,313.1 L154.9,313.5 L155.8,313.9 L156.6,314.3 L157.5,314.6 L158.4,314.9 L159.3,315.2 L160.2,315.5 L161.1,315.7 L162.0,315.9 L162.9,316.0 L163.8,316.1 L164.7,316.2 L165.6,316.2 L166.5,316.2 L167.3,316.1 L168.2,316.1 L169.1,316.0 L170.0,315.8 L170.9,315.6 L171.8,315.5 L172.7,315.2 L173.6,315.0 L174.5,314.7 L175.4,314.4 L176.3,314.1 L177.2,313.8 L178.0,313.4 L178.9,313.0 L179.8,312.6 L180.7,312.1 L181.6,311.6 L182.5,311.1 L183.4,310.5 L184.3,309.9 L185.2,309.3 L186.1,308.6 L187.0,307.8 L187.8,307.0 L188.7,306.2" fill="none" stroke="#3a5bbf" stroke-width="0.8" stroke-linejoin="round" />
<path d="M82.7,324.1 L83.6,324.1 L84.4,324.0 L85.3,324.0 L86.2,324.0 L87.1,323.9 L88.0,323.9 L88.9,323.8 L89.8,323.8 L90.7,323.8 L91.6,323.7 L92.5,323.7 L93.4,323.7 L94.2,323.6 L95.1,323.6 L96.0,323.6 L96.9,323.5 L97.8,323.5 L98.7,323.4 L99.6,323.4 L100.5,323.4 L101.4,323.3 L102.3,323.3 L103.2,323.3 L104.1,323.2 L104.9,323.2 L105.8,323.1 L106.7,323.1 L107.6,323.1 L108.5,323.0 L109.4,323.0 L110.3,322.9 L111.2,322.9 L112.1,322.8 L113.0,322.8 L113.9,322.7 L114.8,322.7 L115.6,322.6 L116.5,322.5 L117.4,322.5 L118.3,322.4 L119.2,322.3 L120.1,322.2 L121.0,322.0 L121.9,321.9 L122.8,321.7 L123.7,321.6 L124.6,321.4 L125.4,321.1 L126.3,320.9 L127.2,320.6 L128.1,320.3 L129.0,319.9 L129.9,319.6 L130.8,319.2 L131.7,318.8 L132.6,318.3 L133.5,317.9 L134.4,317.4 L135.3,316.9 L136.1,316.4 L137.0,316.0 L137.9,315.5 L138.8,315.1 L139.7,314.7 L140.6,314.3 L141.5,314.0 L142.4,313.7 L143.3,313.5 L144.2,313.3 L145.1,313.2 L146.0,313.1 L146.8,313.1 L147.7,313.1 L148.6,313.2 L149.5,313.3 L150.4,313.4 L151.3,313.5 L152.2,313.7 L153.1,313.9 L154.0,314.0 L154.9,314.2 L155.8,314.3 L156.6,314.4 L157.5,314.5 L158.4,314.5 L159.3,314.5 L160.2,314.4 L161.1,314.3 L162.0,314.1 L162.9,313.9 L163.8,313.6 L164.7,313.3 L165.6,312.9 L166.5,312.4 L167.3,311.9 L168.2,311.3 L169.1,310.7 L170.0,310.0 L170.9,309.2 L171.8,308.4 L172.7,307.5 L173.6,306.5 L174.5,305.4 L175.4,304.3 L176.3,303.1 L177.2,301.8 L178.0,300.3 L178.9,298.8 L179.8,297.2 L180.7,295.4 L181.6,293.5 L182.5,291.5 L183.4,289.3 L184.3,286.9 L185.2,284.4 L186.1,281.7 L187.0,278.8 L187.8,275.7 L188.7,272.4" fill="none" stroke="#3a5bbf" stroke-width="0.8" stroke-linejoin="round" />
<path d="M82.7,326.1 L83.6,326.0 L84.4,326.0 L85.3,326.0 L86.2,325.9 L87.1,325.9 L88.0,325.9 L88.9,325.8 L89.8,325.8 L90.7,325.7 L91.6,325.7 L92.5,325.7 L93.4,325.6 L94.2,325.6 L95.1,325.6 L96.0,325.5 L96.9,325.5 L97.8,325.4 L98.7,325.4 L99.6,325.4 L100.5,325.3 L101.4,325.3 L102.3,325.2 L103.2,325.2 L104.1,325.2 L104.9,325.1 L105.8,325.1 L106.7,325.0 L107.6,325.0 L108.5,325.0 L109.4,324.9 L110.3,324.9 L111.2,324.8 L112.1,324.8 L113.0,324.7 L113.9,324.7 L114.8,324.6 L115.6,324.6 L116.5,324.5 L117.4,324.4 L118.3,324.4 L119.2,324.3 L120.1,324.2 L121.0,324.1 L121.9,324.0 L122.8,323.8 L123.7,323.7 L124.6,323.5 L125.4,323.4 L126.3,323.2 L127.2,322.9 L128.1,322.7 L129.0,322.4 L129.9,322.1 L130.8,321.8 L131.7,321.5 L132.6,321.2 L133.5,320.8 L134.4,320.4 L135.3,320.1 L136.1,319.7 L137.0,319.4 L137.9,319.0 L138.8,318.7 L139.7,318.4 L140.6,318.1 L141.5,317.9 L142.4,317.7 L143.3,317.5 L144.2,317.4 L145.1,317.3 L146.0,317.3 L146.8,317.3 L147.7,317.4 L148.6,317.4 L149.5,317.6 L150.4,317.7 L151.3,317.9 L152.2,318.0 L153.1,318.2 L154.0,318.4 L154.9,318.6 L155.8,318.8 L156.6,318.9 L157.5,319.1 L158.4,319.2 L159.3,319.3 L160.2,319.3 L161.1,319.4 L162.0,319.3 L162.9,319.3 L163.8,319.2 L164.7,319.1 L165.6,319.0 L166.5,318.8 L167.3,318.6 L168.2,318.4 L169.1,318.1 L170.0,317.9 L170.9,317.5 L171.8,317.2 L172.7,316.8 L173.6,316.4 L174.5,315.9 L175.4,315.4 L176.3,314.9 L177.2,314.3 L178.0,313.7 L178.9,313.0 L179.8,312.3 L180.7,311.6 L181.6,310.8 L182.5,309.9 L183.4,309.0 L184.3,308.0 L185.2,306.9 L186.1,305.7 L187.0,304.5 L187.8,303.2 L188.7,301.8" fill="none" stroke="#3a5bbf" stroke-width="0.8" stroke-linejoin="round" />
<path d="M82.7,328.1 L83.6,328.0 L84.4,328.0 L85.3,327.9 L86.2,327.9 L87.1,327.9 L88.0,327.8 L88.9,327.8 L89.8,327.7 L90.7,327.7 L91.6,327.7 L92.5,327.6 L93.4,327.6 L94.2,327.5 L95.1,327.5 L96.0,327.5 L96.9,327.4 L97.8,327.4 L98.7,327.3 L99.6,327.3 L100.5,327.2 L101.4,327.2 L102.3,327.2 L103.2,327.1 L104.1,327.1 L104.9,327.0 L105.8,327.0 L106.7,326.9 L107.6,326.9 L108.5,326.9 L109.4,326.8 L110.3,326.8 L111.2,326.7 L112.1,326.7 L113.0,326.6 L113.9,326.6 L114.8,326.5 L115.6,326.5 L116.5,326.4 L117.4,326.4 L118.3,326.3 L119.2,326.2 L120.1,326.1 L121.0,326.0 L121.9,325.9 L122.8,325.8 L123.7,325.7 L124.6,325.6 L125.4,325.4 L126.3,325.3 L127.2,325.1 L128.1,324.9 L129.0,324.7 L129.9,324.5 L130.8,324.3 L131.7,324.0 L132.6,323.8 L133.5,323.5 L134.4,323.2 L135.3,322.9 L136.1,322.7 L137.0,322.4 L137.9,322.1 L138.8,321.9 L139.7,321.7 L140.6,321.4 L141.5,321.3 L142.4,321.1 L143.3,321.0 L144.2,320.9 L145.1,320.8 L146.0,320.8 L146.8,320.7 L147.7,320.8 L148.6,320.8 L149.5,320.9 L150.4,321.0 L151.3,321.0 L152.2,321.2 L153.1,321.3 L154.0,321.4 L154.9,321.5 L155.8,321.6 L156.6,321.7 L157.5,321.8 L158.4,321.8 L159.3,321.8 L160.2,321.9 L161.1,321.9 L162.0,321.8 L162.9,321.8 L163.8,321.7 L164.7,321.6 L165.6,321.5 L166.5,321.3 L167.3,321.1 L168.2,320.9 L169.1,320.7 L170.0,320.5 L170.9,320.2 L171.8,319.9 L172.7,319.6 L173.6,319.2 L174.5,318.8 L175.4,318.4 L176.3,318.0 L177.2,317.5 L178.0,317.0 L178.9,316.5 L179.8,315.9 L180.7,315.3 L181.6,314.6 L182.5,313.9 L183.4,313.2 L184.3,312.4 L185.2,311.5 L186.1,310.6 L187.0,309.6 L187.8,308.5 L188.7,307.3" fill="none" stroke="#3a5bbf" stroke-width="0.8" stroke-linejoin="round" />
<path d="M82.7,330.1 L83.6,330.0 L84.4,330.0 L85.3,329.9 L86.2,329.9 L87.1,329.8 L88.0,329.8 L88.9,329.7 L89.8,329.7 L90.7,329.7 L91.6,329.6 L92.5,329.6 L93.4,329.5 L94.2,329.5 L95.1,329.4 L96.0,329.4 L96.9,329.3 L97.8,329.3 L98.7,329.3 L99.6,329.2 L100.5,329.2 L101.4,329.1 L102.3,329.1 L103.2,329.0 L104.1,329.0 L104.9,328.9 L105.8,328.9 L106.7,328.8 L107.6,328.8 L108.5,328.7 L109.4,328.7 L110.3,328.6 L111.2,328.6 L112.1,328.6 L113.0,328.5 L113.9,328.4 L114.8,328.4 L115.6,328.3 L116.5,328.3 L117.4,328.2 L118.3,328.1 L119.2,328.1 L120.1,328.0 L121.0,327.9 L121.9,327.8 L122.8,327.7 L123.7,327.6 L124.6,327.5 L125.4,327.4 L126.3,327.3 L127.2,327.1 L128.1,327.0 L129.0,326.8 L129.9,326.6 L130.8,326.4 L131.7,326.2 L132.6,326.0 L133.5,325.8 L134.4,325.6 L135.3,325.4 L136.1,325.2 L137.0,325.0 L137.9,324.7 L138.8,324.5 L139.7,324.3 L140.6,324.2 L141.5,324.0 L142.4,323.8 L143.3,323.7 L144.2,323.6 L145.1,323.5 L146.0,323.4 L146.8,323.4 L147.7,323.4 L148.6,323.3 L149.5,323.3 L150.4,323.3 L151.3,323.3 L152.2,323.4 L153.1,323.4 L154.0,323.4 L154.9,323.4 L155.8,323.4 L156.6,323.4 L157.5,323.3 L158.4,323.3 L159.3,323.2 L160.2,323.1 L161.1,323.0 L162.0,322.9 L162.9,322.7 L163.8,322.5 L164.7,322.3 L165.6,322.0 L166.5,321.8 L167.3,321.5 L168.2,321.2 L169.1,320.8 L170.0,320.4 L170.9,320.0 L171.8,319.6 L172.7,319.1 L173.6,318.5 L174.5,318.0 L175.4,317.4 L176.3,316.7 L177.2,316.1 L178.0,315.3 L178.9,314.5 L179.8,313.7 L180.7,312.8 L181.6,311.8 L182.5,310.8 L183.4,309.6 L184.3,308.4 L185.2,307.2 L186.1,305.8 L187.0,304.3 L187.8,302.7 L188.7,301.0" fill="none" stroke="#3a5bbf" stroke-width="0.8" stroke-linejoin="round" />
<path d="M82.7,331.6 L83.6,331.6 L84.4,331.5 L85.3,331.5 L86.2,331.5 L87.1,331.4 L88.0,331.4 L88.9,331.3 L89.8,331.3 L90.7,331.2 L91.6,331.2 L92.5,331.1 L93.4,331.1 L94.2,331.0 L95.1,331.0 L96.0,330.9 L96.9,330.9 L97.8,330.8 L98.7,330.8 L99.6,330.8 L100.5,330.7 L101.4,330.7 L102.3,330.6 L103.2,330.6 L104.1,330.5 L104.9,330.5 L105.8,330.4 L106.7,330.4 L107.6,330.3 L108.5,330.3 L109.4,330.2 L110.3,330.2 L111.2,330.1 L112.1,330.1 L113.0,330.0 L113.9,330.0 L114.8,329.9 L115.6,329.9 L116.5,329.8 L117.4,329.8 L118.3,329.7 L119.2,329.6 L120.1,329.6 L121.0,329.5 L121.9,329.4 L122.8,329.3 L123.7,329.2 L124.6,329.1 L125.4,329.0 L126.3,328.9 L127.2,328.8 L128.1,328.7 L129.0,328.6 L129.9,328.4 L130.8,328.3 L131.7,328.1 L132.6,328.0 L133.5,327.8 L134.4,327.6 L135.3,327.5 L136.1,327.3 L137.0,327.1 L137.9,327.0 L138.8,326.8 L139.7,326.7 L140.6,326.5 L141.5,326.4 L142.4,326.3 L143.3,326.2 L144.2,326.1 L145.1,326.0 L146.0,325.9 L146.8,325.9 L147.7,325.9 L148.6,325.9 L149.5,325.8 L150.4,325.8 L151.3,325.8 L152.2,325.8 L153.1,325.9 L154.0,325.9 L154.9,325.9 L155.8,325.9 L156.6,325.8 L157.5,325.8 L158.4,325.8 L159.3,325.7 L160.2,325.7 L161.1,325.6 L162.0,325.5 L162.9,325.4 L163.8,325.3 L164.7,325.2 L165.6,325.0 L166.5,324.8 L167.3,324.6 L168.2,324.4 L169.1,324.2 L170.0,324.0 L170.9,323.7 L171.8,323.4 L172.7,323.1 L173.6,322.8 L174.5,322.5 L175.4,322.1 L176.3,321.7 L177.2,321.3 L178.0,320.8 L178.9,320.3 L179.8,319.8 L180.7,319.3 L181.6,318.7 L182.5,318.1 L183.4,317.4 L184.3,316.7 L185.2,315.9 L186.1,315.1 L187.0,314.2 L187.8,313.2 L188.7,312.2" fill="none" stroke="#3a5bbf" stroke-width="0.8" stroke-linejoin="round" />
<path d="M82.7,333.2 L83.6,333.2 L84.4,333.1 L85.3,333.1 L86.2,333.0 L87.1,333.0 L88.0,332.9 L88.9,332.9 L89.8,332.8 L90.7,332.8 L91.6,332.7 L92.5,332.7 L93.4,332.6 L94.2,332.6 L95.1,332.5 L96.0,332.5 L96.9,332.4 L97.8,332.4 L98.7,332.3 L99.6,332.3 L100.5,332.2 L101.4,332.2 L102.3,332.1 L103.2,332.1 L104.1,332.0 L104.9,332.0 L105.8,331.9 L106.7,331.9 L107.6,331.8 L108.5,331.8 L109.4,331.7 L110.3,331.7 L111.2,331.6 L112.1,331.6 L113.0,331.5 L113.9,331.5 L114.8,331.4 L115.6,331.4 L116.5,331.3 L117.4,331.2 L118.3,331.2 L119.2,331.1 L120.1,331.1 L121.0,331.0 L121.9,330.9 L122.8,330.8 L123.7,330.8 L124.6,330.7 L125.4,330.6 L126.3,330.5 L127.2,330.4 L128.1,330.3 L129.0,330.2 L129.9,330.1 L130.8,330.0 L131.7,329.8 L132.6,329.7 L133.5,329.6 L134.4,329.5 L135.3,329.3 L136.1,329.2 L137.0,329.1 L137.9,328.9 L138.8,328.8 L139.7,328.7 L140.6,328.6 L141.5,328.4 L142.4,328.3 L143.3,328.2 L144.2,328.1 L145.1,328.0 L146.0,328.0 L146.8,327.9 L147.7,327.8 L148.6,327.7 L149.5,327.7 L150.4,327.6 L151.3,327.6 L152.2,327.5 L153.1,327.4 L154.0,327.4 L154.9,327.3 L155.8,327.2 L156.6,327.1 L157.5,327.0 L158.4,326.9 L159.3,326.8 L160.2,326.7 L161.1,326.5 L162.0,326.4 L162.9,326.2 L163.8,326.0 L164.7,325.8 L165.6,325.5 L166.5,325.3 L167.3,325.0 L168.2,324.7 L169.1,324.4 L170.0,324.0 L170.9,323.7 L171.8,323.3 L172.7,322.8 L173.6,322.4 L174.5,321.9 L175.4,321.4 L176.3,320.9 L177.2,320.3 L178.0,319.6 L178.9,319.0 L179.8,318.2 L180.7,317.5 L181.6,316.6 L182.5,315.8 L183.4,314.8 L184.3,313.8 L185.2,312.7 L186.1,311.6 L187.0,310.3 L187.8,309.0 L188.7,307.6" fill="none" stroke="#3a5bbf" stroke-width="0.8" stroke-linejoin="round" />
<path d="M82.7,334.4 L83.6,334.4 L84.4,334.3 L85.3,334.3 L86.2,334.2 L87.1,334.2 L88.0,334.1 L88.9,334.1 L89.8,334.0 L90.7,334.0 L91.6,333.9 L92.5,333.9 L93.4,333.8 L94.2,333.8 L95.1,333.7 L96.0,333.7 L96.9,333.6 L97.8,333.6 L98.7,333.5 L99.6,333.4 L100.5,333.4 L101.4,333.3 L102.3,333.3 L103.2,333.2 L104.1,333.2 L104.9,333.1 L105.8,333.1 L106.7,333.0 L107.6,333.0 L108.5,332.9 L109.4,332.9 L110.3,332.8 L111.2,332.8 L112.1,332.7 L113.0,332.7 L113.9,332.6 L114.8,332.6 L115.6,332.5 L116.5,332.4 L117.4,332.4 L118.3,332.3 L119.2,332.3 L120.1,332.2 L121.0,332.1 L121.9,332.1 L122.8,332.0 L123.7,331.9 L124.6,331.9 L125.4,331.8 L126.3,331.7 L127.2,331.6 L128.1,331.6 L129.0,331.5 L129.9,331.4 L130.8,331.3 L131.7,331.2 L132.6,331.1 L133.5,331.0 L134.4,330.9 L135.3,330.8 L136.1,330.7 L137.0,330.6 L137.9,330.4 L138.8,330.3 L139.7,330.2 L140.6,330.1 L141.5,330.1 L142.4,330.0 L143.3,329.9 L144.2,329.8 L145.1,329.7 L146.0,329.7 L146.8,329.6 L147.7,329.5 L148.6,329.5 L149.5,329.4 L150.4,329.4 L151.3,329.3 L152.2,329.3 L153.1,329.2 L154.0,329.1 L154.9,329.1 L155.8,329.0 L156.6,329.0 L157.5,328.9 L158.4,328.8 L159.3,328.7 L160.2,328.6 L161.1,328.5 L162.0,328.4 L162.9,328.2 L163.8,328.1 L164.7,328.0 L165.6,327.8 L166.5,327.6 L167.3,327.4 L168.2,327.2 L169.1,327.0 L170.0,326.8 L170.9,326.6 L171.8,326.3 L172.7,326.0 L173.6,325.7 L174.5,325.4 L175.4,325.1 L176.3,324.7 L177.2,324.4 L178.0,324.0 L178.9,323.5 L179.8,323.1 L180.7,322.6 L181.6,322.1 L182.5,321.5 L183.4,321.0 L184.3,320.3 L185.2,319.7 L186.1,318.9 L187.0,318.2 L187.8,317.3 L188.7,316.5" fill="none" stroke="#3a5bbf" stroke-width="0.8" stroke-linejoin="round" />
<line x1="82.66" y1="317.75" x2="82.66" y2="336.80600000000004" stroke="#3a5bbf" stroke-width="1"/>
<path d="M82.7,332.8 L84.5,332.9 L86.3,333.0 L88.1,333.1 L89.9,333.2 L91.6,333.2 L93.4,333.3 L95.2,333.3 L97.0,333.4 L98.8,333.4 L100.6,333.5 L102.4,333.5 L104.2,333.5 L106.0,333.6 L107.8,333.6 L109.6,333.6 L111.4,333.6 L113.2,333.6 L115.0,333.6 L116.8,333.6 L118.6,333.6 L120.4,333.6 L122.2,333.6 L124.0,333.6 L125.8,333.6 L127.6,333.5 L129.4,333.5 L131.2,333.4 L133.0,333.4 L134.8,333.3 L136.6,333.2 L138.4,333.1 L140.2,333.1 L142.0,333.0 L143.8,332.9 L145.6,332.8 L147.4,332.6 L149.2,332.4 L151.0,332.2 L152.8,331.9 L154.6,331.6 L156.4,331.2 L158.2,330.8 L160.0,330.3 L161.8,329.8 L163.6,329.1 L165.4,328.1 L167.2,326.6 L169.0,324.9 L170.8,322.9 L172.6,320.6 L174.4,318.1 L176.2,315.1 L178.0,311.2 L179.8,306.4 L181.5,300.7 L183.3,294.3 L185.1,285.9 L186.9,274.8 L188.7,262.2" fill="none" stroke="#7d95dd" stroke-width="0.8" stroke-linejoin="round" stroke-dasharray="3,2"/>
<rect x="107.5" y="212.5" width="71.0" height="53.0" fill="#fff" stroke="#2a2a2a" stroke-width="1"/>
<text x="103" y="267.8" font-family="'Liberation Serif', serif" font-size="8" text-anchor="end" font-weight="normal" font-style="normal" fill="#333" >0</text>
<text x="103" y="246.20000000000002" font-family="'Liberation Serif', serif" font-size="8" text-anchor="end" font-weight="normal" font-style="normal" fill="#333" >1</text>
<text x="103" y="224.8" font-family="'Liberation Serif', serif" font-size="8" text-anchor="end" font-weight="normal" font-style="normal" fill="#333" >2</text>
<text x="108.2" y="273.5" font-family="'Liberation Serif', serif" font-size="8" text-anchor="middle" font-weight="normal" font-style="normal" fill="#333" >0</text>
<text x="133.6" y="273.5" font-family="'Liberation Serif', serif" font-size="8" text-anchor="middle" font-weight="normal" font-style="normal" fill="#333" >40</text>
<text x="159" y="273.5" font-family="'Liberation Serif', serif" font-size="8" text-anchor="middle" font-weight="normal" font-style="normal" fill="#333" >80</text>
<text x="144.9" y="281.5" font-family="'Liberation Serif', serif" font-size="8" text-anchor="middle" font-weight="normal" font-style="normal" fill="#333" textLength="36" lengthAdjust="spacingAndGlyphs">[GA] (μM)</text>
<text x="0" y="0" font-family="'Liberation Serif', serif" font-size="7.5" text-anchor="middle" font-weight="normal" font-style="normal" fill="#333" transform="translate(95.5,245.5) rotate(-90)">I (μA)</text>
<path d="M113.0,260.3 L173.5,220.0" fill="none" stroke="#333" stroke-width="0.7" stroke-linejoin="round" />
<circle cx="114.1" cy="259.4" r="1.4" fill="#111"/>
<circle cx="120.8" cy="254.6" r="1.4" fill="#111"/>
<circle cx="127.5" cy="249.8" r="1.4" fill="#111"/>
<circle cx="133.6" cy="245.5" r="1.4" fill="#111"/>
<circle cx="140.1" cy="241.2" r="1.4" fill="#111"/>
<circle cx="146.7" cy="236.7" r="1.4" fill="#111"/>
<circle cx="153.2" cy="232.7" r="1.4" fill="#111"/>
<circle cx="159.6" cy="228.1" r="1.4" fill="#111"/>
<circle cx="172.4" cy="220.6" r="1.4" fill="#111"/>
<line x1="172.4" y1="217" x2="172.4" y2="224" stroke="#333" stroke-width="0.6"/>
<path d="M114.1,265.0 L120.8,264.8 L127.5,264.2 L133.6,263.7 L140.1,263.2 L153.2,262.4 L172.4,260.5" fill="none" stroke="#3a5bbf" stroke-width="0.8" stroke-linejoin="round" />
<circle cx="114.1" cy="265" r="1.1" fill="#3a5bbf"/>
<circle cx="120.8" cy="264.8" r="1.1" fill="#3a5bbf"/>
<circle cx="127.5" cy="264.2" r="1.1" fill="#3a5bbf"/>
<circle cx="133.6" cy="263.7" r="1.1" fill="#3a5bbf"/>
<circle cx="140.1" cy="263.2" r="1.1" fill="#3a5bbf"/>
<circle cx="153.2" cy="262.4" r="1.1" fill="#3a5bbf"/>
<circle cx="172.4" cy="260.5" r="1.1" fill="#3a5bbf"/>
<rect x="234.5" y="209.5" width="170.0" height="128.0" fill="none" stroke="#7a7a7a" stroke-width="1"/>
<text x="236" y="199.3" font-family="'Liberation Serif', serif" font-size="12.8" text-anchor="start" font-weight="bold" font-style="normal" fill="#1a1a1a" textLength="40.4" lengthAdjust="spacingAndGlyphs">Tyrosol</text>
<rect x="237" y="200.8" width="41" height="1.2" fill="#222"/>
<text x="230.5" y="340.6" font-family="'Liberation Serif', serif" font-size="10.5" text-anchor="end" font-weight="normal" font-style="normal" fill="#333" >0</text>
<line x1="232.0" y1="337.0" x2="234.5" y2="337.0" stroke="#7a7a7a" stroke-width="0.8"/>
<text x="230.5" y="304.5" font-family="'Liberation Serif', serif" font-size="10.5" text-anchor="end" font-weight="normal" font-style="normal" fill="#333" >1</text>
<line x1="232.0" y1="300.9" x2="234.5" y2="300.9" stroke="#7a7a7a" stroke-width="0.8"/>
<text x="230.5" y="268.40000000000003" font-family="'Liberation Serif', serif" font-size="10.5" text-anchor="end" font-weight="normal" font-style="normal" fill="#333" >2</text>
<line x1="232.0" y1="264.8" x2="234.5" y2="264.8" stroke="#7a7a7a" stroke-width="0.8"/>
<text x="230.5" y="232.29999999999998" font-family="'Liberation Serif', serif" font-size="10.5" text-anchor="end" font-weight="normal" font-style="normal" fill="#333" >3</text>
<line x1="232.0" y1="228.7" x2="234.5" y2="228.7" stroke="#7a7a7a" stroke-width="0.8"/>
<text x="234.5" y="347" font-family="'Liberation Serif', serif" font-size="8.5" text-anchor="middle" font-weight="normal" font-style="normal" fill="#333" >0.2</text>
<text x="263.0" y="347" font-family="'Liberation Serif', serif" font-size="8.5" text-anchor="middle" font-weight="normal" font-style="normal" fill="#333" >0.3</text>
<text x="291.5" y="347" font-family="'Liberation Serif', serif" font-size="8.5" text-anchor="middle" font-weight="normal" font-style="normal" fill="#333" >0.4</text>
<text x="320.0" y="347" font-family="'Liberation Serif', serif" font-size="8.5" text-anchor="middle" font-weight="normal" font-style="normal" fill="#333" >0.5</text>
<text x="348.5" y="347" font-family="'Liberation Serif', serif" font-size="8.5" text-anchor="middle" font-weight="normal" font-style="normal" fill="#333" >0.6</text>
<text x="377.0" y="347" font-family="'Liberation Serif', serif" font-size="8.5" text-anchor="middle" font-weight="normal" font-style="normal" fill="#333" >0.7</text>
<text x="405.5" y="347" font-family="'Liberation Serif', serif" font-size="8.5" text-anchor="middle" font-weight="normal" font-style="normal" fill="#333" >0.8</text>
<text x="320" y="362.3" font-family="'Liberation Serif', serif" font-size="9.6" text-anchor="middle" font-weight="normal" font-style="normal" fill="#333" ><tspan font-style="italic">E</tspan> (V)</text>
<text x="0" y="0" font-family="'Liberation Serif', serif" font-size="12.5" text-anchor="middle" font-weight="normal" font-style="normal" fill="#333" transform="translate(219.3,281) rotate(-90)"><tspan font-style="italic">I</tspan> (μA)</text>
<path d="M234.5,279.2 L235.8,286.2 L237.2,289.3 L238.5,291.5 L239.8,293.2 L241.1,294.7 L242.5,296.1 L243.8,297.4 L245.1,298.6 L246.4,299.6 L247.8,300.4 L249.1,301.1 L250.4,301.6 L251.7,302.1 L253.1,302.5 L254.4,302.9 L255.7,303.3 L257.0,303.6 L258.4,304.0 L259.7,304.3 L261.0,304.7 L262.3,305.0 L263.7,305.4 L265.0,305.9 L266.3,306.4 L267.6,306.9 L269.0,307.4 L270.3,307.8 L271.6,308.2 L272.9,308.6 L274.3,308.8 L275.6,309.0 L276.9,309.2 L278.2,309.4 L279.6,309.5 L280.9,309.7 L282.2,309.8 L283.5,309.9 L284.9,309.9 L286.2,309.9 L287.5,309.8 L288.8,309.5 L290.2,309.2 L291.5,308.7 L292.8,308.1 L294.2,307.5 L295.5,306.7 L296.8,305.4 L298.1,303.8 L299.5,301.8 L300.8,299.6 L302.1,297.1 L303.4,294.3 L304.8,290.7 L306.1,286.1 L307.4,281.0 L308.7,275.6 L310.1,270.1 L311.4,263.7 L312.7,256.6 L314.0,250.0 L315.4,245.1 L316.7,240.6 L318.0,236.8 L319.3,234.4 L320.7,234.2 L322.0,235.0 L323.3,236.4 L324.6,238.1 L326.0,239.9 L327.3,242.4 L328.6,245.6 L329.9,249.3 L331.3,253.2 L332.6,257.0 L333.9,260.4 L335.2,263.5 L336.6,266.6 L337.9,269.7 L339.2,272.7 L340.5,275.3 L341.9,277.4 L343.2,278.9 L344.5,280.3 L345.8,281.5 L347.2,282.7 L348.5,283.8 L349.8,284.7 L351.2,285.4 L352.5,285.9 L353.8,286.1 L355.1,286.1 L356.5,286.0 L357.8,285.9 L359.1,285.8 L360.4,285.6 L361.8,285.4 L363.1,285.2 L364.4,284.9 L365.7,284.6 L367.1,284.2 L368.4,283.6 L369.7,282.9 L371.0,282.0 L372.4,281.1 L373.7,280.1 L375.0,279.0 L376.3,278.0 L377.7,276.9 L379.0,275.8 L380.3,274.7 L381.6,273.4 L383.0,272.1 L384.3,270.8 L385.6,269.4 L386.9,268.0 L388.3,266.5 L389.6,264.9 L390.9,263.4 L392.2,261.8 L393.6,260.1 L394.9,258.4 L396.2,256.6 L397.5,254.7 L398.9,252.8 L400.2,250.8 L401.5,248.8 L402.8,246.7 L404.2,244.6 L405.5,242.4" fill="none" stroke="#111" stroke-width="0.85" stroke-linejoin="round" />
<path d="M234.5,281.8 L235.8,289.0 L237.2,292.1 L238.5,294.3 L239.8,296.0 L241.1,297.4 L242.5,298.7 L243.8,299.9 L245.1,301.0 L246.4,301.9 L247.8,302.7 L249.1,303.3 L250.4,303.9 L251.7,304.3 L253.1,304.8 L254.4,305.1 L255.7,305.5 L257.0,305.8 L258.4,306.1 L259.7,306.4 L261.0,306.8 L262.3,307.1 L263.7,307.5 L265.0,307.9 L266.3,308.4 L267.6,308.9 L269.0,309.3 L270.3,309.7 L271.6,310.1 L272.9,310.4 L274.3,310.7 L275.6,310.9 L276.9,311.0 L278.2,311.2 L279.6,311.4 L280.9,311.5 L282.2,311.6 L283.5,311.7 L284.9,311.7 L286.2,311.7 L287.5,311.6 L288.8,311.4 L290.2,311.1 L291.5,310.7 L292.8,310.2 L294.2,309.6 L295.5,308.9 L296.8,307.8 L298.1,306.4 L299.5,304.7 L300.8,302.8 L302.1,300.6 L303.4,298.3 L304.8,295.2 L306.1,291.4 L307.4,287.1 L308.7,282.5 L310.1,277.9 L311.4,272.7 L312.7,266.9 L314.0,261.8 L315.4,257.9 L316.7,254.4 L318.0,251.4 L319.3,249.5 L320.7,249.4 L322.0,249.9 L323.3,250.9 L324.6,252.0 L326.0,253.2 L327.3,254.9 L328.6,257.1 L329.9,259.8 L331.3,262.7 L332.6,265.5 L333.9,268.1 L335.2,270.5 L336.6,272.9 L337.9,275.4 L339.2,277.7 L340.5,279.8 L341.9,281.6 L343.2,282.8 L344.5,284.0 L345.8,285.2 L347.2,286.3 L348.5,287.3 L349.8,288.2 L351.2,288.8 L352.5,289.3 L353.8,289.5 L355.1,289.5 L356.5,289.5 L357.8,289.4 L359.1,289.3 L360.4,289.2 L361.8,289.0 L363.1,288.8 L364.4,288.6 L365.7,288.3 L367.1,288.0 L368.4,287.4 L369.7,286.8 L371.0,286.0 L372.4,285.1 L373.7,284.2 L375.0,283.3 L376.3,282.4 L377.7,281.5 L379.0,280.5 L380.3,279.5 L381.6,278.4 L383.0,277.3 L384.3,276.2 L385.6,275.0 L386.9,273.7 L388.3,272.5 L389.6,271.2 L390.9,269.8 L392.2,268.5 L393.6,267.1 L394.9,265.6 L396.2,264.0 L397.5,262.3 L398.9,260.6 L400.2,258.8 L401.5,257.0 L402.8,255.2 L404.2,253.3 L405.5,251.4" fill="none" stroke="#111" stroke-width="0.85" stroke-linejoin="round" />
<path d="M234.5,284.5 L235.8,291.8 L237.2,294.9 L238.5,297.1 L239.8,298.7 L241.1,300.1 L242.5,301.3 L243.8,302.4 L245.1,303.4 L246.4,304.3 L247.8,305.0 L249.1,305.6 L250.4,306.1 L251.7,306.6 L253.1,307.0 L254.4,307.3 L255.7,307.7 L257.0,308.0 L258.4,308.3 L259.7,308.6 L261.0,308.9 L262.3,309.2 L263.7,309.6 L265.0,310.0 L266.3,310.4 L267.6,310.8 L269.0,311.3 L270.3,311.7 L271.6,312.0 L272.9,312.3 L274.3,312.5 L275.6,312.7 L276.9,312.9 L278.2,313.0 L279.6,313.2 L280.9,313.3 L282.2,313.4 L283.5,313.5 L284.9,313.5 L286.2,313.6 L287.5,313.5 L288.8,313.3 L290.2,313.0 L291.5,312.6 L292.8,312.2 L294.2,311.7 L295.5,311.1 L296.8,310.1 L298.1,308.9 L299.5,307.4 L300.8,305.7 L302.1,303.8 L303.4,301.7 L304.8,299.0 L306.1,295.8 L307.4,292.1 L308.7,288.1 L310.1,284.1 L311.4,279.6 L312.7,274.9 L314.0,270.7 L315.4,267.5 L316.7,264.7 L318.0,262.2 L319.3,260.7 L320.7,260.5 L322.0,260.9 L323.3,261.6 L324.6,262.4 L326.0,263.3 L327.3,264.4 L328.6,266.1 L329.9,268.1 L331.3,270.3 L332.6,272.5 L333.9,274.6 L335.2,276.4 L336.6,278.4 L337.9,280.3 L339.2,282.3 L340.5,284.0 L341.9,285.5 L343.2,286.5 L344.5,287.6 L345.8,288.7 L347.2,289.7 L348.5,290.6 L349.8,291.3 L351.2,291.9 L352.5,292.3 L353.8,292.5 L355.1,292.6 L356.5,292.5 L357.8,292.5 L359.1,292.4 L360.4,292.2 L361.8,292.1 L363.1,291.9 L364.4,291.7 L365.7,291.4 L367.1,291.0 L368.4,290.5 L369.7,289.9 L371.0,289.2 L372.4,288.4 L373.7,287.6 L375.0,286.7 L376.3,285.9 L377.7,285.0 L379.0,284.2 L380.3,283.3 L381.6,282.3 L383.0,281.3 L384.3,280.3 L385.6,279.2 L386.9,278.1 L388.3,277.0 L389.6,275.8 L390.9,274.7 L392.2,273.5 L393.6,272.2 L394.9,270.8 L396.2,269.4 L397.5,267.9 L398.9,266.3 L400.2,264.7 L401.5,263.1 L402.8,261.4 L404.2,259.7 L405.5,258.0" fill="none" stroke="#111" stroke-width="0.85" stroke-linejoin="round" />
<path d="M234.5,287.1 L235.8,294.6 L237.2,297.7 L238.5,299.9 L239.8,301.5 L241.1,302.8 L242.5,303.9 L243.8,305.0 L245.1,305.9 L246.4,306.7 L247.8,307.3 L249.1,307.9 L250.4,308.4 L251.7,308.8 L253.1,309.2 L254.4,309.5 L255.7,309.8 L257.0,310.1 L258.4,310.4 L259.7,310.7 L261.0,311.0 L262.3,311.3 L263.7,311.7 L265.0,312.0 L266.3,312.4 L267.6,312.8 L269.0,313.2 L270.3,313.6 L271.6,313.9 L272.9,314.2 L274.3,314.4 L275.6,314.6 L276.9,314.7 L278.2,314.9 L279.6,315.0 L280.9,315.1 L282.2,315.2 L283.5,315.3 L284.9,315.3 L286.2,315.4 L287.5,315.3 L288.8,315.1 L290.2,314.9 L291.5,314.6 L292.8,314.2 L294.2,313.7 L295.5,313.1 L296.8,312.3 L298.1,311.2 L299.5,309.8 L300.8,308.3 L302.1,306.6 L303.4,304.7 L304.8,302.3 L306.1,299.4 L307.4,296.1 L308.7,292.5 L310.1,288.9 L311.4,285.0 L312.7,280.8 L314.0,277.2 L315.4,274.5 L316.7,272.0 L318.0,269.9 L319.3,268.6 L320.7,268.5 L322.0,268.8 L323.3,269.4 L324.6,270.0 L326.0,270.7 L327.3,271.6 L328.6,272.9 L329.9,274.6 L331.3,276.4 L332.6,278.2 L333.9,279.9 L335.2,281.5 L336.6,283.1 L337.9,284.8 L339.2,286.4 L340.5,287.9 L341.9,289.1 L343.2,290.0 L344.5,290.9 L345.8,291.9 L347.2,292.8 L348.5,293.6 L349.8,294.2 L351.2,294.7 L352.5,295.1 L353.8,295.2 L355.1,295.2 L356.5,295.2 L357.8,295.1 L359.1,295.0 L360.4,294.8 L361.8,294.6 L363.1,294.4 L364.4,294.2 L365.7,293.9 L367.1,293.6 L368.4,293.1 L369.7,292.4 L371.0,291.7 L372.4,291.0 L373.7,290.2 L375.0,289.4 L376.3,288.6 L377.7,287.8 L379.0,287.0 L380.3,286.1 L381.6,285.2 L383.0,284.3 L384.3,283.3 L385.6,282.3 L386.9,281.3 L388.3,280.3 L389.6,279.2 L390.9,278.1 L392.2,277.0 L393.6,275.9 L394.9,274.6 L396.2,273.2 L397.5,271.8 L398.9,270.4 L400.2,268.9 L401.5,267.4 L402.8,265.9 L404.2,264.3 L405.5,262.7" fill="none" stroke="#111" stroke-width="0.85" stroke-linejoin="round" />
<path d="M234.5,289.7 L235.8,297.4 L237.2,300.5 L238.5,302.7 L239.8,304.2 L241.1,305.4 L242.5,306.5 L243.8,307.5 L245.1,308.3 L246.4,309.0 L247.8,309.7 L249.1,310.2 L250.4,310.6 L251.7,311.0 L253.1,311.4 L254.4,311.7 L255.7,312.0 L257.0,312.3 L258.4,312.6 L259.7,312.8 L261.0,313.1 L262.3,313.4 L263.7,313.7 L265.0,314.1 L266.3,314.4 L267.6,314.8 L269.0,315.2 L270.3,315.5 L271.6,315.8 L272.9,316.1 L274.3,316.3 L275.6,316.4 L276.9,316.6 L278.2,316.7 L279.6,316.8 L280.9,316.9 L282.2,317.0 L283.5,317.1 L284.9,317.1 L286.2,317.2 L287.5,317.1 L288.8,317.0 L290.2,316.8 L291.5,316.5 L292.8,316.1 L294.2,315.7 L295.5,315.2 L296.8,314.4 L298.1,313.4 L299.5,312.2 L300.8,310.8 L302.1,309.2 L303.4,307.5 L304.8,305.4 L306.1,302.8 L307.4,299.8 L308.7,296.6 L310.1,293.3 L311.4,289.7 L312.7,286.1 L314.0,283.0 L315.4,280.6 L316.7,278.4 L318.0,276.6 L319.3,275.4 L320.7,275.3 L322.0,275.6 L323.3,276.1 L324.6,276.6 L326.0,277.2 L327.3,278.0 L328.6,279.1 L329.9,280.4 L331.3,281.9 L332.6,283.5 L333.9,285.0 L335.2,286.3 L336.6,287.7 L337.9,289.0 L339.2,290.4 L340.5,291.6 L341.9,292.7 L343.2,293.4 L344.5,294.2 L345.8,295.1 L347.2,295.8 L348.5,296.5 L349.8,297.0 L351.2,297.5 L352.5,297.7 L353.8,297.8 L355.1,297.8 L356.5,297.7 L357.8,297.6 L359.1,297.4 L360.4,297.3 L361.8,297.1 L363.1,296.8 L364.4,296.6 L365.7,296.3 L367.1,295.9 L368.4,295.4 L369.7,294.8 L371.0,294.1 L372.4,293.4 L373.7,292.6 L375.0,291.8 L376.3,291.0 L377.7,290.3 L379.0,289.5 L380.3,288.7 L381.6,287.8 L383.0,287.0 L384.3,286.1 L385.6,285.1 L386.9,284.2 L388.3,283.2 L389.6,282.2 L390.9,281.2 L392.2,280.1 L393.6,279.0 L394.9,277.8 L396.2,276.6 L397.5,275.3 L398.9,273.9 L400.2,272.6 L401.5,271.1 L402.8,269.7 L404.2,268.2 L405.5,266.7" fill="none" stroke="#111" stroke-width="0.85" stroke-linejoin="round" />
<path d="M234.5,292.3 L235.8,300.2 L237.2,303.4 L238.5,305.5 L239.8,307.0 L241.1,308.1 L242.5,309.1 L243.8,310.0 L245.1,310.7 L246.4,311.4 L247.8,312.0 L249.1,312.4 L250.4,312.9 L251.7,313.2 L253.1,313.6 L254.4,313.9 L255.7,314.2 L257.0,314.5 L258.4,314.7 L259.7,315.0 L261.0,315.2 L262.3,315.5 L263.7,315.8 L265.0,316.1 L266.3,316.5 L267.6,316.8 L269.0,317.1 L270.3,317.4 L271.6,317.7 L272.9,317.9 L274.3,318.1 L275.6,318.3 L276.9,318.4 L278.2,318.5 L279.6,318.6 L280.9,318.7 L282.2,318.8 L283.5,318.9 L284.9,318.9 L286.2,319.0 L287.5,318.9 L288.8,318.8 L290.2,318.6 L291.5,318.4 L292.8,318.0 L294.2,317.7 L295.5,317.2 L296.8,316.5 L298.1,315.7 L299.5,314.6 L300.8,313.3 L302.1,311.9 L303.4,310.3 L304.8,308.3 L306.1,306.1 L307.4,303.4 L308.7,300.4 L310.1,297.3 L311.4,294.1 L312.7,291.0 L314.0,288.3 L315.4,286.1 L316.7,284.2 L318.0,282.5 L319.3,281.5 L320.7,281.4 L322.0,281.7 L323.3,282.1 L324.6,282.6 L326.0,283.1 L327.3,283.8 L328.6,284.7 L329.9,285.9 L331.3,287.1 L332.6,288.5 L333.9,289.7 L335.2,290.9 L336.6,292.0 L337.9,293.2 L339.2,294.3 L340.5,295.3 L341.9,296.2 L343.2,296.8 L344.5,297.5 L345.8,298.2 L347.2,298.8 L348.5,299.4 L349.8,299.8 L351.2,300.1 L352.5,300.3 L353.8,300.3 L355.1,300.3 L356.5,300.1 L357.8,300.0 L359.1,299.8 L360.4,299.6 L361.8,299.4 L363.1,299.2 L364.4,298.9 L365.7,298.5 L367.1,298.1 L368.4,297.6 L369.7,297.0 L371.0,296.3 L372.4,295.6 L373.7,294.8 L375.0,294.1 L376.3,293.3 L377.7,292.6 L379.0,291.8 L380.3,291.1 L381.6,290.2 L383.0,289.4 L384.3,288.5 L385.6,287.6 L386.9,286.7 L388.3,285.8 L389.6,284.9 L390.9,283.9 L392.2,282.9 L393.6,281.9 L394.9,280.7 L396.2,279.6 L397.5,278.3 L398.9,277.1 L400.2,275.8 L401.5,274.5 L402.8,273.1 L404.2,271.8 L405.5,270.4" fill="none" stroke="#111" stroke-width="0.85" stroke-linejoin="round" />
<path d="M234.5,294.9 L235.8,303.0 L237.2,306.2 L238.5,308.3 L239.8,309.7 L241.1,310.8 L242.5,311.7 L243.8,312.5 L245.1,313.2 L246.4,313.8 L247.8,314.3 L249.1,314.7 L250.4,315.1 L251.7,315.5 L253.1,315.8 L254.4,316.1 L255.7,316.4 L257.0,316.6 L258.4,316.9 L259.7,317.1 L261.0,317.4 L262.3,317.6 L263.7,317.9 L265.0,318.2 L266.3,318.5 L267.6,318.8 L269.0,319.1 L270.3,319.3 L271.6,319.6 L272.9,319.8 L274.3,320.0 L275.6,320.1 L276.9,320.3 L278.2,320.4 L279.6,320.5 L280.9,320.5 L282.2,320.6 L283.5,320.7 L284.9,320.7 L286.2,320.8 L287.5,320.7 L288.8,320.7 L290.2,320.5 L291.5,320.3 L292.8,320.0 L294.2,319.6 L295.5,319.2 L296.8,318.6 L298.1,317.8 L299.5,316.9 L300.8,315.7 L302.1,314.4 L303.4,312.9 L304.8,311.2 L306.1,309.2 L307.4,306.7 L308.7,303.9 L310.1,301.1 L311.4,298.2 L312.7,295.4 L314.0,293.0 L315.4,291.1 L316.7,289.3 L318.0,287.8 L319.3,286.9 L320.7,286.9 L322.0,287.1 L323.3,287.5 L324.6,288.0 L326.0,288.5 L327.3,289.1 L328.6,289.9 L329.9,290.9 L331.3,292.0 L332.6,293.2 L333.9,294.3 L335.2,295.3 L336.6,296.3 L337.9,297.2 L339.2,298.1 L340.5,298.9 L341.9,299.6 L343.2,300.2 L344.5,300.7 L345.8,301.3 L347.2,301.8 L348.5,302.2 L349.8,302.5 L351.2,302.7 L352.5,302.8 L353.8,302.8 L355.1,302.7 L356.5,302.5 L357.8,302.3 L359.1,302.1 L360.4,301.9 L361.8,301.6 L363.1,301.3 L364.4,301.0 L365.7,300.7 L367.1,300.2 L368.4,299.7 L369.7,299.0 L371.0,298.4 L372.4,297.7 L373.7,296.9 L375.0,296.2 L376.3,295.4 L377.7,294.7 L379.0,294.0 L380.3,293.2 L381.6,292.4 L383.0,291.6 L384.3,290.8 L385.6,289.9 L386.9,289.1 L388.3,288.2 L389.6,287.2 L390.9,286.3 L392.2,285.3 L393.6,284.4 L394.9,283.3 L396.2,282.2 L397.5,281.0 L398.9,279.9 L400.2,278.6 L401.5,277.4 L402.8,276.1 L404.2,274.9 L405.5,273.6" fill="none" stroke="#111" stroke-width="0.85" stroke-linejoin="round" />
<path d="M234.5,297.5 L235.8,305.8 L237.2,309.0 L238.5,311.1 L239.8,312.5 L241.1,313.4 L242.5,314.3 L243.8,315.0 L245.1,315.6 L246.4,316.1 L247.8,316.6 L249.1,317.0 L250.4,317.4 L251.7,317.7 L253.1,318.0 L254.4,318.3 L255.7,318.5 L257.0,318.8 L258.4,319.0 L259.7,319.2 L261.0,319.5 L262.3,319.7 L263.7,320.0 L265.0,320.2 L266.3,320.5 L267.6,320.8 L269.0,321.0 L270.3,321.3 L271.6,321.5 L272.9,321.7 L274.3,321.9 L275.6,322.0 L276.9,322.1 L278.2,322.2 L279.6,322.3 L280.9,322.4 L282.2,322.4 L283.5,322.5 L284.9,322.5 L286.2,322.6 L287.5,322.5 L288.8,322.5 L290.2,322.4 L291.5,322.2 L292.8,321.9 L294.2,321.6 L295.5,321.2 L296.8,320.7 L298.1,320.0 L299.5,319.2 L300.8,318.1 L302.1,316.9 L303.4,315.6 L304.8,314.0 L306.1,312.3 L307.4,310.1 L308.7,307.5 L310.1,304.9 L311.4,302.2 L312.7,299.8 L314.0,297.7 L315.4,296.0 L316.7,294.4 L318.0,293.1 L319.3,292.3 L320.7,292.3 L322.0,292.5 L323.3,292.9 L324.6,293.3 L326.0,293.8 L327.3,294.4 L328.6,295.1 L329.9,295.9 L331.3,296.9 L332.6,297.9 L333.9,298.8 L335.2,299.7 L336.6,300.5 L337.9,301.2 L339.2,301.9 L340.5,302.5 L341.9,303.1 L343.2,303.5 L344.5,303.9 L345.8,304.3 L347.2,304.7 L348.5,305.0 L349.8,305.2 L351.2,305.3 L352.5,305.3 L353.8,305.2 L355.1,305.1 L356.5,304.9 L357.8,304.6 L359.1,304.4 L360.4,304.1 L361.8,303.8 L363.1,303.5 L364.4,303.2 L365.7,302.8 L367.1,302.3 L368.4,301.7 L369.7,301.1 L371.0,300.4 L372.4,299.7 L373.7,299.0 L375.0,298.3 L376.3,297.6 L377.7,296.9 L379.0,296.1 L380.3,295.4 L381.6,294.6 L383.0,293.8 L384.3,293.0 L385.6,292.2 L386.9,291.4 L388.3,290.5 L389.6,289.6 L390.9,288.7 L392.2,287.8 L393.6,286.9 L394.9,285.9 L396.2,284.8 L397.5,283.7 L398.9,282.6 L400.2,281.5 L401.5,280.3 L402.8,279.2 L404.2,278.0 L405.5,276.7" fill="none" stroke="#111" stroke-width="0.85" stroke-linejoin="round" />
<path d="M234.5,300.1 L235.8,308.6 L237.2,311.8 L238.5,313.9 L239.8,315.2 L241.1,316.1 L242.5,316.9 L243.8,317.5 L245.1,318.1 L246.4,318.5 L247.8,318.9 L249.1,319.3 L250.4,319.6 L251.7,319.9 L253.1,320.2 L254.4,320.5 L255.7,320.7 L257.0,320.9 L258.4,321.2 L259.7,321.4 L261.0,321.6 L262.3,321.8 L263.7,322.0 L265.0,322.3 L266.3,322.5 L267.6,322.7 L269.0,323.0 L270.3,323.2 L271.6,323.4 L272.9,323.6 L274.3,323.7 L275.6,323.8 L276.9,323.9 L278.2,324.0 L279.6,324.1 L280.9,324.2 L282.2,324.2 L283.5,324.3 L284.9,324.3 L286.2,324.4 L287.5,324.4 L288.8,324.3 L290.2,324.2 L291.5,324.1 L292.8,323.8 L294.2,323.5 L295.5,323.2 L296.8,322.8 L298.1,322.3 L299.5,321.6 L300.8,320.7 L302.1,319.6 L303.4,318.5 L304.8,317.1 L306.1,315.7 L307.4,313.8 L308.7,311.6 L310.1,309.2 L311.4,307.0 L312.7,305.0 L314.0,303.5 L315.4,302.1 L316.7,300.8 L318.0,299.8 L319.3,299.2 L320.7,299.1 L322.0,299.3 L323.3,299.6 L324.6,299.9 L326.0,300.3 L327.3,300.8 L328.6,301.3 L329.9,301.8 L331.3,302.5 L332.6,303.2 L333.9,303.9 L335.2,304.5 L336.6,305.0 L337.9,305.5 L339.2,305.9 L340.5,306.3 L341.9,306.7 L343.2,306.9 L344.5,307.2 L345.8,307.5 L347.2,307.7 L348.5,307.9 L349.8,308.0 L351.2,308.0 L352.5,307.9 L353.8,307.8 L355.1,307.6 L356.5,307.4 L357.8,307.1 L359.1,306.9 L360.4,306.6 L361.8,306.3 L363.1,305.9 L364.4,305.6 L365.7,305.1 L367.1,304.6 L368.4,304.1 L369.7,303.5 L371.0,302.8 L372.4,302.1 L373.7,301.4 L375.0,300.7 L376.3,300.0 L377.7,299.3 L379.0,298.7 L380.3,298.0 L381.6,297.2 L383.0,296.5 L384.3,295.8 L385.6,295.0 L386.9,294.2 L388.3,293.4 L389.6,292.6 L390.9,291.8 L392.2,290.9 L393.6,290.0 L394.9,289.1 L396.2,288.1 L397.5,287.2 L398.9,286.2 L400.2,285.1 L401.5,284.1 L402.8,283.0 L404.2,281.9 L405.5,280.8" fill="none" stroke="#111" stroke-width="0.85" stroke-linejoin="round" />
<path d="M234.5,302.7 L235.8,311.4 L237.2,314.6 L238.5,316.6 L239.8,317.9 L241.1,318.8 L242.5,319.5 L243.8,320.0 L245.1,320.5 L246.4,320.9 L247.8,321.2 L249.1,321.6 L250.4,321.9 L251.7,322.2 L253.1,322.4 L254.4,322.7 L255.7,322.9 L257.0,323.1 L258.4,323.3 L259.7,323.5 L261.0,323.7 L262.3,323.9 L263.7,324.1 L265.0,324.3 L266.3,324.5 L267.6,324.7 L269.0,324.9 L270.3,325.1 L271.6,325.3 L272.9,325.4 L274.3,325.6 L275.6,325.7 L276.9,325.8 L278.2,325.9 L279.6,325.9 L280.9,326.0 L282.2,326.0 L283.5,326.1 L284.9,326.1 L286.2,326.1 L287.5,326.2 L288.8,326.2 L290.2,326.1 L291.5,326.0 L292.8,325.8 L294.2,325.5 L295.5,325.2 L296.8,324.8 L298.1,324.4 L299.5,323.8 L300.8,323.0 L302.1,322.1 L303.4,321.0 L304.8,319.9 L306.1,318.6 L307.4,316.9 L308.7,314.9 L310.1,312.7 L311.4,310.6 L312.7,309.0 L314.0,307.7 L315.4,306.4 L316.7,305.3 L318.0,304.4 L319.3,303.9 L320.7,303.8 L322.0,304.0 L323.3,304.3 L324.6,304.7 L326.0,305.1 L327.3,305.5 L328.6,306.0 L329.9,306.4 L331.3,307.0 L332.6,307.6 L333.9,308.2 L335.2,308.7 L336.6,309.1 L337.9,309.4 L339.2,309.6 L340.5,309.8 L341.9,310.1 L343.2,310.3 L344.5,310.4 L345.8,310.5 L347.2,310.6 L348.5,310.6 L349.8,310.6 L351.2,310.5 L352.5,310.4 L353.8,310.2 L355.1,309.9 L356.5,309.7 L357.8,309.4 L359.1,309.0 L360.4,308.7 L361.8,308.4 L363.1,308.0 L364.4,307.6 L365.7,307.2 L367.1,306.6 L368.4,306.0 L369.7,305.4 L371.0,304.7 L372.4,304.0 L373.7,303.3 L375.0,302.6 L376.3,302.0 L377.7,301.3 L379.0,300.6 L380.3,299.9 L381.6,299.2 L383.0,298.5 L384.3,297.8 L385.6,297.0 L386.9,296.3 L388.3,295.5 L389.6,294.7 L390.9,293.9 L392.2,293.1 L393.6,292.2 L394.9,291.3 L396.2,290.4 L397.5,289.5 L398.9,288.6 L400.2,287.6 L401.5,286.6 L402.8,285.6 L404.2,284.6 L405.5,283.6" fill="none" stroke="#111" stroke-width="0.85" stroke-linejoin="round" />
<path d="M234.5,315.3 L235.8,324.2 L237.2,326.0 L238.5,327.1 L239.8,327.6 L241.1,327.7 L242.5,327.8 L243.8,327.9 L245.1,327.9 L246.4,328.0 L247.8,328.1 L249.1,328.1 L250.4,328.2 L251.7,328.2 L253.1,328.2 L254.4,328.3 L255.7,328.3 L257.0,328.3 L258.4,328.3 L259.7,328.3 L261.0,328.3 L262.3,328.3 L263.7,328.3 L265.0,328.3 L266.3,328.3 L267.6,328.3 L269.0,328.3 L270.3,328.3 L271.6,328.3 L272.9,328.3 L274.3,328.3 L275.6,328.3 L276.9,328.2 L278.2,328.2 L279.6,328.2 L280.9,328.2 L282.2,328.2 L283.5,328.1 L284.9,328.1 L286.2,328.1 L287.5,328.1 L288.8,328.0 L290.2,328.0 L291.5,328.0 L292.8,327.9 L294.2,327.8 L295.5,327.7 L296.8,327.6 L298.1,327.4 L299.5,327.2 L300.8,327.0 L302.1,326.8 L303.4,326.6 L304.8,326.3 L306.1,326.1 L307.4,325.8 L308.7,325.5 L310.1,325.1 L311.4,324.7 L312.7,324.3 L314.0,323.8 L315.4,323.4 L316.7,322.9 L318.0,322.5 L319.3,322.0 L320.7,321.6 L322.0,321.2 L323.3,320.8 L324.6,320.4 L326.0,320.1 L327.3,319.7 L328.6,319.3 L329.9,318.9 L331.3,318.5 L332.6,318.1 L333.9,317.7 L335.2,317.3 L336.6,316.9 L337.9,316.5 L339.2,316.1 L340.5,315.7 L341.9,315.3 L343.2,314.9 L344.5,314.5 L345.8,314.0 L347.2,313.6 L348.5,313.2 L349.8,312.7 L351.2,312.3 L352.5,311.9 L353.8,311.4 L355.1,311.0 L356.5,310.6 L357.8,310.1 L359.1,309.7 L360.4,309.2 L361.8,308.8 L363.1,308.3 L364.4,307.8 L365.7,307.3 L367.1,306.8 L368.4,306.3 L369.7,305.8 L371.0,305.3 L372.4,304.7 L373.7,304.2 L375.0,303.6 L376.3,303.0 L377.7,302.4 L379.0,301.8 L380.3,301.1 L381.6,300.4 L383.0,299.7 L384.3,299.0 L385.6,298.2 L386.9,297.4 L388.3,296.6 L389.6,295.8 L390.9,295.0 L392.2,294.1 L393.6,293.2 L394.9,292.3 L396.2,291.4 L397.5,290.5 L398.9,289.6 L400.2,288.6 L401.5,287.6 L402.8,286.7 L404.2,285.7 L405.5,284.7" fill="none" stroke="#111" stroke-width="0.9" stroke-linejoin="round" />
<path d="M234.5,326.2 L235.8,327.6 L237.2,329.2 L238.5,330.4 L239.8,331.2 L241.1,331.3 L242.5,331.3 L243.8,331.4 L245.1,331.4 L246.4,331.5 L247.8,331.5 L249.1,331.6 L250.4,331.6 L251.7,331.7 L253.1,331.7 L254.4,331.7 L255.7,331.8 L257.0,331.8 L258.4,331.8 L259.7,331.8 L261.0,331.9 L262.3,331.9 L263.7,331.9 L265.0,331.9 L266.3,331.9 L267.6,331.9 L269.0,331.9 L270.3,331.9 L271.6,331.9 L272.9,331.9 L274.3,331.9 L275.6,331.9 L276.9,331.9 L278.2,331.9 L279.6,331.9 L280.9,331.9 L282.2,331.9 L283.5,331.9 L284.9,331.9 L286.2,331.8 L287.5,331.8 L288.8,331.7 L290.2,331.7 L291.5,331.6 L292.8,331.6 L294.2,331.5 L295.5,331.5 L296.8,331.4 L298.1,331.3 L299.5,331.2 L300.8,331.2 L302.1,331.1 L303.4,331.0 L304.8,330.9 L306.1,330.8 L307.4,330.7 L308.7,330.6 L310.1,330.4 L311.4,330.2 L312.7,330.0 L314.0,329.7 L315.4,329.5 L316.7,329.2 L318.0,328.9 L319.3,328.5 L320.7,328.2 L322.0,327.8 L323.3,327.5 L324.6,327.1 L326.0,326.7 L327.3,326.3 L328.6,326.0 L329.9,325.6 L331.3,325.2 L332.6,324.8 L333.9,324.5 L335.2,324.1 L336.6,323.7 L337.9,323.3 L339.2,322.9 L340.5,322.6 L341.9,322.1 L343.2,321.7 L344.5,321.3 L345.8,320.9 L347.2,320.4 L348.5,320.0 L349.8,319.5 L351.2,319.1 L352.5,318.6 L353.8,318.1 L355.1,317.6 L356.5,317.1 L357.8,316.6 L359.1,316.1 L360.4,315.6 L361.8,315.0 L363.1,314.5 L364.4,313.9 L365.7,313.4 L367.1,312.8 L368.4,312.3 L369.7,311.7 L371.0,311.1 L372.4,310.5 L373.7,309.9 L375.0,309.2 L376.3,308.5 L377.7,307.7 L379.0,307.0 L380.3,306.1 L381.6,305.3 L383.0,304.3 L384.3,303.3 L385.6,302.2 L386.9,300.9 L388.3,299.6 L389.6,298.2 L390.9,296.7 L392.2,295.1 L393.6,293.5 L394.9,291.7 L396.2,289.9 L397.5,288.1 L398.9,286.1 L400.2,284.1 L401.5,282.1 L402.8,280.0 L404.2,277.8 L405.5,275.6" fill="none" stroke="#333" stroke-width="0.8" stroke-linejoin="round" stroke-dasharray="3.5,2"/>
<path d="M234.5,334.5 L235.8,334.5 L237.2,334.5 L238.5,334.5 L239.8,334.5 L241.1,334.4 L242.5,334.4 L243.8,334.4 L245.1,334.4 L246.4,334.4 L247.8,334.4 L249.1,334.4 L250.4,334.3 L251.7,334.3 L253.1,334.3 L254.4,334.3 L255.7,334.2 L257.0,334.2 L258.4,334.2 L259.7,334.2 L261.0,334.1 L262.3,334.1 L263.7,334.1 L265.0,334.1 L266.3,334.0 L267.6,334.0 L269.0,334.0 L270.3,333.9 L271.6,333.9 L272.9,333.9 L274.3,333.8 L275.6,333.8 L276.9,333.7 L278.2,333.7 L279.6,333.6 L280.9,333.6 L282.2,333.5 L283.5,333.5 L284.9,333.4 L286.2,333.3 L287.5,333.3 L288.8,333.2 L290.2,333.1 L291.5,333.0 L292.8,332.9 L294.2,332.8 L295.5,332.6 L296.8,332.5 L298.1,332.3 L299.5,332.1 L300.8,331.8 L302.1,331.6 L303.4,331.3 L304.8,331.1 L306.1,330.8 L307.4,330.5 L308.7,330.1 L310.1,329.8 L311.4,329.4 L312.7,328.9 L314.0,328.5 L315.4,328.0 L316.7,327.5 L318.0,327.0 L319.3,326.4 L320.7,325.9 L322.0,325.3 L323.3,324.7 L324.6,324.0 L326.0,323.3 L327.3,322.6 L328.6,321.9 L329.9,321.2 L331.3,320.5 L332.6,319.8 L333.9,319.1 L335.2,318.5 L336.6,317.8 L337.9,317.1 L339.2,316.4 L340.5,315.7 L341.9,315.1 L343.2,314.4 L344.5,313.8 L345.8,313.3 L347.2,312.8 L348.5,312.5 L349.8,312.1 L351.2,311.8 L352.5,311.6 L353.8,311.3 L355.1,311.1 L356.5,310.9 L357.8,310.7 L359.1,310.5 L360.4,310.3 L361.8,310.1 L363.1,309.9 L364.4,309.6 L365.7,309.4 L367.1,309.2 L368.4,309.0 L369.7,308.8 L371.0,308.6 L372.4,308.3 L373.7,308.1 L375.0,307.8 L376.3,307.5 L377.7,307.2 L379.0,306.9 L380.3,306.5 L381.6,306.1 L383.0,305.7 L384.3,305.3 L385.6,304.8 L386.9,304.4 L388.3,303.9 L389.6,303.4 L390.9,302.8 L392.2,302.3 L393.6,301.7 L394.9,301.1 L396.2,300.5 L397.5,299.9 L398.9,299.2 L400.2,298.5 L401.5,297.8 L402.8,297.0 L404.2,296.3 L405.5,295.5" fill="none" stroke="#3a5bbf" stroke-width="1.5" stroke-linejoin="round" />
<path d="M234.5,334.8 L235.8,334.8 L237.2,334.8 L238.5,334.8 L239.8,334.8 L241.1,334.8 L242.5,334.8 L243.8,334.8 L245.1,334.7 L246.4,334.7 L247.8,334.7 L249.1,334.7 L250.4,334.7 L251.7,334.7 L253.1,334.6 L254.4,334.6 L255.7,334.6 L257.0,334.6 L258.4,334.5 L259.7,334.5 L261.0,334.5 L262.3,334.5 L263.7,334.5 L265.0,334.4 L266.3,334.4 L267.6,334.4 L269.0,334.4 L270.3,334.3 L271.6,334.3 L272.9,334.3 L274.3,334.3 L275.6,334.2 L276.9,334.2 L278.2,334.2 L279.6,334.2 L280.9,334.1 L282.2,334.1 L283.5,334.0 L284.9,334.0 L286.2,334.0 L287.5,333.9 L288.8,333.9 L290.2,333.8 L291.5,333.8 L292.8,333.7 L294.2,333.6 L295.5,333.5 L296.8,333.4 L298.1,333.3 L299.5,333.1 L300.8,333.0 L302.1,332.8 L303.4,332.6 L304.8,332.4 L306.1,332.3 L307.4,332.1 L308.7,331.8 L310.1,331.6 L311.4,331.3 L312.7,331.0 L314.0,330.7 L315.4,330.3 L316.7,330.0 L318.0,329.6 L319.3,329.3 L320.7,328.9 L322.0,328.4 L323.3,327.9 L324.6,327.4 L326.0,326.9 L327.3,326.3 L328.6,325.7 L329.9,325.2 L331.3,324.6 L332.6,324.0 L333.9,323.4 L335.2,322.9 L336.6,322.3 L337.9,321.7 L339.2,321.1 L340.5,320.5 L341.9,319.9 L343.2,319.3 L344.5,318.7 L345.8,318.2 L347.2,317.7 L348.5,317.1 L349.8,316.7 L351.2,316.2 L352.5,315.8 L353.8,315.4 L355.1,315.0 L356.5,314.5 L357.8,314.1 L359.1,313.7 L360.4,313.3 L361.8,312.8 L363.1,312.3 L364.4,311.8 L365.7,311.3 L367.1,310.9 L368.4,310.3 L369.7,309.8 L371.0,309.3 L372.4,308.7 L373.7,308.1 L375.0,307.4 L376.3,306.7 L377.7,305.9 L379.0,305.1 L380.3,304.1 L381.6,303.1 L383.0,302.0 L384.3,300.9 L385.6,299.6 L386.9,298.3 L388.3,297.0 L389.6,295.5 L390.9,294.1 L392.2,292.5 L393.6,290.8 L394.9,288.9 L396.2,287.0 L397.5,284.9 L398.9,282.7 L400.2,280.4 L401.5,277.9 L402.8,275.4 L404.2,272.9 L405.5,270.2" fill="none" stroke="#3a5bbf" stroke-width="1.5" stroke-linejoin="round" />
<path d="M234.5,335.2 L235.8,335.2 L237.2,335.2 L238.5,335.1 L239.8,335.1 L241.1,335.1 L242.5,335.1 L243.8,335.1 L245.1,335.1 L246.4,335.0 L247.8,335.0 L249.1,335.0 L250.4,335.0 L251.7,335.0 L253.1,335.0 L254.4,334.9 L255.7,334.9 L257.0,334.9 L258.4,334.9 L259.7,334.9 L261.0,334.9 L262.3,334.8 L263.7,334.8 L265.0,334.8 L266.3,334.8 L267.6,334.8 L269.0,334.8 L270.3,334.8 L271.6,334.7 L272.9,334.7 L274.3,334.7 L275.6,334.7 L276.9,334.7 L278.2,334.7 L279.6,334.7 L280.9,334.7 L282.2,334.6 L283.5,334.6 L284.9,334.6 L286.2,334.6 L287.5,334.6 L288.8,334.5 L290.2,334.5 L291.5,334.5 L292.8,334.4 L294.2,334.4 L295.5,334.3 L296.8,334.2 L298.1,334.1 L299.5,334.0 L300.8,333.9 L302.1,333.8 L303.4,333.6 L304.8,333.5 L306.1,333.4 L307.4,333.2 L308.7,333.0 L310.1,332.8 L311.4,332.6 L312.7,332.4 L314.0,332.1 L315.4,331.8 L316.7,331.6 L318.0,331.3 L319.3,331.0 L320.7,330.7 L322.0,330.4 L323.3,330.1 L324.6,329.7 L326.0,329.4 L327.3,329.0 L328.6,328.6 L329.9,328.2 L331.3,327.8 L332.6,327.4 L333.9,327.0 L335.2,326.6 L336.6,326.1 L337.9,325.7 L339.2,325.2 L340.5,324.7 L341.9,324.2 L343.2,323.7 L344.5,323.3 L345.8,322.8 L347.2,322.3 L348.5,321.8 L349.8,321.4 L351.2,321.0 L352.5,320.5 L353.8,320.1 L355.1,319.7 L356.5,319.2 L357.8,318.8 L359.1,318.4 L360.4,317.9 L361.8,317.5 L363.1,317.0 L364.4,316.6 L365.7,316.1 L367.1,315.7 L368.4,315.3 L369.7,314.9 L371.0,314.4 L372.4,313.9 L373.7,313.3 L375.0,312.7 L376.3,312.1 L377.7,311.3 L379.0,310.5 L380.3,309.5 L381.6,308.4 L383.0,307.2 L384.3,305.9 L385.6,304.5 L386.9,303.0 L388.3,301.3 L389.6,299.6 L390.9,297.8 L392.2,295.8 L393.6,293.4 L394.9,290.8 L396.2,287.8 L397.5,284.6 L398.9,281.2 L400.2,277.6 L401.5,273.7 L402.8,269.7 L404.2,265.5 L405.5,261.2" fill="none" stroke="#3a5bbf" stroke-width="1.5" stroke-linejoin="round" />
<path d="M234.5,334.1 L235.8,334.1 L237.2,334.1 L238.5,334.1 L239.8,334.1 L241.1,334.1 L242.5,334.1 L243.8,334.1 L245.1,334.0 L246.4,334.0 L247.8,334.0 L249.1,334.0 L250.4,334.0 L251.7,334.0 L253.1,333.9 L254.4,333.9 L255.7,333.9 L257.0,333.9 L258.4,333.8 L259.7,333.8 L261.0,333.8 L262.3,333.8 L263.7,333.7 L265.0,333.7 L266.3,333.7 L267.6,333.7 L269.0,333.6 L270.3,333.6 L271.6,333.6 L272.9,333.5 L274.3,333.5 L275.6,333.4 L276.9,333.4 L278.2,333.4 L279.6,333.3 L280.9,333.2 L282.2,333.2 L283.5,333.1 L284.9,333.1 L286.2,333.0 L287.5,332.9 L288.8,332.8 L290.2,332.8 L291.5,332.7 L292.8,332.6 L294.2,332.4 L295.5,332.2 L296.8,332.0 L298.1,331.7 L299.5,331.4 L300.8,331.1 L302.1,330.7 L303.4,330.4 L304.8,330.0 L306.1,329.7 L307.4,329.3 L308.7,328.8 L310.1,328.3 L311.4,327.8 L312.7,327.3 L314.0,326.7 L315.4,326.1 L316.7,325.5 L318.0,324.9 L319.3,324.3 L320.7,323.7 L322.0,323.1 L323.3,322.5 L324.6,321.8 L326.0,321.2 L327.3,320.5 L328.6,319.9 L329.9,319.2 L331.3,318.6 L332.6,317.9 L333.9,317.3 L335.2,316.7 L336.6,316.0 L337.9,315.3 L339.2,314.7 L340.5,314.0 L341.9,313.3 L343.2,312.7 L344.5,312.2 L345.8,311.7 L347.2,311.3 L348.5,311.0 L349.8,310.8 L351.2,310.6 L352.5,310.4 L353.8,310.3 L355.1,310.2 L356.5,310.0 L357.8,309.9 L359.1,309.8 L360.4,309.7 L361.8,309.6 L363.1,309.5 L364.4,309.5 L365.7,309.4 L367.1,309.3 L368.4,309.2 L369.7,309.2 L371.0,309.1 L372.4,309.1 L373.7,309.0 L375.0,308.9 L376.3,308.9 L377.7,308.8 L379.0,308.7 L380.3,308.7 L381.6,308.6 L383.0,308.6 L384.3,308.5 L385.6,308.5 L386.9,308.4 L388.3,308.3 L389.6,308.2 L390.9,308.1 L392.2,308.0 L393.6,307.8 L394.9,307.6 L396.2,307.3 L397.5,307.0 L398.9,306.7 L400.2,306.3 L401.5,305.9 L402.8,305.4 L404.2,305.0 L405.5,304.5" fill="none" stroke="#3a5bbf" stroke-width="1.5" stroke-linejoin="round" />
<path d="M234.5,335.9 L237.3,335.9 L240.0,335.9 L242.8,335.9 L245.5,335.9 L248.3,335.9 L251.0,335.9 L253.8,335.9 L256.5,335.9 L259.3,335.9 L262.0,335.9 L264.8,335.9 L267.5,335.9 L270.3,335.9 L273.0,335.9 L275.8,335.9 L278.6,335.9 L281.3,335.9 L284.1,335.9 L286.8,335.9 L289.6,335.9 L292.3,335.9 L295.1,335.9 L297.8,335.8 L300.6,335.8 L303.3,335.7 L306.1,335.6 L308.8,335.4 L311.6,335.3 L314.3,335.2 L317.1,335.0 L319.9,334.8 L322.6,334.7 L325.4,334.4 L328.1,334.2 L330.9,333.9 L333.6,333.6 L336.4,333.2 L339.1,332.9 L341.9,332.5 L344.6,332.1 L347.4,331.7 L350.1,331.3 L352.9,330.9 L355.6,330.5 L358.4,330.0 L361.2,329.4 L363.9,328.8 L366.7,328.1 L369.4,327.2 L372.2,326.3 L374.9,325.2 L377.7,324.1 L380.4,322.5 L383.2,320.7 L385.9,318.7 L388.7,316.6 L391.4,314.5 L394.2,312.3 L397.0,309.9" fill="none" stroke="#6a86dd" stroke-width="0.8" stroke-linejoin="round" stroke-dasharray="4,2.5"/>
<rect x="248.5" y="214.5" width="59.0" height="53.0" fill="#fff" stroke="#2a2a2a" stroke-width="1"/>
<text x="246.3" y="269.2" font-family="'Liberation Serif', serif" font-size="6" text-anchor="end" font-weight="normal" font-style="normal" fill="#333" >0</text>
<text x="246.3" y="242.7" font-family="'Liberation Serif', serif" font-size="6" text-anchor="end" font-weight="normal" font-style="normal" fill="#333" >1</text>
<text x="246.3" y="216.7" font-family="'Liberation Serif', serif" font-size="6" text-anchor="end" font-weight="normal" font-style="normal" fill="#333" >2</text>
<text x="248" y="274" font-family="'Liberation Serif', serif" font-size="6" text-anchor="middle" font-weight="normal" font-style="normal" fill="#333" >0</text>
<text x="269.7" y="274" font-family="'Liberation Serif', serif" font-size="6" text-anchor="middle" font-weight="normal" font-style="normal" fill="#333" >40</text>
<text x="291.2" y="274" font-family="'Liberation Serif', serif" font-size="6" text-anchor="middle" font-weight="normal" font-style="normal" fill="#333" >80</text>
<text x="278" y="281" font-family="'Liberation Serif', serif" font-size="5.5" text-anchor="middle" font-weight="normal" font-style="normal" fill="#333" >[T] (μM)</text>
<text x="0" y="0" font-family="'Liberation Serif', serif" font-size="5.5" text-anchor="middle" font-weight="normal" font-style="normal" fill="#333" transform="translate(240.5,241) rotate(-90)">I (μA)</text>
<path d="M252.5,264.3 L302.5,221.5" fill="none" stroke="#333" stroke-width="0.6" stroke-linejoin="round" />
<circle cx="253.6" cy="263.3" r="1.2" fill="#111"/>
<circle cx="259.2" cy="257.9" r="1.2" fill="#111"/>
<circle cx="264.5" cy="253" r="1.2" fill="#111"/>
<circle cx="269.7" cy="248.7" r="1.2" fill="#111"/>
<circle cx="275" cy="244.8" r="1.2" fill="#111"/>
<circle cx="280.4" cy="240.1" r="1.2" fill="#111"/>
<circle cx="285.7" cy="236" r="1.2" fill="#111"/>
<circle cx="290.8" cy="231.1" r="1.2" fill="#111"/>
<circle cx="301.8" cy="222.4" r="1.2" fill="#111"/>
<text x="0" y="386" font-family="'Liberation Sans', sans-serif" font-size="11.8" text-anchor="start" font-weight="normal" font-style="normal" fill="#222" >(B)</text>
<rect x="65.7" y="376" width="305.5" height="345.5" fill="none" stroke="#8a8a8a" stroke-width="1.2"/>
<line x1="65.7" y1="549" x2="371.2" y2="549" stroke="#8a8a8a" stroke-width="1.2"/>
<path d="M92.7,412.5 C92.5,395 101,381.5 113.8,381.6 C121.5,381.7 127.5,388.5 128.7,398.5" fill="none" stroke="#111" stroke-width="1.5"/>
<path d="M129.6,404.5 L125.3,397.6 L128.7,398.8 L132.2,397.4 Z" fill="#111"/>
<ellipse cx="90.1" cy="420.6" rx="2.6" ry="3.0" fill="#0a0a0a" transform="rotate(0 90.1 420.6)"/>
<ellipse cx="85.2" cy="424" rx="2.6" ry="3.0" fill="#0a0a0a" transform="rotate(0 85.2 424)"/>
<ellipse cx="95.4" cy="423.5" rx="2.6" ry="3.0" fill="#0a0a0a" transform="rotate(0 95.4 423.5)"/>
<ellipse cx="90.6" cy="425.9" rx="2.6" ry="3.0" fill="#0a0a0a" transform="rotate(0 90.6 425.9)"/>
<ellipse cx="87.7" cy="429.8" rx="2.6" ry="3.0" fill="#0a0a0a" transform="rotate(0 87.7 429.8)"/>
<ellipse cx="97.9" cy="430.3" rx="2.6" ry="3.0" fill="#0a0a0a" transform="rotate(0 97.9 430.3)"/>
<ellipse cx="93" cy="433.2" rx="2.6" ry="3.0" fill="#0a0a0a" transform="rotate(0 93 433.2)"/>
<text x="91.5" y="447.3" font-family="'Liberation Sans', sans-serif" font-size="10" text-anchor="middle" font-weight="normal" font-style="normal" fill="#222" textLength="40" lengthAdjust="spacingAndGlyphs">Magnetic</text>
<text x="91.5" y="460.4" font-family="'Liberation Sans', sans-serif" font-size="10" text-anchor="middle" font-weight="normal" font-style="normal" fill="#222" textLength="17" lengthAdjust="spacingAndGlyphs">CSs</text>
<path d="M114.8,423.9 L150.2,423.9 L150.2,447.7 Q150.2,451.3 146.6,451.3 L118.39999999999999,451.3 Q114.8,451.3 114.8,447.7 Z" fill="#fff200"/><path d="M114.8,447.7 L114.8,418.4 Q114.8,417.2 113.6,417.2 L114.4,417.2 C110.1,417.2 110.1,409.4 114.4,409.4 L150.6,409.4 C154.9,409.4 154.9,417.2 150.6,417.2 L151.39999999999998,417.2 Q150.2,417.2 150.2,418.4 L150.2,447.7 Q150.2,451.3 146.6,451.3 L118.39999999999999,451.3 Q114.8,451.3 114.8,447.7 Z" fill="none" stroke="#404040" stroke-width="0.9" stroke-linejoin="round"/>
<text x="132" y="462.4" font-family="'Liberation Sans', sans-serif" font-size="10" text-anchor="middle" font-weight="normal" font-style="normal" fill="#222" textLength="31.5" lengthAdjust="spacingAndGlyphs">Sample</text>
<line x1="157.5" y1="433.5" x2="175.79999999999998" y2="433.5" stroke="#111" stroke-width="1.5"/><path d="M181.6,433.5 L173.79999999999998,430.1 L175.79999999999998,433.5 L173.79999999999998,436.9 Z" fill="#111"/>
<path d="M190.10000000000002,423.9 L225.5,423.9 L225.5,447.59999999999997 Q225.5,451.2 221.9,451.2 L193.70000000000002,451.2 Q190.10000000000002,451.2 190.10000000000002,447.59999999999997 Z" fill="#fff200"/><ellipse cx="203.9" cy="429.3" rx="2.45" ry="3.35" fill="#0a0a0a" transform="rotate(0 203.9 429.3)"/><ellipse cx="213" cy="432.4" rx="2.45" ry="3.35" fill="#0a0a0a" transform="rotate(0 213 432.4)"/><ellipse cx="197.6" cy="436" rx="2.45" ry="3.35" fill="#0a0a0a" transform="rotate(0 197.6 436)"/><ellipse cx="203.9" cy="438.5" rx="2.45" ry="3.35" fill="#0a0a0a" transform="rotate(0 203.9 438.5)"/><ellipse cx="218.3" cy="438.5" rx="2.45" ry="3.35" fill="#0a0a0a" transform="rotate(0 218.3 438.5)"/><ellipse cx="207.8" cy="442.1" rx="2.45" ry="3.35" fill="#0a0a0a" transform="rotate(0 207.8 442.1)"/><ellipse cx="199.6" cy="445.1" rx="2.45" ry="3.35" fill="#0a0a0a" transform="rotate(0 199.6 445.1)"/><ellipse cx="213" cy="445.1" rx="2.45" ry="3.35" fill="#0a0a0a" transform="rotate(0 213 445.1)"/><path d="M190.10000000000002,447.59999999999997 L190.10000000000002,418.3 Q190.10000000000002,417.1 188.90000000000003,417.1 L189.70000000000002,417.1 C185.4,417.1 185.4,409.3 189.70000000000002,409.3 L225.9,409.3 C230.20000000000002,409.3 230.20000000000002,417.1 225.9,417.1 L226.7,417.1 Q225.5,417.1 225.5,418.3 L225.5,447.59999999999997 Q225.5,451.2 221.9,451.2 L193.70000000000002,451.2 Q190.10000000000002,451.2 190.10000000000002,447.59999999999997 Z" fill="none" stroke="#404040" stroke-width="0.9" stroke-linejoin="round"/>
<line x1="233.6" y1="434" x2="252.59999999999997" y2="434" stroke="#111" stroke-width="1.5"/><path d="M258.4,434 L250.59999999999997,430.6 L252.59999999999997,434 L250.59999999999997,437.4 Z" fill="#111"/>
<path d="M260.1,440.1 Q244,443.5 244.3,451" fill="none" stroke="#111" stroke-width="2.2" stroke-linecap="round"/><path d="M244.5,451.5 Q247,455.5 263,450.6" fill="none" stroke="#e8202a" stroke-width="2.2" stroke-linecap="round"/>
<text x="251.2" y="468.3" font-family="'Liberation Sans', sans-serif" font-size="10" text-anchor="middle" font-weight="normal" font-style="normal" fill="#222" textLength="33" lengthAdjust="spacingAndGlyphs">Magnet</text>
<path d="M266.7,423.9 L302.09999999999997,423.9 L302.09999999999997,447.4 Q302.09999999999997,451.0 298.49999999999994,451.0 L270.3,451.0 Q266.7,451.0 266.7,447.4 Z" fill="#fff200"/><ellipse cx="270.5" cy="441" rx="3.2" ry="3.4" fill="#0a0a0a" transform="rotate(0 270.5 441)"/><ellipse cx="275" cy="440.5" rx="3.2" ry="3.4" fill="#0a0a0a" transform="rotate(0 275 440.5)"/><ellipse cx="271" cy="446.5" rx="3.2" ry="3.4" fill="#0a0a0a" transform="rotate(0 271 446.5)"/><ellipse cx="276.5" cy="446" rx="3.2" ry="3.4" fill="#0a0a0a" transform="rotate(0 276.5 446)"/><ellipse cx="273" cy="443.5" rx="3.2" ry="3.4" fill="#0a0a0a" transform="rotate(0 273 443.5)"/><path d="M266.7,447.4 L266.7,418.3 Q266.7,417.1 265.5,417.1 L266.29999999999995,417.1 C262.0,417.1 262.0,409.3 266.29999999999995,409.3 L302.5,409.3 C306.79999999999995,409.3 306.79999999999995,417.1 302.5,417.1 L303.29999999999995,417.1 Q302.09999999999997,417.1 302.09999999999997,418.3 L302.09999999999997,447.4 Q302.09999999999997,451.0 298.49999999999994,451.0 L270.3,451.0 Q266.7,451.0 266.7,447.4 Z" fill="none" stroke="#404040" stroke-width="0.9" stroke-linejoin="round"/>
<line x1="310.3" y1="431.7" x2="327.8" y2="431.7" stroke="#111" stroke-width="1.5"/><path d="M333.6,431.7 L325.8,428.3 L327.8,431.7 L325.8,435.09999999999997 Z" fill="#111"/>
<ellipse cx="347" cy="430.2" rx="2.8" ry="3.2" fill="#0a0a0a" transform="rotate(-10 347 430.2)"/>
<ellipse cx="352.4" cy="426.9" rx="2.8" ry="3.2" fill="#0a0a0a" transform="rotate(-10 352.4 426.9)"/><line x1="351.5" y1="428.09999999999997" x2="353.29999999999995" y2="425.7" stroke="#fff200" stroke-width="1.2"/>
<ellipse cx="352.5" cy="433.5" rx="2.8" ry="3.2" fill="#0a0a0a" transform="rotate(-10 352.5 433.5)"/><line x1="351.6" y1="434.7" x2="353.4" y2="432.3" stroke="#fff200" stroke-width="1.2"/>
<ellipse cx="349.6" cy="437.2" rx="2.8" ry="3.2" fill="#0a0a0a" transform="rotate(-10 349.6 437.2)"/><line x1="348.70000000000005" y1="438.4" x2="350.5" y2="436.0" stroke="#fff200" stroke-width="1.2"/>
<text x="349" y="454" font-family="'Liberation Sans', sans-serif" font-size="10" text-anchor="middle" font-weight="normal" font-style="normal" fill="#222" textLength="32" lengthAdjust="spacingAndGlyphs">Sample</text>
<text x="349" y="467.8" font-family="'Liberation Sans', sans-serif" font-size="10" text-anchor="middle" font-weight="normal" font-style="normal" fill="#222" textLength="30" lengthAdjust="spacingAndGlyphs">on CSs</text>
<path d="M78.2,490 C79,483 84,479 89.8,479 C95,479 99.5,482 101.2,486.5" fill="none" stroke="#111" stroke-width="1.4"/>
<path d="M102.4,491.3 L98.8,486.2 L101.3,487 L104.3,485.4 Z" fill="#111"/>
<ellipse cx="75.3" cy="500.5" rx="3.0" ry="3.1" fill="#0a0a0a" transform="rotate(0 75.3 500.5)"/>
<ellipse cx="80.9" cy="497.8" rx="3.0" ry="3.1" fill="#0a0a0a" transform="rotate(0 80.9 497.8)"/><line x1="80.0" y1="499.0" x2="81.80000000000001" y2="496.6" stroke="#fff200" stroke-width="1.2"/>
<ellipse cx="80.5" cy="503.3" rx="3.0" ry="3.1" fill="#0a0a0a" transform="rotate(0 80.5 503.3)"/><line x1="79.6" y1="504.5" x2="81.4" y2="502.1" stroke="#fff200" stroke-width="1.2"/>
<ellipse cx="77.6" cy="507.2" rx="3.0" ry="3.1" fill="#0a0a0a" transform="rotate(0 77.6 507.2)"/><line x1="76.69999999999999" y1="508.4" x2="78.5" y2="506.0" stroke="#fff200" stroke-width="1.2"/>
<path d="M99.6,496.9 L119.39999999999999,494.2 L125.0,504.7 L109.8,509.0 Z" fill="#fff" stroke="#bdbdbd" stroke-width="0.5" stroke-dasharray="1.2,0.8"/><line x1="120.19999999999999" y1="495.3" x2="124.8" y2="494.5" stroke="#111" stroke-width="1.5"/><line x1="121.5" y1="498.3" x2="127.0" y2="497.3" stroke="#111" stroke-width="1.5"/><line x1="123.19999999999999" y1="501.5" x2="129.2" y2="500.4" stroke="#111" stroke-width="1.5"/><path d="M94.19999999999999,501.1 A8,4.9 0 0 0 109.3,506.8" fill="none" stroke="#111" stroke-width="1.3"/><line x1="99.8" y1="499.2" x2="103.39999999999999" y2="498.7" stroke="#d8b070" stroke-width="0.9"/><ellipse cx="101.6" cy="504.5" rx="4.9" ry="3.5" fill="#0a0a0a"/>
<line x1="134.2" y1="500.5" x2="152.89999999999998" y2="500.5" stroke="#111" stroke-width="1.5"/><path d="M158.7,500.5 L150.89999999999998,497.1 L152.89999999999998,500.5 L150.89999999999998,503.9 Z" fill="#111"/>
<path d="M168.7,495.2 L188.5,492.5 L194.1,503.0 L178.89999999999998,507.3 Z" fill="#fff" stroke="#bdbdbd" stroke-width="0.5" stroke-dasharray="1.2,0.8"/><line x1="189.29999999999998" y1="493.6" x2="193.89999999999998" y2="492.8" stroke="#111" stroke-width="1.5"/><line x1="190.6" y1="496.6" x2="196.1" y2="495.6" stroke="#111" stroke-width="1.5"/><line x1="192.29999999999998" y1="499.8" x2="198.29999999999998" y2="498.7" stroke="#111" stroke-width="1.5"/><path d="M163.29999999999998,499.40000000000003 A8,4.9 0 0 0 178.39999999999998,505.1" fill="none" stroke="#111" stroke-width="1.3"/><line x1="168.89999999999998" y1="497.5" x2="172.5" y2="497.0" stroke="#d8b070" stroke-width="0.9"/><ellipse cx="170.7" cy="502.8" rx="4.9" ry="3.5" fill="#0a0a0a"/>
<line x1="168.8" y1="502.4" x2="170.2" y2="500.6" stroke="#fff200" stroke-width="1"/>
<line x1="171.8" y1="504.7" x2="173.2" y2="502.90000000000003" stroke="#fff200" stroke-width="1"/>
<path d="M166.0,515.0 L167.6,529 Q168.7,534 171.7,534" fill="none" stroke="#111" stroke-width="2.3" stroke-linecap="round"/><path d="M171.7,534 Q174.7,533 175.39999999999998,528 L176.39999999999998,513.5" fill="none" stroke="#e8202a" stroke-width="2.3" stroke-linecap="round"/>
<defs><linearGradient id="bg" x1="0" y1="0" x2="1" y2="1"><stop offset="0" stop-color="#9cc3ee"/><stop offset="0.45" stop-color="#4b7fc4"/><stop offset="1" stop-color="#2a559c"/></linearGradient></defs>
<defs><linearGradient id="dg" x1="0" y1="0" x2="1" y2="0"><stop offset="0" stop-color="#a6cff2"/><stop offset="1" stop-color="#eef6fc"/></linearGradient></defs>
<path d="M218.1,474.6 C221.5,474.8 224.6,481 224.5,486.5 C224.4,491 221.5,494 217.3,494 C213,494 210.2,491 210.2,486.5 C210.2,481 214.5,474.4 218.1,474.6 Z" fill="url(#dg)" stroke="#8a9aa8" stroke-width="0.5" stroke-dasharray="0.8,0.5"/>
<line x1="205.5" y1="500" x2="223.79999999999998" y2="500" stroke="#111" stroke-width="1.5"/><path d="M229.6,500 L221.79999999999998,496.6 L223.79999999999998,500 L221.79999999999998,503.4 Z" fill="#111"/>
<text x="217" y="518.6" font-family="'Liberation Sans', sans-serif" font-size="10" text-anchor="middle" font-weight="normal" font-style="normal" fill="#222" textLength="25" lengthAdjust="spacingAndGlyphs">Buffer</text>
<path d="M242.9,493.9 L262.7,491.2 L268.3,501.7 L253.1,506.0 Z" fill="#fff" stroke="#bdbdbd" stroke-width="0.5" stroke-dasharray="1.2,0.8"/><line x1="263.5" y1="492.3" x2="268.1" y2="491.5" stroke="#111" stroke-width="1.5"/><line x1="264.8" y1="495.3" x2="270.3" y2="494.3" stroke="#111" stroke-width="1.5"/><line x1="266.5" y1="498.5" x2="272.5" y2="497.4" stroke="#111" stroke-width="1.5"/><path d="M243.9,508.0 Q250.9,508.3 254.5,505.3" fill="none" stroke="#111" stroke-width="1.4"/><ellipse cx="246.20000000000002" cy="501.7" rx="8" ry="6.1" fill="url(#bg)"/><ellipse cx="247.1" cy="502.7" rx="4.8" ry="3.4" fill="#1d3c78" opacity="0.75"/><line x1="244.6" y1="501.7" x2="245.8" y2="500.7" stroke="#fff200" stroke-width="0.9"/><line x1="248.1" y1="503.9" x2="249.3" y2="502.9" stroke="#fff200" stroke-width="0.9"/>
<path d="M241.3,513.0 L242.9,526 Q244.0,531 247.0,531" fill="none" stroke="#111" stroke-width="2.3" stroke-linecap="round"/><path d="M247.0,531 Q250.0,530 250.7,525 L251.7,511.5" fill="none" stroke="#e8202a" stroke-width="2.3" stroke-linecap="round"/>
<line x1="277" y1="499.3" x2="296.7" y2="499.3" stroke="#111" stroke-width="1.5"/><path d="M302.5,499.3 L294.7,495.90000000000003 L296.7,499.3 L294.7,502.7 Z" fill="#111"/>
<text x="288.7" y="517.2" font-family="'Liberation Sans', sans-serif" font-size="10" text-anchor="middle" font-weight="normal" font-style="normal" fill="#222" textLength="35.5" lengthAdjust="spacingAndGlyphs">Measure</text>
<path d="M319.9,508.4 C326,506 329,502 332,494 C334,488 335.5,485.8 336.7,485.9 C338,486 339.5,491 341,495.5 C343,500 347,501.5 356,501" fill="none" stroke="#111" stroke-width="1.2"/>
<path d="M319.9,515.9 L357.3,511" fill="none" stroke="#111" stroke-width="1.5" stroke-dasharray="4,4.5"/>
<text x="353.7" y="489.6" font-family="'Liberation Sans', sans-serif" font-size="10" text-anchor="middle" font-weight="normal" font-style="normal" fill="#222" textLength="23.5" lengthAdjust="spacingAndGlyphs">+ CSs</text>
<text x="353.3" y="526" font-family="'Liberation Sans', sans-serif" font-size="10" text-anchor="middle" font-weight="normal" font-style="normal" fill="#222" textLength="22.6" lengthAdjust="spacingAndGlyphs">– CSs</text>
<text x="101.1" y="530.5" font-family="'Liberation Sans', sans-serif" font-size="10" text-anchor="middle" font-weight="normal" font-style="normal" fill="#222" textLength="63.8" lengthAdjust="spacingAndGlyphs">CSs transferred</text>
<text x="101.3" y="544" font-family="'Liberation Sans', sans-serif" font-size="10" text-anchor="middle" font-weight="normal" font-style="normal" fill="#222" textLength="30.1" lengthAdjust="spacingAndGlyphs">on SPE</text>
<path d="M119.3,567 L119.3,680 L286.4,680" fill="none" stroke="#111" stroke-width="0.9"/>
<line x1="116.5" y1="575.5" x2="119.3" y2="575.5" stroke="#111" stroke-width="0.8"/>
<text x="114.3" y="579.3" font-family="'Liberation Sans', sans-serif" font-size="10.5" text-anchor="end" font-weight="normal" font-style="normal" fill="#222" >40</text>
<line x1="116.5" y1="598.4" x2="119.3" y2="598.4" stroke="#111" stroke-width="0.8"/>
<text x="114.3" y="602.1999999999999" font-family="'Liberation Sans', sans-serif" font-size="10.5" text-anchor="end" font-weight="normal" font-style="normal" fill="#222" >20</text>
<line x1="116.5" y1="621.3" x2="119.3" y2="621.3" stroke="#111" stroke-width="0.8"/>
<text x="114.3" y="625.0999999999999" font-family="'Liberation Sans', sans-serif" font-size="10.5" text-anchor="end" font-weight="normal" font-style="normal" fill="#222" >0</text>
<line x1="116.5" y1="644.1999999999999" x2="119.3" y2="644.1999999999999" stroke="#111" stroke-width="0.8"/>
<text x="114.3" y="647.9999999999999" font-family="'Liberation Sans', sans-serif" font-size="10.5" text-anchor="end" font-weight="normal" font-style="normal" fill="#222" >−20</text>
<line x1="116.5" y1="667.0999999999999" x2="119.3" y2="667.0999999999999" stroke="#111" stroke-width="0.8"/>
<text x="114.3" y="670.8999999999999" font-family="'Liberation Sans', sans-serif" font-size="10.5" text-anchor="end" font-weight="normal" font-style="normal" fill="#222" >−40</text>
<line x1="135.4" y1="680" x2="135.4" y2="683" stroke="#111" stroke-width="0.8"/>
<text x="132.9" y="696.2" font-family="'Liberation Sans', sans-serif" font-size="9.6" text-anchor="middle" font-weight="normal" font-style="normal" fill="#222" >−0.4</text>
<line x1="184.8" y1="680" x2="184.8" y2="683" stroke="#111" stroke-width="0.8"/>
<text x="184.8" y="696.2" font-family="'Liberation Sans', sans-serif" font-size="9.6" text-anchor="middle" font-weight="normal" font-style="normal" fill="#222" >0</text>
<line x1="234.20000000000002" y1="680" x2="234.20000000000002" y2="683" stroke="#111" stroke-width="0.8"/>
<text x="234.20000000000002" y="696.2" font-family="'Liberation Sans', sans-serif" font-size="9.6" text-anchor="middle" font-weight="normal" font-style="normal" fill="#222" >0.4</text>
<line x1="283.6" y1="680" x2="283.6" y2="683" stroke="#111" stroke-width="0.8"/>
<text x="283.6" y="696.2" font-family="'Liberation Sans', sans-serif" font-size="9.6" text-anchor="middle" font-weight="normal" font-style="normal" fill="#222" >0.8</text>
<text x="207.6" y="711.6" font-family="'Liberation Sans', sans-serif" font-size="12" text-anchor="middle" font-weight="normal" font-style="normal" fill="#222" textLength="142" lengthAdjust="spacingAndGlyphs">Potential vs (Ag/AgCl)  (V)</text>
<text x="0" y="0" font-family="'Liberation Sans', sans-serif" font-size="12" text-anchor="middle" font-weight="normal" font-style="normal" fill="#222" transform="translate(88.5,628) rotate(-90)" textLength="139" lengthAdjust="spacingAndGlyphs">Current (CSs)  (μA mg<tspan dy="-4" font-size="7">−1</tspan><tspan dy="4">)</tspan></text>
<path d="M135.9,622 L258.2,621.2" fill="none" stroke="#111" stroke-width="1.6"/>
<path d="M135.9,642.1 L137.3,641.8 L138.6,641.6 L140.0,641.3 L141.4,641.1 L142.8,640.8 L144.1,640.6 L145.5,640.3 L146.9,640.1 L148.3,639.8 L149.6,639.6 L151.0,639.3 L152.4,639.1 L153.8,638.8 L155.1,638.6 L156.5,638.3 L157.9,638.1 L159.3,637.9 L160.6,637.7 L162.0,637.5 L163.4,637.2 L164.8,637.0 L166.1,636.8 L167.5,636.5 L168.9,636.2 L170.3,635.9 L171.6,635.6 L173.0,635.3 L174.4,634.9 L175.8,634.6 L177.1,634.1 L178.5,633.7 L179.9,633.3 L181.2,632.8 L182.6,632.3 L184.0,631.8 L185.4,631.2 L186.7,630.6 L188.1,630.0 L189.5,629.3 L190.9,628.6 L192.2,627.8 L193.6,626.9 L195.0,625.9 L196.4,624.7 L197.7,623.1 L199.1,621.2 L200.5,618.5 L201.9,614.9 L203.2,610.6 L204.6,605.1 L206.0,599.2 L207.4,593.9 L208.7,588.8 L210.1,584.0 L211.5,579.8 L212.9,576.0 L214.2,574.2 L215.6,573.3 L217.0,572.9 L218.3,573.3 L219.7,574.3 L221.1,575.5 L222.5,576.8 L223.8,578.3 L225.2,579.8 L226.6,581.3 L228.0,582.9 L229.3,584.6 L230.7,586.4 L232.1,588.1 L233.5,589.6 L234.8,591.0 L236.2,592.3 L237.6,593.5 L239.0,594.6 L240.3,595.5 L241.7,596.4 L243.1,597.2 L244.5,598.0 L245.8,598.7 L247.2,599.4 L248.6,600.0 L250.0,600.7 L251.3,601.2 L252.7,601.7 L254.1,602.1 L255.5,602.5 L256.8,602.8 L258.2,603.0 L258.2,603.0 L256.8,603.4 L255.5,603.9 L254.1,604.3 L252.7,604.7 L251.3,605.2 L250.0,605.6 L248.6,606.0 L247.2,606.4 L245.8,606.8 L244.5,607.2 L243.1,607.6 L241.7,607.9 L240.3,608.2 L239.0,608.5 L237.6,608.8 L236.2,609.2 L234.8,609.4 L233.5,609.7 L232.1,610.0 L230.7,610.3 L229.3,610.7 L228.0,611.0 L226.6,611.4 L225.2,611.9 L223.8,612.4 L222.5,613.0 L221.1,613.8 L219.7,614.8 L218.3,616.0 L217.0,617.4 L215.6,619.4 L214.2,620.9 L212.9,621.9 L211.5,623.9 L210.1,627.7 L208.7,633.2 L207.4,640.0 L206.0,646.4 L204.6,652.4 L203.2,658.0 L201.9,663.0 L200.5,666.4 L199.1,669.1 L197.7,670.9 L196.4,671.6 L195.0,671.9 L193.6,672.0 L192.2,671.3 L190.9,670.2 L189.5,668.8 L188.1,667.6 L186.7,666.3 L185.4,664.8 L184.0,663.4 L182.6,662.0 L181.2,660.7 L179.9,659.4 L178.5,658.2 L177.1,657.1 L175.8,656.0 L174.4,655.0 L173.0,654.0 L171.6,653.2 L170.3,652.4 L168.9,651.8 L167.5,651.4 L166.1,650.9 L164.8,650.4 L163.4,649.8 L162.0,649.2 L160.6,648.6 L159.3,647.9 L157.9,647.3 L156.5,646.7 L155.1,646.2 L153.8,645.7 L152.4,645.3 L151.0,644.9 L149.6,644.6 L148.3,644.2 L146.9,643.9 L145.5,643.6 L144.1,643.3 L142.8,643.0 L141.4,642.8 L140.0,642.5 L138.6,642.4 L137.3,642.2 L135.9,642.1" fill="none" stroke="#36b44a" stroke-width="1.5" stroke-linejoin="round" />
<path d="M135.9,632.0 L137.3,631.8 L138.6,631.6 L140.0,631.4 L141.4,631.2 L142.8,631.1 L144.1,630.9 L145.5,630.7 L146.9,630.5 L148.3,630.4 L149.6,630.2 L151.0,630.0 L152.4,629.9 L153.8,629.7 L155.1,629.6 L156.5,629.4 L157.9,629.3 L159.3,629.2 L160.6,629.1 L162.0,628.9 L163.4,628.8 L164.8,628.7 L166.1,628.6 L167.5,628.4 L168.9,628.3 L170.3,628.2 L171.6,628.0 L173.0,627.9 L174.4,627.7 L175.8,627.6 L177.1,627.4 L178.5,627.2 L179.9,627.0 L181.2,626.8 L182.6,626.6 L184.0,626.3 L185.4,626.1 L186.7,625.8 L188.1,625.4 L189.5,625.1 L190.9,624.7 L192.2,624.4 L193.6,623.9 L195.0,623.3 L196.4,622.6 L197.7,621.6 L199.1,620.2 L200.5,618.3 L201.9,615.7 L203.2,613.0 L204.6,610.4 L206.0,607.8 L207.4,605.3 L208.7,603.2 L210.1,601.1 L211.5,599.5 L212.9,598.5 L214.2,597.8 L215.6,597.4 L217.0,597.4 L218.3,597.7 L219.7,598.1 L221.1,598.6 L222.5,599.6 L223.8,600.7 L225.2,601.6 L226.6,602.4 L228.0,603.1 L229.3,603.8 L230.7,604.5 L232.1,605.1 L233.5,605.7 L234.8,606.2 L236.2,606.7 L237.6,607.2 L239.0,607.7 L240.3,608.1 L241.7,608.5 L243.1,608.9 L244.5,609.2 L245.8,609.6 L247.2,609.9 L248.6,610.2 L250.0,610.5 L251.3,610.7 L252.7,611.0 L254.1,611.2 L255.5,611.4 L256.8,611.6 L258.2,611.8 L258.2,611.8 L256.8,612.1 L255.5,612.4 L254.1,612.7 L252.7,613.0 L251.3,613.3 L250.0,613.6 L248.6,613.8 L247.2,614.0 L245.8,614.2 L244.5,614.4 L243.1,614.6 L241.7,614.8 L240.3,614.9 L239.0,615.2 L237.6,615.4 L236.2,615.6 L234.8,615.8 L233.5,616.0 L232.1,616.3 L230.7,616.5 L229.3,616.7 L228.0,617.0 L226.6,617.3 L225.2,617.5 L223.8,617.8 L222.5,618.1 L221.1,618.5 L219.7,619.0 L218.3,619.6 L217.0,620.2 L215.6,620.8 L214.2,621.2 L212.9,621.5 L211.5,622.4 L210.1,624.3 L208.7,626.8 L207.4,630.6 L206.0,634.6 L204.6,637.8 L203.2,640.7 L201.9,642.9 L200.5,644.5 L199.1,645.7 L197.7,646.2 L196.4,646.4 L195.0,646.5 L193.6,646.4 L192.2,646.0 L190.9,645.4 L189.5,644.8 L188.1,644.2 L186.7,643.5 L185.4,642.8 L184.0,642.0 L182.6,641.3 L181.2,640.6 L179.9,639.9 L178.5,639.4 L177.1,638.9 L175.8,638.5 L174.4,638.1 L173.0,637.7 L171.6,637.3 L170.3,637.0 L168.9,636.7 L167.5,636.4 L166.1,636.1 L164.8,635.9 L163.4,635.6 L162.0,635.3 L160.6,635.0 L159.3,634.7 L157.9,634.4 L156.5,634.1 L155.1,633.9 L153.8,633.6 L152.4,633.5 L151.0,633.3 L149.6,633.1 L148.3,633.0 L146.9,632.8 L145.5,632.7 L144.1,632.5 L142.8,632.4 L141.4,632.3 L140.0,632.2 L138.6,632.1 L137.3,632.0 L135.9,632.0" fill="none" stroke="#e8202a" stroke-width="1.5" stroke-linejoin="round" />
<line x1="278.2" y1="584.7" x2="301.5" y2="584.7" stroke="#111" stroke-width="2"/>
<line x1="278.2" y1="619.5" x2="301.5" y2="619.5" stroke="#e8202a" stroke-width="2"/>
<line x1="278.2" y1="654.9" x2="301.5" y2="654.9" stroke="#36b44a" stroke-width="2"/>
<text x="309.5" y="588.2" font-family="'Liberation Sans', sans-serif" font-size="10" text-anchor="start" font-weight="normal" font-style="normal" fill="#222" textLength="29.4" lengthAdjust="spacingAndGlyphs">No CSs</text>
<text x="309.5" y="614.2" font-family="'Liberation Sans', sans-serif" font-size="10" text-anchor="start" font-weight="normal" font-style="normal" fill="#222" textLength="40.2" lengthAdjust="spacingAndGlyphs">1 mg CSs</text>
<text x="309.5" y="627.5" font-family="'Liberation Sans', sans-serif" font-size="10" text-anchor="start" font-weight="normal" font-style="normal" fill="#222" textLength="38.8" lengthAdjust="spacingAndGlyphs">after 10′</text>
<text x="309.5" y="649.8" font-family="'Liberation Sans', sans-serif" font-size="10" text-anchor="start" font-weight="normal" font-style="normal" fill="#222" textLength="40.2" lengthAdjust="spacingAndGlyphs">1 mg CSs</text>
<text x="309.5" y="663.1" font-family="'Liberation Sans', sans-serif" font-size="10" text-anchor="start" font-weight="normal" font-style="normal" fill="#222" textLength="38.8" lengthAdjust="spacingAndGlyphs">after 30′</text>
</svg>
</body></html>
